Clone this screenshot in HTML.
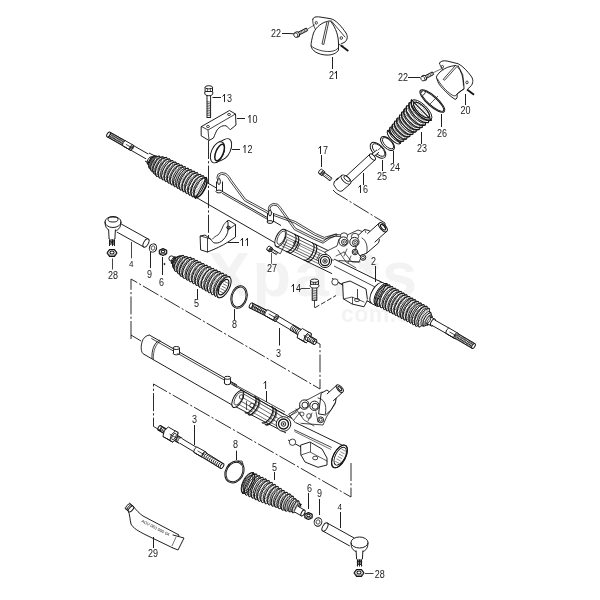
<!DOCTYPE html>
<html><head><meta charset="utf-8"><style>
html,body{margin:0;padding:0;background:#fff;}
svg{display:block;will-change:transform;}
text{font-family:"Liberation Sans",sans-serif;fill:#1a1a1a;}
.wm text{fill:#f3f3f3;font-weight:bold;}
</style></head><body>
<svg width="600" height="600" viewBox="0 0 600 600">
<rect width="600" height="600" fill="#fff"/>
<g class="wm"><text x="208" y="296" font-size="63" letter-spacing="2.6">Xparts</text><text x="341" y="322" font-size="23" letter-spacing="0.5">com.ua</text></g>
<path d="M312.8,19.3 C313,17 316,16.5 320,17 L331,18.8 C336,20 342,27 346,33 C348,36 347.5,40 345,42 L341,44" fill="none" stroke="#141414" stroke-width="0.95" stroke-linejoin="round" stroke-linecap="round"/>
<path d="M329,21 C322,22 316,27 313.5,33 C312,38 311,43 311,46 C312,51 318,54.5 326,55 C332,55.5 337,53 338.5,50 L338.5,44 C338.5,36 336,28 331,21.7 Z" fill="#fff" stroke="#141414" stroke-width="0.95" stroke-linejoin="round" stroke-linecap="round"/>
<path d="M331,20.5 L345,37" fill="none" stroke="#141414" stroke-width="0.8" stroke-linejoin="round" stroke-linecap="round"/>
<path d="M311.3,46 C315,49.5 323,51.8 330,51.5 C334.5,51.2 337.5,49.5 338.5,47.5" fill="none" stroke="#141414" stroke-width="0.8" stroke-linejoin="round" stroke-linecap="round"/>
<path d="M312.8,19.3 C312.5,22 313,25 315,28.5" fill="none" stroke="#141414" stroke-width="0.8" stroke-linejoin="round" stroke-linecap="round"/>
<ellipse cx="316.3" cy="22.8" rx="1.1" ry="1.4" transform="rotate(0.0 316.3 22.8)" fill="none" stroke="#141414" stroke-width="0.8"/>
<path d="M327,21.7 L322,44 L323.8,44.4 L328.8,21.7" fill="#fff" stroke="#141414" stroke-width="0.8" stroke-linejoin="round" stroke-linecap="round"/>
<ellipse cx="341.3" cy="38.0" rx="1.2" ry="1.4" transform="rotate(0.0 341.3 38.0)" fill="none" stroke="#141414" stroke-width="0.8"/>
<path d="M339,44 C340,46 342,47 343,46" fill="none" stroke="#141414" stroke-width="0.8" stroke-linejoin="round" stroke-linecap="round"/>
<line x1="341.0" y1="45.5" x2="348.3" y2="51.0" stroke="#141414" stroke-width="1.8"/>
<line x1="307.0" y1="29.5" x2="315.0" y2="24.6" stroke="#141414" stroke-width="0.6"/>
<polygon points="297.7,35.8 307.7,30.6 306.3,28.0 296.3,33.2" fill="#fff" stroke="#141414" stroke-width="0.95" stroke-linejoin="round"/>
<line x1="300.5" y1="34.3" x2="299.9" y2="31.3" stroke="#141414" stroke-width="0.6"/>
<line x1="302.0" y1="33.6" x2="301.3" y2="30.6" stroke="#141414" stroke-width="0.6"/>
<line x1="303.4" y1="32.8" x2="302.7" y2="29.8" stroke="#141414" stroke-width="0.6"/>
<line x1="304.8" y1="32.1" x2="304.2" y2="29.1" stroke="#141414" stroke-width="0.6"/>
<line x1="306.3" y1="31.4" x2="305.6" y2="28.4" stroke="#141414" stroke-width="0.6"/>
<ellipse cx="297.0" cy="34.5" rx="2.7" ry="2.4" transform="rotate(62.5 297.0 34.5)" fill="#fff" stroke="#141414" stroke-width="0.95"/>
<ellipse cx="295.8" cy="35.1" rx="2.4" ry="1.9" transform="rotate(62.5 295.8 35.1)" fill="#fff" stroke="#141414" stroke-width="0.76"/>
<line x1="290.0" y1="33.6" x2="294.0" y2="33.8" stroke="#141414" stroke-width="0.95"/>
<line x1="282.0" y1="33.5" x2="290.0" y2="33.5" stroke="#141414" stroke-width="0.95"/>
<text transform="translate(271.0,37.0) scale(0.9,1)" font-size="10">2</text>
<text transform="translate(276.0,37.0) scale(0.9,1)" font-size="10">2</text>
<line x1="332.5" y1="57.0" x2="332.5" y2="69.0" stroke="#141414" stroke-width="0.95"/>
<text transform="translate(329.0,79.0) scale(0.9,1)" font-size="10">2</text>
<path d="M334.50,73.40 L336.10,72.00 L336.50,71.10 L336.50,79.00" fill="none" stroke="#1a1a1a" stroke-width="0.95" stroke-linejoin="miter"/>
<path d="M439.5,63.2 C440,61 443,60.5 447,61 L458.2,63.75 C463,66 468,72 471,76 C473,78.5 473.5,82 471.6,85.3 L468,88.8" fill="none" stroke="#141414" stroke-width="0.95" stroke-linejoin="round" stroke-linecap="round"/>
<path d="M455.8,65.5 C450,66 444,68 440,72 C437,75 436,77 436.6,78 C438,83 440,86 443,88.8 C447,93 451,97 455,99.3 C457,99.5 457.5,97 457,94 L464,88.8 C464,82 463,76 460,70 Z" fill="#fff" stroke="#141414" stroke-width="0.95" stroke-linejoin="round" stroke-linecap="round"/>
<path d="M458,65.5 L462.8,74.8 L463.4,85.3" fill="none" stroke="#141414" stroke-width="0.8" stroke-linejoin="round" stroke-linecap="round"/>
<path d="M437.5,79 C440,84 446,91 452,95 C454.5,96.5 456.2,96 456.8,94.5" fill="none" stroke="#141414" stroke-width="0.8" stroke-linejoin="round" stroke-linecap="round"/>
<path d="M439.5,63.2 C440,65 441,68 443,70" fill="none" stroke="#141414" stroke-width="0.8" stroke-linejoin="round" stroke-linecap="round"/>
<ellipse cx="442.4" cy="66.7" rx="1.1" ry="1.3" transform="rotate(0.0 442.4 66.7)" fill="none" stroke="#141414" stroke-width="0.8"/>
<path d="M455,66 L443.2,79.3 L444.5,80.3 L456.5,67" fill="#fff" stroke="#141414" stroke-width="0.8" stroke-linejoin="round" stroke-linecap="round"/>
<ellipse cx="467.0" cy="82.4" rx="1.2" ry="1.4" transform="rotate(0.0 467.0 82.4)" fill="none" stroke="#141414" stroke-width="0.8"/>
<path d="M457,94 C459,92 462,90 464,89" fill="none" stroke="#141414" stroke-width="0.8" stroke-linejoin="round" stroke-linecap="round"/>
<line x1="467.0" y1="89.5" x2="474.0" y2="94.7" stroke="#141414" stroke-width="1.8"/>
<line x1="432.5" y1="73.0" x2="442.4" y2="68.4" stroke="#141414" stroke-width="0.6"/>
<polygon points="424.7,79.3 433.7,74.5 432.3,71.9 423.3,76.7" fill="#fff" stroke="#141414" stroke-width="0.95" stroke-linejoin="round"/>
<line x1="427.7" y1="77.7" x2="427.0" y2="74.7" stroke="#141414" stroke-width="0.6"/>
<line x1="429.2" y1="76.9" x2="428.5" y2="73.9" stroke="#141414" stroke-width="0.6"/>
<line x1="430.7" y1="76.1" x2="430.0" y2="73.1" stroke="#141414" stroke-width="0.6"/>
<line x1="432.2" y1="75.3" x2="431.5" y2="72.3" stroke="#141414" stroke-width="0.6"/>
<ellipse cx="424.0" cy="78.0" rx="2.7" ry="2.4" transform="rotate(61.9 424.0 78.0)" fill="#fff" stroke="#141414" stroke-width="0.95"/>
<ellipse cx="422.8" cy="78.6" rx="2.4" ry="1.9" transform="rotate(61.9 422.8 78.6)" fill="#fff" stroke="#141414" stroke-width="0.76"/>
<line x1="408.0" y1="77.5" x2="420.0" y2="77.5" stroke="#141414" stroke-width="0.95"/>
<text transform="translate(398.0,81.0) scale(0.9,1)" font-size="10">2</text>
<text transform="translate(403.0,81.0) scale(0.9,1)" font-size="10">2</text>
<line x1="465.5" y1="94.0" x2="465.5" y2="105.0" stroke="#141414" stroke-width="0.95"/>
<text transform="translate(460.5,114.0) scale(0.9,1)" font-size="10">2</text>
<text transform="translate(465.5,114.0) scale(0.9,1)" font-size="10">0</text>
<ellipse cx="432.3" cy="101.0" rx="16.0" ry="5.2" transform="rotate(41.7 432.3 101.0)" fill="none" stroke="#141414" stroke-width="0.95"/>
<ellipse cx="432.3" cy="101.0" rx="14.8" ry="4.2" transform="rotate(41.7 432.3 101.0)" fill="none" stroke="#141414" stroke-width="0.95"/>
<ellipse cx="423.0" cy="93.0" rx="1.8" ry="2.6" transform="rotate(41.7 423.0 93.0)" fill="#fff" stroke="#141414" stroke-width="0.8"/>
<line x1="430.0" y1="104.0" x2="438.0" y2="96.0" stroke="#141414" stroke-width="0.7"/>
<line x1="441.5" y1="114.0" x2="441.5" y2="127.0" stroke="#141414" stroke-width="0.95"/>
<text transform="translate(437.0,137.0) scale(0.9,1)" font-size="10">2</text>
<text transform="translate(442.0,137.0) scale(0.9,1)" font-size="10">6</text>
<polygon points="400.3,143.4 400.6,143.0 400.7,142.5 400.9,141.9 401.1,141.5 401.6,141.3 402.3,141.3 402.9,141.3 403.4,141.1 403.7,140.7 403.8,140.1 403.9,139.6 404.2,139.2 404.7,139.0 405.4,139.0 406.0,139.0 406.6,138.8 406.8,138.4 406.9,137.8 407.0,137.2 407.3,136.8 407.8,136.6 408.5,136.6 409.2,136.6 409.7,136.5 409.9,136.0 410.0,135.4 410.1,134.8 410.4,134.4 410.9,134.3 411.6,134.3 412.3,134.3 412.8,134.1 413.1,133.7 413.1,133.1 413.2,132.5 413.5,132.1 414.0,131.9 414.7,131.9 415.4,132.0 415.9,131.8 416.2,131.4 416.2,130.8 416.3,130.1 416.5,129.7 417.1,129.5 417.8,129.6 418.5,129.6 419.0,129.5 419.3,129.1 419.3,128.4 419.4,127.8 419.6,127.3 420.1,127.2 420.9,127.2 421.6,127.3 422.2,127.2 422.4,126.7 422.4,126.1 422.5,125.4 422.7,125.0 423.2,124.8 424.0,124.9 424.7,125.0 425.3,124.9 425.5,124.4 425.5,123.7 425.5,123.1 425.8,122.6 426.3,122.5 427.1,122.6 427.9,122.7 428.4,122.5 428.6,122.1 428.6,121.4 428.6,120.7 428.9,120.2 429.4,120.1 430.2,120.2 431.0,120.3 431.5,120.2 411.5,99.8 411.3,100.3 411.4,101.1 411.5,101.9 411.4,102.5 410.9,102.7 410.2,102.7 409.6,102.6 409.1,102.9 409.0,103.4 409.0,104.2 409.1,105.0 409.0,105.5 408.5,105.7 407.8,105.7 407.2,105.7 406.7,105.9 406.6,106.5 406.6,107.2 406.7,108.0 406.6,108.5 406.1,108.8 405.4,108.8 404.8,108.8 404.3,109.0 404.2,109.6 404.2,110.3 404.3,111.0 404.1,111.6 403.7,111.8 403.0,111.8 402.4,111.9 402.0,112.1 401.8,112.6 401.8,113.4 401.9,114.1 401.7,114.6 401.3,114.8 400.6,114.9 400.0,114.9 399.6,115.2 399.4,115.7 399.4,116.4 399.5,117.1 399.3,117.6 398.9,117.9 398.2,117.9 397.6,118.0 397.2,118.3 397.0,118.8 397.0,119.5 397.1,120.2 396.9,120.7 396.4,120.9 395.8,121.0 395.2,121.1 394.8,121.3 394.6,121.8 394.6,122.5 394.6,123.2 394.5,123.7 394.0,124.0 393.4,124.1 392.9,124.1 392.4,124.4 392.3,124.9 392.2,125.6 392.2,126.2 392.0,126.7 391.6,127.0 391.0,127.1 390.5,127.2 390.1,127.5 389.9,128.0 389.8,128.6 389.8,129.3 389.6,129.8 389.2,130.1 388.6,130.2 388.1,130.3 387.7,130.6" fill="#fff" stroke="#141414" stroke-width="1.05" stroke-linejoin="round"/>
<path d="M400.3,143.4 A8.9,3.7 45.5 0 1 387.7,130.6" fill="none" stroke="#141414" stroke-width="1.05" stroke-linejoin="round" stroke-linecap="round"/>
<path d="M401.1,141.5 A8.2,3.5 45.5 0 1 389.6,129.8" fill="none" stroke="#141414" stroke-width="0.8400000000000001" stroke-linejoin="round" stroke-linecap="round"/>
<path d="M403.4,141.0 A9.5,4.0 45.5 0 1 390.1,127.6" fill="none" stroke="#141414" stroke-width="1.05" stroke-linejoin="round" stroke-linecap="round"/>
<path d="M404.2,139.2 A8.7,3.7 45.5 0 1 392.0,126.7" fill="none" stroke="#141414" stroke-width="0.8400000000000001" stroke-linejoin="round" stroke-linecap="round"/>
<path d="M406.5,138.7 A10.0,4.2 45.5 0 1 392.5,124.5" fill="none" stroke="#141414" stroke-width="1.05" stroke-linejoin="round" stroke-linecap="round"/>
<path d="M407.3,136.8 A9.2,3.8 45.5 0 1 394.5,123.7" fill="none" stroke="#141414" stroke-width="0.8400000000000001" stroke-linejoin="round" stroke-linecap="round"/>
<path d="M409.6,136.4 A10.5,4.4 45.5 0 1 394.9,121.4" fill="none" stroke="#141414" stroke-width="1.05" stroke-linejoin="round" stroke-linecap="round"/>
<path d="M410.4,134.4 A9.6,4.0 45.5 0 1 396.9,120.7" fill="none" stroke="#141414" stroke-width="0.8400000000000001" stroke-linejoin="round" stroke-linecap="round"/>
<path d="M412.7,134.1 A11.0,4.6 45.5 0 1 397.3,118.3" fill="none" stroke="#141414" stroke-width="1.05" stroke-linejoin="round" stroke-linecap="round"/>
<path d="M413.5,132.1 A10.1,4.2 45.5 0 1 399.3,117.6" fill="none" stroke="#141414" stroke-width="0.8400000000000001" stroke-linejoin="round" stroke-linecap="round"/>
<path d="M415.8,131.7 A11.6,4.9 45.5 0 1 399.7,115.3" fill="none" stroke="#141414" stroke-width="1.05" stroke-linejoin="round" stroke-linecap="round"/>
<path d="M416.5,129.7 A10.6,4.4 45.5 0 1 401.7,114.6" fill="none" stroke="#141414" stroke-width="0.8400000000000001" stroke-linejoin="round" stroke-linecap="round"/>
<path d="M419.0,129.4 A12.1,5.1 45.5 0 1 402.0,112.2" fill="none" stroke="#141414" stroke-width="1.05" stroke-linejoin="round" stroke-linecap="round"/>
<path d="M419.6,127.3 A11.0,4.6 45.5 0 1 404.1,111.6" fill="none" stroke="#141414" stroke-width="0.8400000000000001" stroke-linejoin="round" stroke-linecap="round"/>
<path d="M422.1,127.1 A12.6,5.3 45.5 0 1 404.4,109.1" fill="none" stroke="#141414" stroke-width="1.05" stroke-linejoin="round" stroke-linecap="round"/>
<path d="M422.7,125.0 A11.5,4.8 45.5 0 1 406.6,108.5" fill="none" stroke="#141414" stroke-width="0.8400000000000001" stroke-linejoin="round" stroke-linecap="round"/>
<path d="M425.2,124.8 A13.1,5.5 45.5 0 1 406.8,106.0" fill="none" stroke="#141414" stroke-width="1.05" stroke-linejoin="round" stroke-linecap="round"/>
<path d="M425.8,122.6 A12.0,5.0 45.5 0 1 409.0,105.5" fill="none" stroke="#141414" stroke-width="0.8400000000000001" stroke-linejoin="round" stroke-linecap="round"/>
<path d="M428.3,122.4 A13.7,5.7 45.5 0 1 409.2,103.0" fill="none" stroke="#141414" stroke-width="1.05" stroke-linejoin="round" stroke-linecap="round"/>
<path d="M428.9,120.2 A12.5,5.2 45.5 0 1 411.4,102.5" fill="none" stroke="#141414" stroke-width="0.8400000000000001" stroke-linejoin="round" stroke-linecap="round"/>
<path d="M431.4,120.1 A14.2,6.0 45.5 0 1 411.6,99.9" fill="none" stroke="#141414" stroke-width="1.05" stroke-linejoin="round" stroke-linecap="round"/>
<polyline points="389.8,130.9 390.1,130.5 390.4,130.1 390.8,129.8 391.1,129.4 391.4,129.0 391.7,128.6 392.0,128.2 392.3,127.8 392.6,127.5 392.9,127.1 393.3,126.7 393.6,126.3 393.9,125.9 394.2,125.5 394.5,125.2 394.8,124.8 395.1,124.4 395.4,124.0 395.8,123.6 396.1,123.3 396.4,122.9 396.7,122.5 397.0,122.1 397.3,121.7 397.6,121.3 398.0,121.0 398.3,120.6 398.6,120.2 398.9,119.8 399.2,119.4 399.5,119.0 399.8,118.7 400.1,118.3 400.5,117.9 400.8,117.5 401.1,117.1 401.4,116.8 401.7,116.4 402.0,116.0 402.3,115.6 402.6,115.2 403.0,114.8 403.3,114.5 403.6,114.1 403.9,113.7 404.2,113.3 404.5,112.9 404.8,112.5 405.1,112.2 405.5,111.8 405.8,111.4 406.1,111.0 406.4,110.6 406.7,110.3 407.0,109.9 407.3,109.5 407.7,109.1 408.0,108.7 408.3,108.3 408.6,108.0 408.9,107.6 409.2,107.2 409.5,106.8 409.8,106.4 410.2,106.0 410.5,105.7 410.8,105.3 411.1,104.9 411.4,104.5 411.7,104.1 412.0,103.8 412.3,103.4 412.7,103.0 413.0,102.6 413.3,102.2 413.6,101.8 413.9,101.5 414.2,101.1 414.5,100.7 414.9,100.3" fill="none" stroke="#141414" stroke-width="0.6825000000000001" stroke-linejoin="round" stroke-dasharray="1.2 1.2"/>
<polyline points="391.0,131.4 391.3,131.1 391.6,130.7 392.0,130.3 392.3,129.9 392.6,129.6 392.9,129.2 393.2,128.8 393.6,128.4 393.9,128.0 394.2,127.7 394.5,127.3 394.9,126.9 395.2,126.5 395.5,126.1 395.8,125.8 396.1,125.4 396.5,125.0 396.8,124.6 397.1,124.3 397.4,123.9 397.7,123.5 398.1,123.1 398.4,122.7 398.7,122.4 399.0,122.0 399.4,121.6 399.7,121.2 400.0,120.8 400.3,120.5 400.6,120.1 401.0,119.7 401.3,119.3 401.6,119.0 401.9,118.6 402.3,118.2 402.6,117.8 402.9,117.4 403.2,117.1 403.5,116.7 403.9,116.3 404.2,115.9 404.5,115.6 404.8,115.2 405.1,114.8 405.5,114.4 405.8,114.0 406.1,113.7 406.4,113.3 406.8,112.9 407.1,112.5 407.4,112.1 407.7,111.8 408.0,111.4 408.4,111.0 408.7,110.6 409.0,110.3 409.3,109.9 409.7,109.5 410.0,109.1 410.3,108.7 410.6,108.4 410.9,108.0 411.3,107.6 411.6,107.2 411.9,106.8 412.2,106.5 412.5,106.1 412.9,105.7 413.2,105.3 413.5,105.0 413.8,104.6 414.2,104.2 414.5,103.8 414.8,103.4 415.1,103.1 415.4,102.7 415.8,102.3 416.1,101.9 416.4,101.6 416.7,101.2" fill="none" stroke="#141414" stroke-width="0.6825000000000001" stroke-linejoin="round" stroke-dasharray="1.2 1.2"/>
<polyline points="392.1,132.1 392.4,131.7 392.7,131.4 393.0,131.0 393.4,130.6 393.7,130.2 394.0,129.9 394.4,129.5 394.7,129.1 395.0,128.7 395.4,128.4 395.7,128.0 396.0,127.6 396.3,127.2 396.7,126.9 397.0,126.5 397.3,126.1 397.7,125.7 398.0,125.4 398.3,125.0 398.7,124.6 399.0,124.3 399.3,123.9 399.6,123.5 400.0,123.1 400.3,122.8 400.6,122.4 401.0,122.0 401.3,121.6 401.6,121.3 401.9,120.9 402.3,120.5 402.6,120.1 402.9,119.8 403.3,119.4 403.6,119.0 403.9,118.6 404.3,118.3 404.6,117.9 404.9,117.5 405.2,117.2 405.6,116.8 405.9,116.4 406.2,116.0 406.6,115.7 406.9,115.3 407.2,114.9 407.5,114.5 407.9,114.2 408.2,113.8 408.5,113.4 408.9,113.0 409.2,112.7 409.5,112.3 409.9,111.9 410.2,111.6 410.5,111.2 410.8,110.8 411.2,110.4 411.5,110.1 411.8,109.7 412.2,109.3 412.5,108.9 412.8,108.6 413.1,108.2 413.5,107.8 413.8,107.4 414.1,107.1 414.5,106.7 414.8,106.3 415.1,105.9 415.5,105.6 415.8,105.2 416.1,104.8 416.4,104.5 416.8,104.1 417.1,103.7 417.4,103.3 417.8,103.0 418.1,102.6 418.4,102.2" fill="none" stroke="#141414" stroke-width="0.6825000000000001" stroke-linejoin="round" stroke-dasharray="1.2 1.2"/>
<polyline points="393.1,132.8 393.4,132.5 393.7,132.1 394.1,131.7 394.4,131.3 394.7,131.0 395.1,130.6 395.4,130.2 395.8,129.9 396.1,129.5 396.4,129.1 396.8,128.8 397.1,128.4 397.4,128.0 397.8,127.7 398.1,127.3 398.4,126.9 398.8,126.6 399.1,126.2 399.5,125.8 399.8,125.5 400.1,125.1 400.5,124.7 400.8,124.3 401.1,124.0 401.5,123.6 401.8,123.2 402.2,122.9 402.5,122.5 402.8,122.1 403.2,121.8 403.5,121.4 403.8,121.0 404.2,120.7 404.5,120.3 404.8,119.9 405.2,119.6 405.5,119.2 405.9,118.8 406.2,118.5 406.5,118.1 406.9,117.7 407.2,117.4 407.5,117.0 407.9,116.6 408.2,116.2 408.6,115.9 408.9,115.5 409.2,115.1 409.6,114.8 409.9,114.4 410.2,114.0 410.6,113.7 410.9,113.3 411.2,112.9 411.6,112.6 411.9,112.2 412.3,111.8 412.6,111.5 412.9,111.1 413.3,110.7 413.6,110.4 413.9,110.0 414.3,109.6 414.6,109.3 415.0,108.9 415.3,108.5 415.6,108.1 416.0,107.8 416.3,107.4 416.6,107.0 417.0,106.7 417.3,106.3 417.6,105.9 418.0,105.6 418.3,105.2 418.7,104.8 419.0,104.5 419.3,104.1 419.7,103.7 420.0,103.4" fill="none" stroke="#141414" stroke-width="0.6825000000000001" stroke-linejoin="round" stroke-dasharray="1.2 1.2"/>
<polyline points="394.0,133.6 394.4,133.2 394.7,132.9 395.0,132.5 395.4,132.1 395.7,131.8 396.1,131.4 396.4,131.1 396.8,130.7 397.1,130.3 397.4,130.0 397.8,129.6 398.1,129.2 398.5,128.9 398.8,128.5 399.2,128.2 399.5,127.8 399.9,127.4 400.2,127.1 400.5,126.7 400.9,126.3 401.2,126.0 401.6,125.6 401.9,125.2 402.3,124.9 402.6,124.5 402.9,124.2 403.3,123.8 403.6,123.4 404.0,123.1 404.3,122.7 404.7,122.3 405.0,122.0 405.4,121.6 405.7,121.3 406.0,120.9 406.4,120.5 406.7,120.2 407.1,119.8 407.4,119.4 407.8,119.1 408.1,118.7 408.4,118.4 408.8,118.0 409.1,117.6 409.5,117.3 409.8,116.9 410.2,116.5 410.5,116.2 410.9,115.8 411.2,115.5 411.5,115.1 411.9,114.7 412.2,114.4 412.6,114.0 412.9,113.6 413.3,113.3 413.6,112.9 413.9,112.6 414.3,112.2 414.6,111.8 415.0,111.5 415.3,111.1 415.7,110.7 416.0,110.4 416.4,110.0 416.7,109.7 417.0,109.3 417.4,108.9 417.7,108.6 418.1,108.2 418.4,107.8 418.8,107.5 419.1,107.1 419.4,106.8 419.8,106.4 420.1,106.0 420.5,105.7 420.8,105.3 421.2,104.9 421.5,104.6" fill="none" stroke="#141414" stroke-width="0.6825000000000001" stroke-linejoin="round" stroke-dasharray="1.2 1.2"/>
<polyline points="394.9,134.4 395.3,134.0 395.6,133.7 396.0,133.3 396.3,133.0 396.7,132.6 397.0,132.3 397.4,131.9 397.7,131.5 398.1,131.2 398.4,130.8 398.8,130.5 399.1,130.1 399.5,129.8 399.8,129.4 400.2,129.1 400.5,128.7 400.9,128.3 401.2,128.0 401.6,127.6 401.9,127.3 402.3,126.9 402.6,126.6 403.0,126.2 403.3,125.8 403.7,125.5 404.0,125.1 404.4,124.8 404.7,124.4 405.1,124.1 405.4,123.7 405.8,123.3 406.1,123.0 406.5,122.6 406.8,122.3 407.2,121.9 407.5,121.6 407.9,121.2 408.2,120.8 408.6,120.5 408.9,120.1 409.3,119.8 409.6,119.4 410.0,119.1 410.3,118.7 410.7,118.4 411.0,118.0 411.4,117.6 411.7,117.3 412.1,116.9 412.4,116.6 412.8,116.2 413.1,115.9 413.5,115.5 413.8,115.1 414.2,114.8 414.5,114.4 414.9,114.1 415.2,113.7 415.6,113.4 415.9,113.0 416.3,112.6 416.6,112.3 417.0,111.9 417.3,111.6 417.7,111.2 418.0,110.9 418.4,110.5 418.7,110.2 419.1,109.8 419.4,109.4 419.8,109.1 420.1,108.7 420.5,108.4 420.8,108.0 421.2,107.7 421.6,107.3 421.9,106.9 422.3,106.6 422.6,106.2 423.0,105.9" fill="none" stroke="#141414" stroke-width="0.6825000000000001" stroke-linejoin="round" stroke-dasharray="1.2 1.2"/>
<polyline points="395.8,135.2 396.1,134.9 396.5,134.5 396.9,134.2 397.2,133.8 397.6,133.5 397.9,133.1 398.3,132.8 398.6,132.4 399.0,132.1 399.4,131.7 399.7,131.4 400.1,131.0 400.4,130.7 400.8,130.3 401.1,130.0 401.5,129.6 401.8,129.3 402.2,128.9 402.6,128.6 402.9,128.2 403.3,127.9 403.6,127.5 404.0,127.2 404.3,126.8 404.7,126.5 405.1,126.1 405.4,125.8 405.8,125.4 406.1,125.1 406.5,124.7 406.8,124.4 407.2,124.0 407.6,123.7 407.9,123.3 408.3,123.0 408.6,122.6 409.0,122.3 409.3,121.9 409.7,121.6 410.1,121.2 410.4,120.9 410.8,120.5 411.1,120.2 411.5,119.8 411.8,119.5 412.2,119.1 412.6,118.8 412.9,118.4 413.3,118.1 413.6,117.7 414.0,117.4 414.3,117.0 414.7,116.7 415.1,116.3 415.4,116.0 415.8,115.6 416.1,115.3 416.5,114.9 416.8,114.6 417.2,114.2 417.6,113.9 417.9,113.5 418.3,113.2 418.6,112.8 419.0,112.5 419.3,112.1 419.7,111.8 420.0,111.4 420.4,111.1 420.8,110.7 421.1,110.4 421.5,110.0 421.8,109.7 422.2,109.3 422.5,109.0 422.9,108.6 423.3,108.3 423.6,107.9 424.0,107.6 424.3,107.2" fill="none" stroke="#141414" stroke-width="0.6825000000000001" stroke-linejoin="round" stroke-dasharray="1.2 1.2"/>
<polyline points="396.6,136.1 397.0,135.8 397.3,135.4 397.7,135.1 398.1,134.8 398.4,134.4 398.8,134.1 399.2,133.7 399.5,133.4 399.9,133.0 400.2,132.7 400.6,132.4 401.0,132.0 401.3,131.7 401.7,131.3 402.1,131.0 402.4,130.6 402.8,130.3 403.1,129.9 403.5,129.6 403.9,129.3 404.2,128.9 404.6,128.6 405.0,128.2 405.3,127.9 405.7,127.5 406.1,127.2 406.4,126.8 406.8,126.5 407.1,126.2 407.5,125.8 407.9,125.5 408.2,125.1 408.6,124.8 409.0,124.4 409.3,124.1 409.7,123.8 410.0,123.4 410.4,123.1 410.8,122.7 411.1,122.4 411.5,122.0 411.9,121.7 412.2,121.3 412.6,121.0 412.9,120.7 413.3,120.3 413.7,120.0 414.0,119.6 414.4,119.3 414.8,118.9 415.1,118.6 415.5,118.3 415.9,117.9 416.2,117.6 416.6,117.2 416.9,116.9 417.3,116.5 417.7,116.2 418.0,115.8 418.4,115.5 418.8,115.2 419.1,114.8 419.5,114.5 419.8,114.1 420.2,113.8 420.6,113.4 420.9,113.1 421.3,112.8 421.7,112.4 422.0,112.1 422.4,111.7 422.8,111.4 423.1,111.0 423.5,110.7 423.8,110.3 424.2,110.0 424.6,109.7 424.9,109.3 425.3,109.0 425.7,108.6" fill="none" stroke="#141414" stroke-width="0.6825000000000001" stroke-linejoin="round" stroke-dasharray="1.2 1.2"/>
<polyline points="397.4,137.1 397.8,136.7 398.1,136.4 398.5,136.0 398.9,135.7 399.3,135.4 399.6,135.0 400.0,134.7 400.4,134.4 400.7,134.0 401.1,133.7 401.5,133.3 401.8,133.0 402.2,132.7 402.6,132.3 402.9,132.0 403.3,131.7 403.7,131.3 404.0,131.0 404.4,130.7 404.8,130.3 405.2,130.0 405.5,129.6 405.9,129.3 406.3,129.0 406.6,128.6 407.0,128.3 407.4,128.0 407.7,127.6 408.1,127.3 408.5,126.9 408.8,126.6 409.2,126.3 409.6,125.9 410.0,125.6 410.3,125.3 410.7,124.9 411.1,124.6 411.4,124.2 411.8,123.9 412.2,123.6 412.5,123.2 412.9,122.9 413.3,122.6 413.6,122.2 414.0,121.9 414.4,121.5 414.7,121.2 415.1,120.9 415.5,120.5 415.9,120.2 416.2,119.9 416.6,119.5 417.0,119.2 417.3,118.9 417.7,118.5 418.1,118.2 418.4,117.8 418.8,117.5 419.2,117.2 419.5,116.8 419.9,116.5 420.3,116.2 420.6,115.8 421.0,115.5 421.4,115.1 421.8,114.8 422.1,114.5 422.5,114.1 422.9,113.8 423.2,113.5 423.6,113.1 424.0,112.8 424.3,112.4 424.7,112.1 425.1,111.8 425.4,111.4 425.8,111.1 426.2,110.8 426.5,110.4 426.9,110.1" fill="none" stroke="#141414" stroke-width="0.6825000000000001" stroke-linejoin="round" stroke-dasharray="1.2 1.2"/>
<polyline points="398.2,138.0 398.5,137.7 398.9,137.4 399.3,137.0 399.7,136.7 400.0,136.4 400.4,136.0 400.8,135.7 401.2,135.4 401.5,135.0 401.9,134.7 402.3,134.4 402.7,134.1 403.0,133.7 403.4,133.4 403.8,133.1 404.2,132.7 404.5,132.4 404.9,132.1 405.3,131.7 405.7,131.4 406.0,131.1 406.4,130.8 406.8,130.4 407.1,130.1 407.5,129.8 407.9,129.4 408.3,129.1 408.6,128.8 409.0,128.4 409.4,128.1 409.8,127.8 410.1,127.5 410.5,127.1 410.9,126.8 411.3,126.5 411.6,126.1 412.0,125.8 412.4,125.5 412.8,125.1 413.1,124.8 413.5,124.5 413.9,124.2 414.3,123.8 414.6,123.5 415.0,123.2 415.4,122.8 415.8,122.5 416.1,122.2 416.5,121.8 416.9,121.5 417.3,121.2 417.6,120.9 418.0,120.5 418.4,120.2 418.8,119.9 419.1,119.5 419.5,119.2 419.9,118.9 420.3,118.5 420.6,118.2 421.0,117.9 421.4,117.6 421.7,117.2 422.1,116.9 422.5,116.6 422.9,116.2 423.2,115.9 423.6,115.6 424.0,115.2 424.4,114.9 424.7,114.6 425.1,114.3 425.5,113.9 425.9,113.6 426.2,113.3 426.6,112.9 427.0,112.6 427.4,112.3 427.7,111.9 428.1,111.6" fill="none" stroke="#141414" stroke-width="0.6825000000000001" stroke-linejoin="round" stroke-dasharray="1.2 1.2"/>
<polyline points="398.9,139.0 399.2,138.7 399.6,138.4 400.0,138.1 400.4,137.7 400.8,137.4 401.1,137.1 401.5,136.8 401.9,136.4 402.3,136.1 402.7,135.8 403.0,135.5 403.4,135.2 403.8,134.8 404.2,134.5 404.6,134.2 404.9,133.9 405.3,133.5 405.7,133.2 406.1,132.9 406.5,132.6 406.8,132.3 407.2,131.9 407.6,131.6 408.0,131.3 408.4,131.0 408.7,130.6 409.1,130.3 409.5,130.0 409.9,129.7 410.3,129.4 410.6,129.0 411.0,128.7 411.4,128.4 411.8,128.1 412.1,127.7 412.5,127.4 412.9,127.1 413.3,126.8 413.7,126.4 414.0,126.1 414.4,125.8 414.8,125.5 415.2,125.2 415.6,124.8 415.9,124.5 416.3,124.2 416.7,123.9 417.1,123.5 417.5,123.2 417.8,122.9 418.2,122.6 418.6,122.3 419.0,121.9 419.4,121.6 419.7,121.3 420.1,121.0 420.5,120.6 420.9,120.3 421.3,120.0 421.6,119.7 422.0,119.4 422.4,119.0 422.8,118.7 423.2,118.4 423.5,118.1 423.9,117.7 424.3,117.4 424.7,117.1 425.1,116.8 425.4,116.4 425.8,116.1 426.2,115.8 426.6,115.5 427.0,115.2 427.3,114.8 427.7,114.5 428.1,114.2 428.5,113.9 428.8,113.5 429.2,113.2" fill="none" stroke="#141414" stroke-width="0.6825000000000001" stroke-linejoin="round" stroke-dasharray="1.2 1.2"/>
<polyline points="399.5,140.1 399.9,139.8 400.3,139.5 400.7,139.2 401.0,138.8 401.4,138.5 401.8,138.2 402.2,137.9 402.6,137.6 403.0,137.3 403.3,137.0 403.7,136.6 404.1,136.3 404.5,136.0 404.9,135.7 405.3,135.4 405.6,135.1 406.0,134.8 406.4,134.4 406.8,134.1 407.2,133.8 407.6,133.5 408.0,133.2 408.3,132.9 408.7,132.6 409.1,132.2 409.5,131.9 409.9,131.6 410.3,131.3 410.6,131.0 411.0,130.7 411.4,130.4 411.8,130.0 412.2,129.7 412.6,129.4 412.9,129.1 413.3,128.8 413.7,128.5 414.1,128.2 414.5,127.8 414.9,127.5 415.3,127.2 415.6,126.9 416.0,126.6 416.4,126.3 416.8,125.9 417.2,125.6 417.6,125.3 417.9,125.0 418.3,124.7 418.7,124.4 419.1,124.1 419.5,123.7 419.9,123.4 420.2,123.1 420.6,122.8 421.0,122.5 421.4,122.2 421.8,121.9 422.2,121.5 422.6,121.2 422.9,120.9 423.3,120.6 423.7,120.3 424.1,120.0 424.5,119.7 424.9,119.3 425.2,119.0 425.6,118.7 426.0,118.4 426.4,118.1 426.8,117.8 427.2,117.5 427.5,117.1 427.9,116.8 428.3,116.5 428.7,116.2 429.1,115.9 429.5,115.6 429.9,115.2 430.2,114.9" fill="none" stroke="#141414" stroke-width="0.6825000000000001" stroke-linejoin="round" stroke-dasharray="1.2 1.2"/>
<polyline points="400.0,141.3 400.4,141.0 400.8,140.7 401.2,140.4 401.6,140.1 402.0,139.8 402.4,139.5 402.7,139.2 403.1,138.8 403.5,138.5 403.9,138.2 404.3,137.9 404.7,137.6 405.1,137.3 405.5,137.0 405.8,136.7 406.2,136.4 406.6,136.1 407.0,135.8 407.4,135.5 407.8,135.2 408.2,134.9 408.6,134.6 408.9,134.3 409.3,134.0 409.7,133.6 410.1,133.3 410.5,133.0 410.9,132.7 411.3,132.4 411.7,132.1 412.1,131.8 412.4,131.5 412.8,131.2 413.2,130.9 413.6,130.6 414.0,130.3 414.4,130.0 414.8,129.7 415.2,129.4 415.5,129.1 415.9,128.8 416.3,128.4 416.7,128.1 417.1,127.8 417.5,127.5 417.9,127.2 418.3,126.9 418.6,126.6 419.0,126.3 419.4,126.0 419.8,125.7 420.2,125.4 420.6,125.1 421.0,124.8 421.4,124.5 421.8,124.2 422.1,123.9 422.5,123.6 422.9,123.2 423.3,122.9 423.7,122.6 424.1,122.3 424.5,122.0 424.9,121.7 425.2,121.4 425.6,121.1 426.0,120.8 426.4,120.5 426.8,120.2 427.2,119.9 427.6,119.6 428.0,119.3 428.3,119.0 428.7,118.7 429.1,118.4 429.5,118.0 429.9,117.7 430.3,117.4 430.7,117.1 431.1,116.8" fill="none" stroke="#141414" stroke-width="0.6825000000000001" stroke-linejoin="round" stroke-dasharray="1.2 1.2"/>
<ellipse cx="421.5" cy="110.0" rx="13.5" ry="5.6" transform="rotate(44.5 421.5 110.0)" fill="none" stroke="#141414" stroke-width="0.9"/>
<ellipse cx="421.5" cy="110.0" rx="10.5" ry="4.0" transform="rotate(44.5 421.5 110.0)" fill="none" stroke="#141414" stroke-width="1.2"/>
<line x1="421.5" y1="132.0" x2="421.5" y2="144.0" stroke="#141414" stroke-width="0.95"/>
<text transform="translate(417.0,152.0) scale(0.9,1)" font-size="10">2</text>
<text transform="translate(422.0,152.0) scale(0.9,1)" font-size="10">3</text>
<ellipse cx="387.5" cy="143.5" rx="8.8" ry="4.6" transform="rotate(45.0 387.5 143.5)" fill="none" stroke="#141414" stroke-width="1.0"/>
<ellipse cx="388.0" cy="143.2" rx="7.2" ry="3.4" transform="rotate(45.0 388.0 143.2)" fill="none" stroke="#141414" stroke-width="0.9"/>
<line x1="393.5" y1="151.0" x2="393.5" y2="163.0" stroke="#141414" stroke-width="0.95"/>
<text transform="translate(390.0,171.0) scale(0.9,1)" font-size="10">2</text>
<text transform="translate(395.0,171.0) scale(0.9,1)" font-size="10">4</text>
<ellipse cx="378.0" cy="150.3" rx="9.8" ry="5.4" transform="rotate(45.0 378.0 150.3)" fill="none" stroke="#141414" stroke-width="1.0"/>
<ellipse cx="378.6" cy="150.0" rx="8.0" ry="4.0" transform="rotate(45.0 378.6 150.0)" fill="none" stroke="#141414" stroke-width="0.9"/>
<line x1="374.0" y1="153.5" x2="382.0" y2="146.5" stroke="#141414" stroke-width="0.7"/>
<line x1="382.5" y1="160.0" x2="382.5" y2="171.0" stroke="#141414" stroke-width="0.95"/>
<text transform="translate(377.0,180.0) scale(0.9,1)" font-size="10">2</text>
<text transform="translate(382.0,180.0) scale(0.9,1)" font-size="10">5</text>
<polygon points="373.0,157.2 379.0,152.2 377.0,149.8 371.0,154.8" fill="#fff" stroke="none"/>
<line x1="373.0" y1="157.2" x2="379.0" y2="152.2" stroke="#141414" stroke-width="0.95"/>
<line x1="371.0" y1="154.8" x2="377.0" y2="149.8" stroke="#141414" stroke-width="0.95"/>
<polygon points="348.6,184.3 375.1,159.8 369.9,154.2 343.4,178.7" fill="#fff" stroke="none"/>
<line x1="348.6" y1="184.3" x2="375.1" y2="159.8" stroke="#141414" stroke-width="0.95"/>
<line x1="343.4" y1="178.7" x2="369.9" y2="154.2" stroke="#141414" stroke-width="0.95"/>
<ellipse cx="372.5" cy="157.0" rx="3.8" ry="1.9" transform="rotate(47.2 372.5 157.0)" fill="#fff" stroke="#141414" stroke-width="0.95"/>
<polygon points="342.0,191.0 350.0,184.0 342.0,175.0 334.0,182.0" fill="#fff" stroke="none"/>
<line x1="342.0" y1="191.0" x2="350.0" y2="184.0" stroke="#141414" stroke-width="0.95"/>
<line x1="334.0" y1="182.0" x2="342.0" y2="175.0" stroke="#141414" stroke-width="0.95"/>
<path d="M334.05,182 A6,3 48.8 0 0 341.95,191" fill="none" stroke="#141414" stroke-width="0.9" stroke-linejoin="round" stroke-linecap="round"/>
<ellipse cx="346.0" cy="179.5" rx="6.0" ry="3.0" transform="rotate(41.2 346.0 179.5)" fill="#fff" stroke="#141414" stroke-width="0.95"/>
<ellipse cx="347.0" cy="178.6" rx="3.8" ry="1.9" transform="rotate(41.2 347.0 178.6)" fill="none" stroke="#141414" stroke-width="0.8"/>
<line x1="336.0" y1="180.0" x2="338.5" y2="178.0" stroke="#141414" stroke-width="1.2"/>
<line x1="363.5" y1="173.0" x2="363.5" y2="185.0" stroke="#141414" stroke-width="0.95"/>
<path d="M358.50,187.40 L360.10,186.00 L360.50,185.10 L360.50,193.00" fill="none" stroke="#1a1a1a" stroke-width="0.95" stroke-linejoin="miter"/>
<text transform="translate(363.0,193.0) scale(0.9,1)" font-size="10">6</text>
<polygon points="321.5,174.3 330.0,180.8 332.0,178.2 323.5,171.7" fill="#fff" stroke="#141414" stroke-width="0.95" stroke-linejoin="round"/>
<line x1="322.9" y1="175.4" x2="325.4" y2="173.2" stroke="#141414" stroke-width="0.6"/>
<line x1="324.4" y1="176.4" x2="326.9" y2="174.3" stroke="#141414" stroke-width="0.6"/>
<line x1="325.8" y1="177.5" x2="328.3" y2="175.4" stroke="#141414" stroke-width="0.6"/>
<line x1="327.2" y1="178.6" x2="329.7" y2="176.5" stroke="#141414" stroke-width="0.6"/>
<line x1="328.6" y1="179.7" x2="331.1" y2="177.6" stroke="#141414" stroke-width="0.6"/>
<polygon points="318.4,172.9 319.3,170.5 321.4,169.1 322.6,170.0 324.6,171.5 323.7,173.9 321.6,175.4" fill="#fff" stroke="#141414" stroke-width="0.95" stroke-linejoin="round"/>
<polygon points="321.6,175.4 323.7,173.9 324.6,171.5 323.4,170.6 321.3,172.1 320.4,174.5" fill="#fff" stroke="#141414" stroke-width="0.95" stroke-linejoin="round"/>
<line x1="319.6" y1="173.9" x2="321.6" y2="175.4" stroke="#141414" stroke-width="0.76"/>
<line x1="321.7" y1="172.4" x2="323.7" y2="173.9" stroke="#141414" stroke-width="0.76"/>
<line x1="318.4" y1="172.9" x2="320.4" y2="174.5" stroke="#141414" stroke-width="0.76"/>
<ellipse cx="322.5" cy="173.0" rx="1.5" ry="0.8" transform="rotate(127.4 322.5 173.0)" fill="none" stroke="#141414" stroke-width="0.76"/>
<line x1="321.5" y1="155.0" x2="321.5" y2="167.0" stroke="#141414" stroke-width="0.95"/>
<path d="M318.50,148.40 L320.10,147.00 L320.50,146.10 L320.50,154.00" fill="none" stroke="#1a1a1a" stroke-width="0.95" stroke-linejoin="miter"/>
<text transform="translate(323.0,154.0) scale(0.9,1)" font-size="10">7</text>
<rect x="207.0" y="94.5" width="3.6" height="23.0" fill="#fff" stroke="#141414" stroke-width="0.95"/>
<line x1="207.0" y1="101.5" x2="210.6" y2="102.2" stroke="#141414" stroke-width="0.6"/>
<line x1="207.0" y1="103.2" x2="210.6" y2="103.9" stroke="#141414" stroke-width="0.6"/>
<line x1="207.0" y1="104.9" x2="210.6" y2="105.6" stroke="#141414" stroke-width="0.6"/>
<line x1="207.0" y1="106.6" x2="210.6" y2="107.3" stroke="#141414" stroke-width="0.6"/>
<line x1="207.0" y1="108.3" x2="210.6" y2="109.0" stroke="#141414" stroke-width="0.6"/>
<line x1="207.0" y1="110.0" x2="210.6" y2="110.7" stroke="#141414" stroke-width="0.6"/>
<line x1="207.0" y1="111.7" x2="210.6" y2="112.4" stroke="#141414" stroke-width="0.6"/>
<line x1="207.0" y1="113.4" x2="210.6" y2="114.1" stroke="#141414" stroke-width="0.6"/>
<line x1="207.0" y1="115.1" x2="210.6" y2="115.8" stroke="#141414" stroke-width="0.6"/>
<ellipse cx="208.8" cy="93.0" rx="4.1" ry="2.7" transform="rotate(0.0 208.8 93.0)" fill="#fff" stroke="#141414" stroke-width="0.95"/>
<path d="M205.1,87.3 L205.1,91.5 L212.5,91.5 L212.5,87.3 Z" fill="#fff" stroke="#141414" stroke-width="0.95"/>
<ellipse cx="208.8" cy="87.3" rx="3.7" ry="1.6" transform="rotate(0.0 208.8 87.3)" fill="#fff" stroke="#141414" stroke-width="0.95"/>
<line x1="207.5" y1="88.6" x2="207.5" y2="91.5" stroke="#141414" stroke-width="0.6"/>
<line x1="210.5" y1="88.6" x2="210.5" y2="91.5" stroke="#141414" stroke-width="0.6"/>
<line x1="212.5" y1="97.5" x2="221.0" y2="97.5" stroke="#141414" stroke-width="0.95"/>
<path d="M222.50,96.40 L224.10,95.00 L224.50,94.10 L224.50,102.00" fill="none" stroke="#1a1a1a" stroke-width="0.95" stroke-linejoin="miter"/>
<text transform="translate(227.0,102.0) scale(0.9,1)" font-size="10">3</text>
<path d="M201.5,126.5 L229.5,110.5 L235.5,114 L236,125 L230.5,129.5 C229,129 228,127 226,125.8 C222,125 218,128 216.5,131 C215,134 214,137 213.5,138 L209,140.5 L201.5,136 Z" fill="#fff" stroke="#141414" stroke-width="0.95" stroke-linejoin="round" stroke-linecap="round"/>
<path d="M201.5,126.5 L208,130 L235.5,114" fill="none" stroke="#141414" stroke-width="0.8" stroke-linejoin="round" stroke-linecap="round"/>
<line x1="208.0" y1="130.0" x2="209.0" y2="140.5" stroke="#141414" stroke-width="0.8"/>
<ellipse cx="229.0" cy="114.5" rx="1.5" ry="1.0" transform="rotate(0.0 229.0 114.5)" fill="none" stroke="#141414" stroke-width="0.8"/>
<ellipse cx="208.0" cy="126.5" rx="1.5" ry="1.0" transform="rotate(0.0 208.0 126.5)" fill="none" stroke="#141414" stroke-width="0.8"/>
<line x1="237.0" y1="118.5" x2="245.0" y2="118.5" stroke="#141414" stroke-width="0.95"/>
<path d="M248.00,117.40 L249.60,116.00 L250.00,115.10 L250.00,123.00" fill="none" stroke="#1a1a1a" stroke-width="0.95" stroke-linejoin="miter"/>
<text transform="translate(252.5,123.0) scale(0.9,1)" font-size="10">0</text>
<ellipse cx="224.5" cy="149.2" rx="6.1" ry="11.2" transform="rotate(23.6 224.5 149.2)" fill="#fff" stroke="#141414" stroke-width="0.95"/>
<polygon points="218.5,142.2 225.5,139.1 223.5,159.3 216.5,162.4" fill="#fff" stroke="none"/>
<line x1="218.5" y1="142.2" x2="225.5" y2="139.1" stroke="#141414" stroke-width="0.95"/>
<line x1="216.5" y1="162.4" x2="223.5" y2="159.3" stroke="#141414" stroke-width="0.95"/>
<ellipse cx="217.5" cy="152.3" rx="6.1" ry="11.2" transform="rotate(23.6 217.5 152.3)" fill="#fff" stroke="#141414" stroke-width="0.95"/>
<ellipse cx="219.6" cy="152.5" rx="3.7" ry="8.8" transform="rotate(23.0 219.6 152.5)" fill="none" stroke="#141414" stroke-width="1.5"/>
<line x1="232.0" y1="149.5" x2="240.0" y2="149.5" stroke="#141414" stroke-width="0.95"/>
<path d="M243.00,147.40 L244.60,146.00 L245.00,145.10 L245.00,153.00" fill="none" stroke="#1a1a1a" stroke-width="0.95" stroke-linejoin="miter"/>
<text transform="translate(247.5,153.0) scale(0.9,1)" font-size="10">2</text>
<polygon points="107.1,136.9 123.1,145.9 125.9,141.1 109.9,132.1" fill="#fff" stroke="none"/>
<line x1="107.1" y1="136.9" x2="123.1" y2="145.9" stroke="#141414" stroke-width="0.95"/>
<line x1="109.9" y1="132.1" x2="125.9" y2="141.1" stroke="#141414" stroke-width="0.95"/>
<path d="M108.4,137.6 A2.8,1.4 119.4 0 1 111.1,132.8" fill="none" stroke="#141414" stroke-width="0.7" stroke-linejoin="round" stroke-linecap="round"/>
<path d="M109.6,138.3 A2.8,1.4 119.4 0 1 112.3,133.4" fill="none" stroke="#141414" stroke-width="0.7" stroke-linejoin="round" stroke-linecap="round"/>
<path d="M110.8,139.0 A2.8,1.4 119.4 0 1 113.6,134.1" fill="none" stroke="#141414" stroke-width="0.7" stroke-linejoin="round" stroke-linecap="round"/>
<path d="M112.1,139.7 A2.8,1.4 119.4 0 1 114.8,134.8" fill="none" stroke="#141414" stroke-width="0.7" stroke-linejoin="round" stroke-linecap="round"/>
<path d="M113.3,140.4 A2.8,1.4 119.4 0 1 116.0,135.5" fill="none" stroke="#141414" stroke-width="0.7" stroke-linejoin="round" stroke-linecap="round"/>
<path d="M114.5,141.1 A2.8,1.4 119.4 0 1 117.3,136.2" fill="none" stroke="#141414" stroke-width="0.7" stroke-linejoin="round" stroke-linecap="round"/>
<path d="M115.7,141.8 A2.8,1.4 119.4 0 1 118.5,136.9" fill="none" stroke="#141414" stroke-width="0.7" stroke-linejoin="round" stroke-linecap="round"/>
<path d="M117.0,142.5 A2.8,1.4 119.4 0 1 119.7,137.6" fill="none" stroke="#141414" stroke-width="0.7" stroke-linejoin="round" stroke-linecap="round"/>
<path d="M118.2,143.2 A2.8,1.4 119.4 0 1 120.9,138.3" fill="none" stroke="#141414" stroke-width="0.7" stroke-linejoin="round" stroke-linecap="round"/>
<path d="M119.4,143.9 A2.8,1.4 119.4 0 1 122.2,139.0" fill="none" stroke="#141414" stroke-width="0.7" stroke-linejoin="round" stroke-linecap="round"/>
<path d="M120.7,144.6 A2.8,1.4 119.4 0 1 123.4,139.7" fill="none" stroke="#141414" stroke-width="0.7" stroke-linejoin="round" stroke-linecap="round"/>
<path d="M121.9,145.2 A2.8,1.4 119.4 0 1 124.6,140.4" fill="none" stroke="#141414" stroke-width="0.7" stroke-linejoin="round" stroke-linecap="round"/>
<line x1="109.0" y1="133.7" x2="125.0" y2="142.7" stroke="#141414" stroke-width="0.7"/>
<line x1="108.0" y1="135.3" x2="124.0" y2="144.3" stroke="#141414" stroke-width="0.7"/>
<ellipse cx="108.5" cy="134.5" rx="2.8" ry="1.4" transform="rotate(119.4 108.5 134.5)" fill="#fff" stroke="#141414" stroke-width="0.95"/>
<polygon points="130.2,149.8 147.7,159.8 150.3,155.2 132.8,145.2" fill="#fff" stroke="none"/>
<line x1="130.2" y1="149.8" x2="147.7" y2="159.8" stroke="#141414" stroke-width="0.95"/>
<line x1="132.8" y1="145.2" x2="150.3" y2="155.2" stroke="#141414" stroke-width="0.95"/>
<polygon points="122.4,145.6 123.1,142.7 125.2,140.6 132.2,144.6 133.6,145.4 132.9,148.3 130.8,150.4 123.8,146.4" fill="#fff" stroke="#141414" stroke-width="0.95" stroke-linejoin="round"/>
<polygon points="130.8,150.4 132.9,148.3 133.6,145.4 132.2,144.6 130.1,146.7 129.4,149.6" fill="#fff" stroke="#141414" stroke-width="0.95" stroke-linejoin="round"/>
<line x1="123.8" y1="146.4" x2="130.8" y2="150.4" stroke="#141414" stroke-width="0.76"/>
<line x1="125.9" y1="144.3" x2="132.9" y2="148.3" stroke="#141414" stroke-width="0.76"/>
<line x1="122.4" y1="145.6" x2="129.4" y2="149.6" stroke="#141414" stroke-width="0.76"/>
<ellipse cx="131.5" cy="147.5" rx="1.8" ry="0.9" transform="rotate(119.7 131.5 147.5)" fill="none" stroke="#141414" stroke-width="0.76"/>
<polygon points="145.0,161.0 151.0,164.0 155.0,156.0 149.0,153.0" fill="#fff" stroke="none"/>
<line x1="145.0" y1="161.0" x2="151.0" y2="164.0" stroke="#141414" stroke-width="0.95"/>
<line x1="149.0" y1="153.0" x2="155.0" y2="156.0" stroke="#141414" stroke-width="0.95"/>
<ellipse cx="153.0" cy="160.0" rx="4.5" ry="2.2" transform="rotate(116.6 153.0 160.0)" fill="#fff" stroke="#141414" stroke-width="0.95"/>
<polygon points="196,178 282,226 300,236 372,276 378,298 370,297 286,249 194,197" fill="#fff" stroke="none"/>
<line x1="200.0" y1="178.5" x2="281.0" y2="225.5" stroke="#141414" stroke-width="0.95"/>
<line x1="222.0" y1="193.2" x2="272.0" y2="222.0" stroke="#141414" stroke-width="0.8"/>
<line x1="196.0" y1="197.3" x2="278.0" y2="244.5" stroke="#141414" stroke-width="0.95"/>
<polygon points="147.5,164.2 147.9,164.4 148.3,164.6 148.6,164.9 148.9,165.3 149.0,165.9 149.1,166.7 149.2,167.5 149.3,168.2 149.5,168.7 149.8,169.0 150.2,169.2 150.6,169.4 150.8,169.9 151.0,170.4 151.2,170.9 151.5,171.3 151.9,171.5 152.4,171.4 152.9,171.4 153.3,171.6 153.5,172.1 153.7,172.8 153.8,173.4 154.0,173.9 154.4,174.2 154.9,174.2 155.4,174.1 155.8,174.3 156.0,174.8 156.1,175.4 156.2,176.1 156.5,176.5 156.9,176.6 157.5,176.5 158.1,176.3 158.6,176.3 158.9,176.7 159.0,177.3 159.2,177.9 159.5,178.2 160.0,178.3 160.5,178.1 161.1,177.9 161.6,178.0 161.9,178.3 162.0,178.9 162.2,179.5 162.5,179.9 163.0,179.9 163.6,179.8 164.1,179.6 164.6,179.6 164.9,180.0 165.0,180.6 165.2,181.2 165.5,181.6 166.0,181.6 166.5,181.4 167.1,181.3 167.6,181.3 167.9,181.7 168.0,182.3 168.2,182.9 168.5,183.3 168.9,183.3 169.5,183.1 170.1,183.0 170.6,183.0 170.9,183.4 171.0,184.0 171.2,184.6 171.5,185.0 171.9,185.0 172.5,184.8 173.1,184.7 173.6,184.7 173.8,185.1 174.0,185.7 174.2,186.3 174.4,186.7 174.9,186.8 175.5,186.6 176.1,186.4 176.5,186.4 176.8,186.8 177.0,187.4 177.1,188.0 177.4,188.4 177.9,188.5 178.5,188.3 179.0,188.1 179.5,188.1 179.8,188.5 179.9,189.1 180.1,189.8 180.4,190.2 180.8,190.2 181.4,190.0 182.0,189.8 182.5,189.9 182.8,190.2 182.9,190.9 183.1,191.5 183.4,191.9 183.8,191.9 184.4,191.7 185.0,191.5 185.5,191.6 185.8,191.9 185.9,192.6 186.1,193.2 186.3,193.6 186.8,193.6 187.4,193.4 188.0,193.2 188.5,193.2 188.7,193.6 188.9,194.3 189.1,194.9 189.3,195.3 189.8,195.3 190.4,195.1 191.0,194.9 191.5,194.9 191.8,195.3 191.9,195.9 192.1,196.6 192.3,196.9 192.8,197.0 193.4,196.7 194.0,196.5 194.5,196.6 194.8,196.9 194.9,197.6 195.1,198.2 195.4,198.6 206.6,177.4 206.2,177.4 205.6,177.6 205.0,177.9 204.5,177.8 204.2,177.4 204.0,176.8 203.9,176.2 203.6,175.8 203.1,175.8 202.5,176.0 201.9,176.3 201.4,176.2 201.2,175.9 201.0,175.2 200.8,174.6 200.6,174.3 200.1,174.2 199.5,174.5 198.9,174.7 198.4,174.7 198.1,174.3 197.9,173.7 197.8,173.1 197.5,172.7 197.0,172.7 196.4,172.9 195.8,173.1 195.3,173.1 195.0,172.8 194.9,172.1 194.7,171.5 194.4,171.2 193.9,171.2 193.3,171.4 192.7,171.6 192.2,171.6 192.0,171.2 191.8,170.6 191.6,170.0 191.3,169.7 190.8,169.6 190.2,169.9 189.6,170.1 189.2,170.1 188.9,169.7 188.7,169.1 188.5,168.5 188.2,168.2 187.8,168.1 187.2,168.3 186.6,168.6 186.1,168.5 185.8,168.2 185.6,167.6 185.4,167.0 185.1,166.6 184.7,166.6 184.1,166.8 183.5,167.0 183.0,167.0 182.7,166.7 182.5,166.1 182.4,165.5 182.1,165.1 181.6,165.1 181.0,165.3 180.4,165.5 179.9,165.5 179.6,165.1 179.5,164.6 179.3,164.0 179.0,163.6 178.5,163.6 177.9,163.8 177.3,164.0 176.9,164.0 176.6,163.6 176.4,163.0 176.2,162.4 175.9,162.1 175.4,162.0 174.8,162.2 174.3,162.4 173.8,162.4 173.5,162.0 173.3,161.5 173.1,160.9 172.8,160.5 172.4,160.5 171.8,160.7 171.2,160.9 170.7,160.8 170.4,160.5 170.3,159.9 170.1,159.3 169.8,158.9 169.3,158.9 168.7,159.1 168.2,159.3 167.7,159.2 167.4,158.9 167.2,158.3 167.0,157.7 166.7,157.4 166.2,157.4 165.6,157.7 165.0,158.0 164.5,158.0 164.1,157.8 163.8,157.4 163.6,157.0 163.2,156.8 162.6,156.9 162.0,157.1 161.4,157.4 160.9,157.5 160.5,157.2 160.2,156.8 159.9,156.4 159.6,156.2 159.1,156.1 158.6,156.3 158.0,156.4 157.5,156.4 157.1,156.3 156.7,156.1 156.3,155.9 155.8,156.0 155.1,156.3 154.4,156.7 153.7,157.1 153.2,157.3 152.7,157.3 152.3,157.2 151.9,157.0 151.5,156.8" fill="#fff" stroke="#141414" stroke-width="1.0" stroke-linejoin="round"/>
<path d="M147.5,164.2 A4.2,1.8 118.1 0 1 151.5,156.8" fill="none" stroke="#141414" stroke-width="1.0" stroke-linejoin="round" stroke-linecap="round"/>
<path d="M148.9,165.3 A4.5,1.9 118.1 0 1 153.2,157.3" fill="none" stroke="#141414" stroke-width="0.8" stroke-linejoin="round" stroke-linecap="round"/>
<path d="M149.3,168.2 A6.9,2.9 118.1 0 1 155.8,156.1" fill="none" stroke="#141414" stroke-width="1.0" stroke-linejoin="round" stroke-linecap="round"/>
<path d="M150.6,169.4 A7.4,3.1 118.1 0 1 157.5,156.4" fill="none" stroke="#141414" stroke-width="0.8" stroke-linejoin="round" stroke-linecap="round"/>
<path d="M151.6,171.2 A8.5,3.6 118.1 0 1 159.6,156.2" fill="none" stroke="#141414" stroke-width="1.0" stroke-linejoin="round" stroke-linecap="round"/>
<path d="M153.3,171.6 A8.0,3.4 118.1 0 1 160.9,157.5" fill="none" stroke="#141414" stroke-width="0.8" stroke-linejoin="round" stroke-linecap="round"/>
<path d="M154.0,173.9 A9.6,4.1 118.1 0 1 163.1,156.8" fill="none" stroke="#141414" stroke-width="1.0" stroke-linejoin="round" stroke-linecap="round"/>
<path d="M155.8,174.3 A9.2,3.9 118.1 0 1 164.5,158.0" fill="none" stroke="#141414" stroke-width="0.8" stroke-linejoin="round" stroke-linecap="round"/>
<path d="M156.6,176.5 A10.7,4.5 118.1 0 1 166.7,157.5" fill="none" stroke="#141414" stroke-width="1.0" stroke-linejoin="round" stroke-linecap="round"/>
<path d="M158.6,176.3 A9.7,4.1 118.1 0 1 167.7,159.2" fill="none" stroke="#141414" stroke-width="0.8" stroke-linejoin="round" stroke-linecap="round"/>
<path d="M159.5,178.1 A10.8,4.5 118.1 0 1 169.7,159.0" fill="none" stroke="#141414" stroke-width="1.0" stroke-linejoin="round" stroke-linecap="round"/>
<path d="M161.6,178.0 A9.7,4.1 118.1 0 1 170.7,160.8" fill="none" stroke="#141414" stroke-width="0.8" stroke-linejoin="round" stroke-linecap="round"/>
<path d="M162.6,179.8 A10.9,4.6 118.1 0 1 172.8,160.6" fill="none" stroke="#141414" stroke-width="1.0" stroke-linejoin="round" stroke-linecap="round"/>
<path d="M164.6,179.6 A9.8,4.1 118.1 0 1 173.8,162.4" fill="none" stroke="#141414" stroke-width="0.8" stroke-linejoin="round" stroke-linecap="round"/>
<path d="M165.6,181.5 A10.9,4.6 118.1 0 1 175.9,162.2" fill="none" stroke="#141414" stroke-width="1.0" stroke-linejoin="round" stroke-linecap="round"/>
<path d="M167.6,181.3 A9.8,4.1 118.1 0 1 176.9,164.0" fill="none" stroke="#141414" stroke-width="0.8" stroke-linejoin="round" stroke-linecap="round"/>
<path d="M168.5,183.2 A11.0,4.6 118.1 0 1 178.9,163.7" fill="none" stroke="#141414" stroke-width="1.0" stroke-linejoin="round" stroke-linecap="round"/>
<path d="M170.6,183.0 A9.9,4.2 118.1 0 1 179.9,165.5" fill="none" stroke="#141414" stroke-width="0.8" stroke-linejoin="round" stroke-linecap="round"/>
<path d="M171.5,184.9 A11.1,4.7 118.1 0 1 182.0,165.2" fill="none" stroke="#141414" stroke-width="1.0" stroke-linejoin="round" stroke-linecap="round"/>
<path d="M173.6,184.7 A10.0,4.2 118.1 0 1 183.0,167.0" fill="none" stroke="#141414" stroke-width="0.8" stroke-linejoin="round" stroke-linecap="round"/>
<path d="M174.5,186.6 A11.3,4.7 118.1 0 1 185.1,166.7" fill="none" stroke="#141414" stroke-width="1.0" stroke-linejoin="round" stroke-linecap="round"/>
<path d="M176.5,186.4 A10.1,4.3 118.1 0 1 186.1,168.5" fill="none" stroke="#141414" stroke-width="0.8" stroke-linejoin="round" stroke-linecap="round"/>
<path d="M177.5,188.3 A11.4,4.8 118.1 0 1 188.2,168.3" fill="none" stroke="#141414" stroke-width="1.0" stroke-linejoin="round" stroke-linecap="round"/>
<path d="M179.5,188.1 A10.2,4.3 118.1 0 1 189.2,170.1" fill="none" stroke="#141414" stroke-width="0.8" stroke-linejoin="round" stroke-linecap="round"/>
<path d="M180.4,190.1 A11.5,4.8 118.1 0 1 191.3,169.8" fill="none" stroke="#141414" stroke-width="1.0" stroke-linejoin="round" stroke-linecap="round"/>
<path d="M182.5,189.9 A10.4,4.3 118.1 0 1 192.2,171.6" fill="none" stroke="#141414" stroke-width="0.8" stroke-linejoin="round" stroke-linecap="round"/>
<path d="M183.4,191.8 A11.6,4.9 118.1 0 1 194.4,171.3" fill="none" stroke="#141414" stroke-width="1.0" stroke-linejoin="round" stroke-linecap="round"/>
<path d="M185.5,191.6 A10.4,4.4 118.1 0 1 195.3,173.1" fill="none" stroke="#141414" stroke-width="0.8" stroke-linejoin="round" stroke-linecap="round"/>
<path d="M186.4,193.5 A11.7,4.9 118.1 0 1 197.4,172.8" fill="none" stroke="#141414" stroke-width="1.0" stroke-linejoin="round" stroke-linecap="round"/>
<path d="M188.5,193.2 A10.5,4.4 118.1 0 1 198.4,174.7" fill="none" stroke="#141414" stroke-width="0.8" stroke-linejoin="round" stroke-linecap="round"/>
<path d="M189.4,195.2 A11.8,5.0 118.1 0 1 200.5,174.4" fill="none" stroke="#141414" stroke-width="1.0" stroke-linejoin="round" stroke-linecap="round"/>
<path d="M191.5,194.9 A10.6,4.4 118.1 0 1 201.4,176.2" fill="none" stroke="#141414" stroke-width="0.8" stroke-linejoin="round" stroke-linecap="round"/>
<path d="M192.4,196.8 A11.8,5.0 118.1 0 1 203.6,175.9" fill="none" stroke="#141414" stroke-width="1.0" stroke-linejoin="round" stroke-linecap="round"/>
<path d="M194.5,196.6 A10.6,4.5 118.1 0 1 204.5,177.8" fill="none" stroke="#141414" stroke-width="0.8" stroke-linejoin="round" stroke-linecap="round"/>
<path d="M195.4,198.5 A11.9,5.0 118.1 0 1 206.6,177.5" fill="none" stroke="#141414" stroke-width="1.0" stroke-linejoin="round" stroke-linecap="round"/>
<polyline points="151.6,157.8 152.1,157.9 152.5,158.0 153.1,158.0 153.6,158.0 154.2,157.9 154.8,157.8 155.4,157.7 156.0,157.7 156.6,157.6 157.2,157.5 157.8,157.5 158.3,157.6 158.7,157.7 159.1,157.9 159.5,158.0 159.9,158.2 160.3,158.3 160.8,158.5 161.2,158.6 161.7,158.7 162.1,158.8 162.6,158.9 163.1,159.0 163.5,159.1 164.0,159.2 164.5,159.2 164.9,159.3 165.4,159.4 165.8,159.5 166.3,159.7 166.7,159.8 167.1,160.0 167.5,160.1 167.9,160.3 168.3,160.5 168.7,160.7 169.0,160.9 169.4,161.1 169.8,161.3 170.2,161.5 170.6,161.7 170.9,161.9 171.3,162.1 171.7,162.3 172.1,162.5 172.5,162.7 172.9,162.9 173.2,163.1 173.6,163.3 174.0,163.5 174.4,163.7 174.8,163.9 175.2,164.1 175.5,164.3 175.9,164.5 176.3,164.7 176.7,164.9 177.1,165.1 177.5,165.3 177.8,165.5 178.2,165.7 178.6,165.9 179.0,166.1 179.4,166.2 179.8,166.4 180.2,166.6 180.5,166.8 180.9,167.0 181.3,167.2 181.7,167.4 182.1,167.6 182.5,167.8 182.9,168.0 183.2,168.2 183.6,168.4 184.0,168.6 184.4,168.8 184.8,168.9 185.2,169.1 185.6,169.3 185.9,169.5 186.3,169.7 186.7,169.9 187.1,170.1 187.5,170.3 187.9,170.5 188.3,170.7 188.7,170.9 189.0,171.1 189.4,171.3 189.8,171.4 190.2,171.6 190.6,171.8 191.0,172.0 191.4,172.2 191.7,172.4 192.1,172.6 192.5,172.8 192.9,173.0 193.3,173.2 193.7,173.4 194.1,173.6 194.4,173.8 194.8,174.0 195.2,174.1 195.6,174.3 196.0,174.5 196.4,174.7 196.8,174.9 197.1,175.1 197.5,175.3 197.9,175.5 198.3,175.7 198.7,175.9 199.1,176.1 199.4,176.3 199.8,176.5 200.2,176.7 200.6,176.9 201.0,177.1 201.4,177.3 201.7,177.5 202.1,177.7 202.5,177.9 202.9,178.1 203.3,178.3 203.7,178.5 204.0,178.7 204.4,178.9 204.8,179.1 205.2,179.3 205.6,179.5 205.9,179.7 206.3,179.9 206.7,180.1 207.1,180.3" fill="none" stroke="#141414" stroke-width="0.65" stroke-linejoin="round" stroke-dasharray="1.2 1.2"/>
<polyline points="151.6,158.4 152.0,158.5 152.5,158.6 153.0,158.7 153.5,158.7 154.1,158.7 154.7,158.7 155.3,158.7 155.9,158.6 156.5,158.6 157.1,158.6 157.6,158.7 158.1,158.7 158.6,158.9 158.9,159.1 159.3,159.3 159.7,159.4 160.2,159.6 160.6,159.7 161.0,159.9 161.5,160.0 162.0,160.1 162.4,160.2 162.9,160.3 163.3,160.5 163.8,160.6 164.3,160.7 164.7,160.8 165.2,160.9 165.6,161.1 166.1,161.2 166.5,161.3 166.9,161.5 167.3,161.7 167.7,161.9 168.1,162.1 168.5,162.3 168.8,162.5 169.2,162.7 169.6,162.9 170.0,163.1 170.4,163.3 170.7,163.5 171.1,163.7 171.5,163.9 171.9,164.1 172.3,164.3 172.7,164.5 173.0,164.7 173.4,164.9 173.8,165.1 174.2,165.3 174.6,165.5 175.0,165.7 175.3,165.9 175.7,166.1 176.1,166.3 176.5,166.5 176.9,166.7 177.3,166.9 177.6,167.1 178.0,167.3 178.4,167.4 178.8,167.6 179.2,167.8 179.6,168.0 179.9,168.2 180.3,168.4 180.7,168.6 181.1,168.8 181.5,169.0 181.9,169.2 182.3,169.4 182.6,169.6 183.0,169.8 183.4,170.0 183.8,170.2 184.2,170.4 184.6,170.6 185.0,170.8 185.4,171.0 185.7,171.2 186.1,171.3 186.5,171.5 186.9,171.7 187.3,171.9 187.7,172.1 188.1,172.3 188.4,172.5 188.8,172.7 189.2,172.9 189.6,173.1 190.0,173.3 190.4,173.5 190.8,173.7 191.1,173.9 191.5,174.1 191.9,174.3 192.3,174.5 192.7,174.7 193.1,174.8 193.5,175.0 193.8,175.2 194.2,175.4 194.6,175.6 195.0,175.8 195.4,176.0 195.8,176.2 196.2,176.4 196.5,176.6 196.9,176.8 197.3,177.0 197.7,177.2 198.1,177.4 198.5,177.6 198.8,177.8 199.2,178.0 199.6,178.2 200.0,178.4 200.4,178.6 200.8,178.8 201.1,179.0 201.5,179.2 201.9,179.4 202.3,179.6 202.7,179.8 203.1,180.0 203.4,180.2 203.8,180.4 204.2,180.6 204.6,180.8 205.0,181.0 205.3,181.2 205.7,181.4 206.1,181.6 206.5,181.8 206.9,182.0" fill="none" stroke="#141414" stroke-width="0.65" stroke-linejoin="round" stroke-dasharray="1.2 1.2"/>
<polyline points="151.4,158.9 151.8,159.1 152.3,159.3 152.8,159.4 153.3,159.4 153.9,159.5 154.5,159.5 155.1,159.5 155.7,159.6 156.3,159.6 156.8,159.7 157.3,159.8 157.8,159.9 158.3,160.0 158.7,160.2 159.1,160.4 159.5,160.6 159.9,160.7 160.3,160.9 160.7,161.1 161.2,161.2 161.6,161.4 162.1,161.5 162.6,161.6 163.0,161.8 163.5,161.9 163.9,162.0 164.4,162.2 164.8,162.3 165.3,162.5 165.7,162.6 166.1,162.8 166.6,163.0 167.0,163.2 167.3,163.4 167.7,163.6 168.1,163.8 168.5,164.0 168.9,164.2 169.2,164.4 169.6,164.6 170.0,164.8 170.4,165.0 170.8,165.2 171.1,165.4 171.5,165.6 171.9,165.8 172.3,166.0 172.7,166.2 173.0,166.4 173.4,166.6 173.8,166.8 174.2,167.0 174.6,167.2 175.0,167.4 175.3,167.6 175.7,167.8 176.1,168.0 176.5,168.2 176.9,168.3 177.3,168.5 177.6,168.7 178.0,168.9 178.4,169.1 178.8,169.3 179.2,169.5 179.6,169.7 180.0,169.9 180.3,170.1 180.7,170.3 181.1,170.5 181.5,170.7 181.9,170.9 182.3,171.1 182.7,171.3 183.0,171.5 183.4,171.7 183.8,171.9 184.2,172.1 184.6,172.3 185.0,172.5 185.4,172.7 185.7,172.9 186.1,173.1 186.5,173.3 186.9,173.5 187.3,173.7 187.7,173.9 188.1,174.1 188.4,174.3 188.8,174.5 189.2,174.6 189.6,174.8 190.0,175.0 190.4,175.2 190.7,175.4 191.1,175.6 191.5,175.8 191.9,176.0 192.3,176.2 192.7,176.4 193.1,176.6 193.4,176.8 193.8,177.0 194.2,177.2 194.6,177.4 195.0,177.6 195.4,177.8 195.8,178.0 196.1,178.2 196.5,178.4 196.9,178.6 197.3,178.8 197.7,179.0 198.1,179.2 198.4,179.4 198.8,179.6 199.2,179.8 199.6,180.0 200.0,180.2 200.4,180.4 200.7,180.6 201.1,180.8 201.5,181.0 201.9,181.2 202.3,181.4 202.6,181.6 203.0,181.8 203.4,182.0 203.8,182.2 204.2,182.4 204.5,182.6 204.9,182.8 205.3,183.0 205.7,183.2 206.1,183.4 206.4,183.6" fill="none" stroke="#141414" stroke-width="0.65" stroke-linejoin="round" stroke-dasharray="1.2 1.2"/>
<polyline points="151.2,159.5 151.7,159.7 152.1,159.8 152.6,160.0 153.1,160.1 153.7,160.2 154.2,160.3 154.8,160.4 155.4,160.5 155.9,160.6 156.5,160.7 157.0,160.8 157.5,160.9 157.9,161.1 158.3,161.3 158.7,161.5 159.1,161.7 159.5,161.9 159.9,162.0 160.4,162.2 160.8,162.4 161.2,162.5 161.7,162.7 162.1,162.9 162.6,163.0 163.0,163.2 163.5,163.4 163.9,163.5 164.4,163.7 164.8,163.8 165.3,164.0 165.7,164.2 166.1,164.4 166.5,164.6 166.9,164.8 167.2,165.0 167.6,165.2 168.0,165.4 168.4,165.6 168.8,165.8 169.1,166.0 169.5,166.2 169.9,166.4 170.3,166.6 170.7,166.8 171.0,167.0 171.4,167.2 171.8,167.4 172.2,167.6 172.6,167.8 173.0,168.0 173.3,168.2 173.7,168.4 174.1,168.6 174.5,168.8 174.9,169.0 175.3,169.2 175.6,169.4 176.0,169.6 176.4,169.8 176.8,170.0 177.2,170.2 177.6,170.4 177.9,170.6 178.3,170.8 178.7,171.0 179.1,171.2 179.5,171.4 179.9,171.6 180.2,171.8 180.6,172.0 181.0,172.2 181.4,172.4 181.8,172.6 182.2,172.8 182.5,173.0 182.9,173.2 183.3,173.4 183.7,173.6 184.1,173.8 184.5,174.0 184.9,174.2 185.2,174.4 185.6,174.6 186.0,174.8 186.4,175.0 186.8,175.2 187.2,175.4 187.6,175.6 187.9,175.7 188.3,175.9 188.7,176.1 189.1,176.3 189.5,176.5 189.9,176.7 190.2,176.9 190.6,177.1 191.0,177.3 191.4,177.5 191.8,177.7 192.2,177.9 192.6,178.1 192.9,178.3 193.3,178.5 193.7,178.7 194.1,178.9 194.5,179.1 194.9,179.3 195.2,179.5 195.6,179.7 196.0,179.9 196.4,180.1 196.8,180.3 197.2,180.5 197.5,180.7 197.9,180.9 198.3,181.1 198.7,181.3 199.1,181.5 199.5,181.7 199.8,181.9 200.2,182.1 200.6,182.3 201.0,182.5 201.4,182.7 201.7,182.9 202.1,183.1 202.5,183.3 202.9,183.5 203.3,183.7 203.7,183.9 204.0,184.1 204.4,184.3 204.8,184.5 205.2,184.7 205.6,184.9 205.9,185.1" fill="none" stroke="#141414" stroke-width="0.65" stroke-linejoin="round" stroke-dasharray="1.2 1.2"/>
<polyline points="151.0,160.0 151.4,160.2 151.9,160.4 152.4,160.6 152.9,160.7 153.4,160.9 153.9,161.0 154.5,161.2 155.0,161.3 155.6,161.5 156.1,161.7 156.6,161.8 157.1,162.0 157.5,162.2 157.9,162.4 158.3,162.6 158.7,162.8 159.1,163.0 159.5,163.2 159.9,163.3 160.3,163.5 160.8,163.7 161.2,163.9 161.7,164.1 162.1,164.3 162.5,164.4 163.0,164.6 163.4,164.8 163.9,165.0 164.3,165.2 164.7,165.4 165.1,165.6 165.5,165.7 165.9,165.9 166.3,166.1 166.7,166.3 167.1,166.6 167.5,166.8 167.8,167.0 168.2,167.2 168.6,167.4 169.0,167.6 169.4,167.8 169.7,168.0 170.1,168.2 170.5,168.4 170.9,168.6 171.3,168.8 171.6,169.0 172.0,169.2 172.4,169.4 172.8,169.6 173.2,169.8 173.6,170.0 173.9,170.2 174.3,170.4 174.7,170.6 175.1,170.8 175.5,171.0 175.8,171.2 176.2,171.4 176.6,171.6 177.0,171.8 177.4,172.0 177.8,172.2 178.1,172.4 178.5,172.6 178.9,172.8 179.3,173.0 179.7,173.2 180.1,173.4 180.4,173.6 180.8,173.8 181.2,174.0 181.6,174.2 182.0,174.4 182.4,174.6 182.8,174.8 183.1,175.0 183.5,175.2 183.9,175.4 184.3,175.6 184.7,175.8 185.1,176.0 185.4,176.2 185.8,176.4 186.2,176.6 186.6,176.8 187.0,177.0 187.4,177.2 187.7,177.4 188.1,177.6 188.5,177.8 188.9,178.0 189.3,178.2 189.7,178.4 190.1,178.6 190.4,178.8 190.8,179.0 191.2,179.2 191.6,179.4 192.0,179.6 192.4,179.8 192.7,180.0 193.1,180.2 193.5,180.4 193.9,180.6 194.3,180.8 194.7,181.0 195.0,181.2 195.4,181.4 195.8,181.6 196.2,181.8 196.6,182.0 197.0,182.2 197.3,182.4 197.7,182.6 198.1,182.8 198.5,183.0 198.9,183.2 199.2,183.4 199.6,183.6 200.0,183.8 200.4,184.0 200.8,184.2 201.2,184.4 201.5,184.6 201.9,184.8 202.3,185.0 202.7,185.2 203.1,185.4 203.4,185.6 203.8,185.8 204.2,186.0 204.6,186.2 205.0,186.4 205.3,186.7" fill="none" stroke="#141414" stroke-width="0.65" stroke-linejoin="round" stroke-dasharray="1.2 1.2"/>
<polyline points="150.8,160.5 151.2,160.7 151.6,161.0 152.1,161.2 152.6,161.4 153.1,161.6 153.6,161.8 154.1,162.0 154.6,162.2 155.2,162.4 155.7,162.6 156.1,162.8 156.6,163.0 157.0,163.2 157.4,163.4 157.8,163.6 158.2,163.8 158.6,164.0 159.0,164.2 159.4,164.4 159.8,164.6 160.3,164.8 160.7,165.0 161.1,165.3 161.6,165.5 162.0,165.7 162.4,165.9 162.9,166.1 163.3,166.3 163.7,166.5 164.1,166.7 164.5,166.9 164.9,167.1 165.3,167.3 165.7,167.5 166.1,167.7 166.5,167.9 166.8,168.1 167.2,168.3 167.6,168.5 168.0,168.7 168.4,168.9 168.7,169.1 169.1,169.3 169.5,169.5 169.9,169.7 170.3,169.9 170.6,170.1 171.0,170.3 171.4,170.5 171.8,170.7 172.2,170.9 172.6,171.1 172.9,171.3 173.3,171.5 173.7,171.7 174.1,171.9 174.5,172.1 174.8,172.3 175.2,172.5 175.6,172.7 176.0,173.0 176.4,173.2 176.8,173.4 177.1,173.6 177.5,173.8 177.9,174.0 178.3,174.2 178.7,174.4 179.1,174.6 179.4,174.8 179.8,175.0 180.2,175.2 180.6,175.4 181.0,175.6 181.4,175.8 181.7,176.0 182.1,176.2 182.5,176.4 182.9,176.6 183.3,176.8 183.7,177.0 184.0,177.2 184.4,177.4 184.8,177.6 185.2,177.8 185.6,178.0 186.0,178.2 186.3,178.4 186.7,178.6 187.1,178.8 187.5,179.0 187.9,179.2 188.3,179.4 188.6,179.6 189.0,179.8 189.4,180.0 189.8,180.2 190.2,180.4 190.6,180.6 190.9,180.8 191.3,181.0 191.7,181.2 192.1,181.4 192.5,181.7 192.9,181.9 193.2,182.1 193.6,182.3 194.0,182.5 194.4,182.7 194.8,182.9 195.1,183.1 195.5,183.3 195.9,183.5 196.3,183.7 196.7,183.9 197.1,184.1 197.4,184.3 197.8,184.5 198.2,184.7 198.6,184.9 199.0,185.1 199.3,185.3 199.7,185.5 200.1,185.7 200.5,185.9 200.9,186.1 201.2,186.3 201.6,186.5 202.0,186.7 202.4,186.9 202.8,187.1 203.1,187.3 203.5,187.5 203.9,187.7 204.3,187.9 204.7,188.1" fill="none" stroke="#141414" stroke-width="0.65" stroke-linejoin="round" stroke-dasharray="1.2 1.2"/>
<polyline points="150.5,161.1 150.9,161.3 151.4,161.5 151.8,161.7 152.3,162.0 152.7,162.2 153.2,162.5 153.7,162.8 154.2,163.0 154.7,163.3 155.2,163.5 155.6,163.8 156.1,164.0 156.5,164.2 156.9,164.4 157.3,164.6 157.7,164.9 158.1,165.1 158.5,165.3 158.9,165.5 159.3,165.7 159.7,165.9 160.1,166.2 160.5,166.4 161.0,166.6 161.4,166.9 161.8,167.1 162.2,167.3 162.6,167.5 163.1,167.7 163.5,168.0 163.9,168.2 164.3,168.4 164.7,168.6 165.0,168.8 165.4,169.0 165.8,169.2 166.2,169.4 166.6,169.6 166.9,169.8 167.3,170.0 167.7,170.2 168.1,170.4 168.5,170.6 168.8,170.8 169.2,171.0 169.6,171.2 170.0,171.4 170.4,171.6 170.7,171.8 171.1,172.0 171.5,172.2 171.9,172.5 172.3,172.7 172.6,172.9 173.0,173.1 173.4,173.3 173.8,173.5 174.2,173.7 174.6,173.9 174.9,174.1 175.3,174.3 175.7,174.5 176.1,174.7 176.5,174.9 176.8,175.1 177.2,175.3 177.6,175.5 178.0,175.7 178.4,175.9 178.8,176.1 179.1,176.3 179.5,176.5 179.9,176.7 180.3,176.9 180.7,177.1 181.0,177.3 181.4,177.5 181.8,177.8 182.2,178.0 182.6,178.2 183.0,178.4 183.3,178.6 183.7,178.8 184.1,179.0 184.5,179.2 184.9,179.4 185.3,179.6 185.6,179.8 186.0,180.0 186.4,180.2 186.8,180.4 187.2,180.6 187.5,180.8 187.9,181.0 188.3,181.2 188.7,181.4 189.1,181.6 189.5,181.8 189.8,182.0 190.2,182.2 190.6,182.4 191.0,182.7 191.4,182.9 191.8,183.1 192.1,183.3 192.5,183.5 192.9,183.7 193.3,183.9 193.7,184.1 194.0,184.3 194.4,184.5 194.8,184.7 195.2,184.9 195.6,185.1 195.9,185.3 196.3,185.5 196.7,185.7 197.1,185.9 197.5,186.1 197.9,186.3 198.2,186.5 198.6,186.7 199.0,186.9 199.4,187.1 199.8,187.3 200.1,187.5 200.5,187.7 200.9,187.9 201.3,188.1 201.7,188.4 202.0,188.6 202.4,188.8 202.8,189.0 203.2,189.2 203.6,189.4 203.9,189.6" fill="none" stroke="#141414" stroke-width="0.65" stroke-linejoin="round" stroke-dasharray="1.2 1.2"/>
<polyline points="150.3,161.6 150.6,161.8 151.1,162.0 151.5,162.3 151.9,162.6 152.4,162.9 152.8,163.2 153.3,163.5 153.8,163.8 154.2,164.1 154.7,164.4 155.1,164.7 155.5,165.0 155.9,165.2 156.3,165.4 156.7,165.6 157.1,165.9 157.5,166.1 157.9,166.3 158.3,166.6 158.7,166.8 159.1,167.0 159.5,167.3 159.9,167.5 160.3,167.8 160.7,168.0 161.1,168.3 161.6,168.5 162.0,168.7 162.4,169.0 162.8,169.2 163.2,169.4 163.6,169.7 163.9,169.9 164.3,170.1 164.7,170.3 165.1,170.5 165.5,170.7 165.8,170.9 166.2,171.1 166.6,171.3 167.0,171.5 167.4,171.7 167.7,171.9 168.1,172.1 168.5,172.3 168.9,172.5 169.3,172.7 169.6,172.9 170.0,173.1 170.4,173.3 170.8,173.5 171.2,173.7 171.5,174.0 171.9,174.2 172.3,174.4 172.7,174.6 173.1,174.8 173.4,175.0 173.8,175.2 174.2,175.4 174.6,175.6 175.0,175.8 175.3,176.0 175.7,176.2 176.1,176.4 176.5,176.6 176.9,176.8 177.2,177.0 177.6,177.2 178.0,177.4 178.4,177.6 178.8,177.9 179.2,178.1 179.5,178.3 179.9,178.5 180.3,178.7 180.7,178.9 181.1,179.1 181.4,179.3 181.8,179.5 182.2,179.7 182.6,179.9 183.0,180.1 183.4,180.3 183.7,180.5 184.1,180.7 184.5,180.9 184.9,181.1 185.3,181.4 185.6,181.6 186.0,181.8 186.4,182.0 186.8,182.2 187.2,182.4 187.5,182.6 187.9,182.8 188.3,183.0 188.7,183.2 189.1,183.4 189.5,183.6 189.8,183.8 190.2,184.0 190.6,184.2 191.0,184.4 191.4,184.6 191.7,184.9 192.1,185.1 192.5,185.3 192.9,185.5 193.3,185.7 193.6,185.9 194.0,186.1 194.4,186.3 194.8,186.5 195.2,186.7 195.5,186.9 195.9,187.1 196.3,187.3 196.7,187.5 197.1,187.7 197.4,187.9 197.8,188.1 198.2,188.3 198.6,188.5 199.0,188.7 199.3,188.9 199.7,189.1 200.1,189.4 200.5,189.6 200.9,189.8 201.2,190.0 201.6,190.2 202.0,190.4 202.4,190.6 202.8,190.8 203.1,191.0" fill="none" stroke="#141414" stroke-width="0.65" stroke-linejoin="round" stroke-dasharray="1.2 1.2"/>
<polyline points="150.0,162.0 150.3,162.3 150.7,162.5 151.1,162.8 151.6,163.2 152.0,163.5 152.4,163.9 152.8,164.3 153.3,164.6 153.7,165.0 154.1,165.3 154.5,165.7 154.9,165.9 155.3,166.2 155.7,166.4 156.1,166.6 156.5,166.8 156.9,167.1 157.3,167.3 157.7,167.6 158.0,167.8 158.4,168.1 158.8,168.4 159.2,168.6 159.6,168.9 160.0,169.2 160.4,169.4 160.8,169.7 161.2,169.9 161.6,170.2 162.0,170.4 162.4,170.7 162.8,170.9 163.2,171.1 163.5,171.3 163.9,171.5 164.3,171.7 164.7,171.9 165.1,172.1 165.4,172.4 165.8,172.6 166.2,172.8 166.6,173.0 167.0,173.2 167.3,173.4 167.7,173.6 168.1,173.8 168.5,174.0 168.9,174.2 169.2,174.4 169.6,174.6 170.0,174.8 170.4,175.0 170.8,175.2 171.1,175.4 171.5,175.6 171.9,175.8 172.3,176.0 172.7,176.2 173.0,176.5 173.4,176.7 173.8,176.9 174.2,177.1 174.6,177.3 174.9,177.5 175.3,177.7 175.7,177.9 176.1,178.1 176.5,178.3 176.8,178.5 177.2,178.7 177.6,178.9 178.0,179.1 178.4,179.3 178.7,179.6 179.1,179.8 179.5,180.0 179.9,180.2 180.3,180.4 180.6,180.6 181.0,180.8 181.4,181.0 181.8,181.2 182.2,181.4 182.5,181.6 182.9,181.8 183.3,182.1 183.7,182.3 184.1,182.5 184.4,182.7 184.8,182.9 185.2,183.1 185.6,183.3 186.0,183.5 186.3,183.7 186.7,183.9 187.1,184.1 187.5,184.3 187.9,184.5 188.2,184.8 188.6,185.0 189.0,185.2 189.4,185.4 189.8,185.6 190.1,185.8 190.5,186.0 190.9,186.2 191.3,186.4 191.7,186.6 192.0,186.8 192.4,187.0 192.8,187.2 193.2,187.4 193.6,187.6 193.9,187.9 194.3,188.1 194.7,188.3 195.1,188.5 195.5,188.7 195.8,188.9 196.2,189.1 196.6,189.3 197.0,189.5 197.4,189.7 197.7,189.9 198.1,190.1 198.5,190.3 198.9,190.5 199.3,190.7 199.6,190.9 200.0,191.1 200.4,191.3 200.8,191.5 201.2,191.7 201.5,191.9 201.9,192.1 202.3,192.3" fill="none" stroke="#141414" stroke-width="0.65" stroke-linejoin="round" stroke-dasharray="1.2 1.2"/>
<polyline points="149.6,162.5 150.0,162.7 150.4,163.0 150.8,163.4 151.2,163.7 151.6,164.1 152.0,164.6 152.3,165.0 152.7,165.4 153.1,165.8 153.5,166.2 153.9,166.6 154.3,166.9 154.7,167.1 155.1,167.4 155.4,167.6 155.8,167.8 156.2,168.0 156.6,168.3 157.0,168.6 157.4,168.8 157.7,169.1 158.1,169.4 158.5,169.7 158.9,170.0 159.3,170.3 159.7,170.5 160.0,170.8 160.4,171.1 160.8,171.4 161.2,171.6 161.6,171.9 161.9,172.1 162.3,172.3 162.7,172.6 163.1,172.8 163.5,173.0 163.8,173.2 164.2,173.4 164.6,173.6 165.0,173.8 165.4,174.0 165.7,174.2 166.1,174.4 166.5,174.6 166.9,174.8 167.3,175.0 167.6,175.2 168.0,175.4 168.4,175.6 168.8,175.8 169.1,176.0 169.5,176.2 169.9,176.4 170.3,176.7 170.7,176.9 171.0,177.1 171.4,177.3 171.8,177.5 172.2,177.7 172.6,177.9 172.9,178.1 173.3,178.3 173.7,178.5 174.1,178.7 174.5,178.9 174.8,179.1 175.2,179.4 175.6,179.6 176.0,179.8 176.4,180.0 176.7,180.2 177.1,180.4 177.5,180.6 177.9,180.8 178.2,181.0 178.6,181.2 179.0,181.4 179.4,181.7 179.8,181.9 180.1,182.1 180.5,182.3 180.9,182.5 181.3,182.7 181.7,182.9 182.0,183.1 182.4,183.3 182.8,183.5 183.2,183.8 183.6,184.0 183.9,184.2 184.3,184.4 184.7,184.6 185.1,184.8 185.5,185.0 185.8,185.2 186.2,185.4 186.6,185.6 187.0,185.8 187.3,186.1 187.7,186.3 188.1,186.5 188.5,186.7 188.9,186.9 189.2,187.1 189.6,187.3 190.0,187.5 190.4,187.7 190.8,187.9 191.1,188.1 191.5,188.3 191.9,188.6 192.3,188.8 192.7,189.0 193.0,189.2 193.4,189.4 193.8,189.6 194.2,189.8 194.5,190.0 194.9,190.2 195.3,190.4 195.7,190.6 196.1,190.8 196.4,191.0 196.8,191.2 197.2,191.4 197.6,191.7 198.0,191.9 198.3,192.1 198.7,192.3 199.1,192.5 199.5,192.7 199.9,192.9 200.2,193.1 200.6,193.3 201.0,193.5 201.4,193.7" fill="none" stroke="#141414" stroke-width="0.65" stroke-linejoin="round" stroke-dasharray="1.2 1.2"/>
<polyline points="149.3,163.0 149.6,163.2 150.0,163.5 150.4,163.9 150.7,164.3 151.1,164.7 151.5,165.2 151.8,165.7 152.2,166.1 152.5,166.6 152.9,167.0 153.2,167.4 153.6,167.8 154.0,168.1 154.4,168.3 154.7,168.5 155.1,168.7 155.5,169.0 155.9,169.3 156.2,169.5 156.6,169.8 157.0,170.1 157.3,170.4 157.7,170.7 158.1,171.0 158.4,171.3 158.8,171.6 159.2,171.9 159.5,172.2 159.9,172.5 160.3,172.8 160.7,173.0 161.0,173.3 161.4,173.5 161.8,173.7 162.2,173.9 162.6,174.1 162.9,174.3 163.3,174.5 163.7,174.8 164.1,175.0 164.4,175.2 164.8,175.4 165.2,175.6 165.6,175.8 166.0,176.0 166.3,176.2 166.7,176.4 167.1,176.6 167.5,176.8 167.8,177.0 168.2,177.2 168.6,177.4 169.0,177.6 169.4,177.8 169.7,178.1 170.1,178.3 170.5,178.5 170.9,178.7 171.3,178.9 171.6,179.1 172.0,179.3 172.4,179.5 172.8,179.7 173.1,179.9 173.5,180.1 173.9,180.4 174.3,180.6 174.7,180.8 175.0,181.0 175.4,181.2 175.8,181.4 176.2,181.6 176.5,181.8 176.9,182.0 177.3,182.2 177.7,182.5 178.1,182.7 178.4,182.9 178.8,183.1 179.2,183.3 179.6,183.5 179.9,183.7 180.3,183.9 180.7,184.1 181.1,184.4 181.5,184.6 181.8,184.8 182.2,185.0 182.6,185.2 183.0,185.4 183.3,185.6 183.7,185.8 184.1,186.0 184.5,186.3 184.9,186.5 185.2,186.7 185.6,186.9 186.0,187.1 186.4,187.3 186.7,187.5 187.1,187.7 187.5,187.9 187.9,188.2 188.3,188.4 188.6,188.6 189.0,188.8 189.4,189.0 189.8,189.2 190.1,189.4 190.5,189.6 190.9,189.8 191.3,190.0 191.7,190.2 192.0,190.5 192.4,190.7 192.8,190.9 193.2,191.1 193.6,191.3 193.9,191.5 194.3,191.7 194.7,191.9 195.1,192.1 195.4,192.3 195.8,192.5 196.2,192.7 196.6,192.9 197.0,193.1 197.3,193.4 197.7,193.6 198.1,193.8 198.5,194.0 198.8,194.2 199.2,194.4 199.6,194.6 200.0,194.8 200.4,195.0" fill="none" stroke="#141414" stroke-width="0.65" stroke-linejoin="round" stroke-dasharray="1.2 1.2"/>
<polyline points="148.9,163.4 149.2,163.7 149.6,164.0 149.9,164.4 150.3,164.8 150.6,165.3 150.9,165.8 151.2,166.3 151.5,166.9 151.8,167.4 152.2,167.8 152.5,168.3 152.8,168.6 153.2,168.9 153.6,169.1 153.9,169.4 154.3,169.6 154.7,169.9 155.0,170.2 155.4,170.4 155.8,170.8 156.1,171.1 156.5,171.4 156.8,171.7 157.2,172.0 157.5,172.4 157.9,172.7 158.2,173.0 158.6,173.3 158.9,173.6 159.3,173.9 159.7,174.2 160.0,174.4 160.4,174.6 160.8,174.9 161.2,175.1 161.5,175.3 161.9,175.5 162.3,175.7 162.7,175.9 163.0,176.1 163.4,176.3 163.8,176.5 164.2,176.7 164.6,176.9 164.9,177.1 165.3,177.3 165.7,177.5 166.1,177.7 166.5,177.9 166.8,178.1 167.2,178.4 167.6,178.6 168.0,178.8 168.3,179.0 168.7,179.2 169.1,179.4 169.5,179.6 169.8,179.8 170.2,180.0 170.6,180.2 171.0,180.4 171.4,180.7 171.7,180.9 172.1,181.1 172.5,181.3 172.9,181.5 173.2,181.7 173.6,181.9 174.0,182.1 174.4,182.4 174.7,182.6 175.1,182.8 175.5,183.0 175.9,183.2 176.2,183.4 176.6,183.6 177.0,183.8 177.4,184.0 177.8,184.3 178.1,184.5 178.5,184.7 178.9,184.9 179.3,185.1 179.6,185.3 180.0,185.5 180.4,185.8 180.8,186.0 181.1,186.2 181.5,186.4 181.9,186.6 182.3,186.8 182.6,187.0 183.0,187.2 183.4,187.5 183.8,187.7 184.2,187.9 184.5,188.1 184.9,188.3 185.3,188.5 185.7,188.7 186.0,188.9 186.4,189.2 186.8,189.4 187.2,189.6 187.5,189.8 187.9,190.0 188.3,190.2 188.7,190.4 189.1,190.6 189.4,190.8 189.8,191.1 190.2,191.3 190.6,191.5 190.9,191.7 191.3,191.9 191.7,192.1 192.1,192.3 192.4,192.5 192.8,192.7 193.2,192.9 193.6,193.1 194.0,193.3 194.3,193.6 194.7,193.8 195.1,194.0 195.5,194.2 195.8,194.4 196.2,194.6 196.6,194.8 197.0,195.0 197.4,195.2 197.7,195.4 198.1,195.6 198.5,195.8 198.9,196.0 199.2,196.2" fill="none" stroke="#141414" stroke-width="0.65" stroke-linejoin="round" stroke-dasharray="1.2 1.2"/>
<polyline points="148.4,163.8 148.8,164.1 149.1,164.4 149.4,164.8 149.7,165.3 150.0,165.8 150.2,166.4 150.5,167.0 150.8,167.5 151.0,168.1 151.3,168.6 151.6,169.0 151.9,169.4 152.3,169.7 152.6,170.0 153.0,170.2 153.4,170.4 153.7,170.7 154.1,171.0 154.4,171.3 154.8,171.6 155.1,171.9 155.4,172.3 155.8,172.6 156.1,173.0 156.4,173.3 156.8,173.6 157.1,174.0 157.4,174.3 157.8,174.6 158.1,174.9 158.5,175.2 158.9,175.4 159.2,175.7 159.6,175.9 160.0,176.1 160.3,176.3 160.7,176.5 161.1,176.7 161.5,176.9 161.9,177.1 162.2,177.3 162.6,177.5 163.0,177.7 163.4,177.9 163.7,178.1 164.1,178.4 164.5,178.6 164.9,178.8 165.3,179.0 165.6,179.2 166.0,179.4 166.4,179.6 166.8,179.8 167.1,180.0 167.5,180.2 167.9,180.4 168.3,180.7 168.6,180.9 169.0,181.1 169.4,181.3 169.8,181.5 170.1,181.7 170.5,181.9 170.9,182.1 171.3,182.3 171.6,182.6 172.0,182.8 172.4,183.0 172.8,183.2 173.1,183.4 173.5,183.6 173.9,183.8 174.3,184.1 174.6,184.3 175.0,184.5 175.4,184.7 175.8,184.9 176.1,185.1 176.5,185.3 176.9,185.6 177.3,185.8 177.6,186.0 178.0,186.2 178.4,186.4 178.8,186.6 179.1,186.8 179.5,187.1 179.9,187.3 180.3,187.5 180.6,187.7 181.0,187.9 181.4,188.1 181.8,188.3 182.1,188.6 182.5,188.8 182.9,189.0 183.3,189.2 183.6,189.4 184.0,189.6 184.4,189.8 184.8,190.0 185.1,190.3 185.5,190.5 185.9,190.7 186.3,190.9 186.6,191.1 187.0,191.3 187.4,191.5 187.8,191.7 188.1,192.0 188.5,192.2 188.9,192.4 189.3,192.6 189.6,192.8 190.0,193.0 190.4,193.2 190.8,193.4 191.2,193.6 191.5,193.9 191.9,194.1 192.3,194.3 192.7,194.5 193.0,194.7 193.4,194.9 193.8,195.1 194.2,195.3 194.5,195.5 194.9,195.7 195.3,195.9 195.7,196.1 196.1,196.3 196.4,196.5 196.8,196.7 197.2,196.9 197.6,197.1 197.9,197.3" fill="none" stroke="#141414" stroke-width="0.65" stroke-linejoin="round" stroke-dasharray="1.2 1.2"/>
<path d="M206.4,178.4 A11.3,4.8 118 0 1 195.6,197.6" fill="none" stroke="#141414" stroke-width="1.6" stroke-linejoin="round" stroke-linecap="round"/>
<path d="M204.6,177.5 A11.3,4.8 118 0 1 193.8,196.7" fill="none" stroke="#141414" stroke-width="1.0" stroke-linejoin="round" stroke-linecap="round"/>
<polygon points="284.7,229.4 340.5,256.6 332.1,273.7 276.3,246.6" fill="#fff" stroke="none"/>
<line x1="284.7" y1="229.4" x2="340.5" y2="256.6" stroke="#141414" stroke-width="0.95"/>
<line x1="276.3" y1="246.6" x2="332.1" y2="273.7" stroke="#141414" stroke-width="0.95"/>
<line x1="286.9" y1="233.9" x2="328.3" y2="254.0" stroke="#141414" stroke-width="0.7"/>
<line x1="285.6" y1="236.6" x2="327.0" y2="256.7" stroke="#141414" stroke-width="0.6"/>
<line x1="282.3" y1="243.4" x2="323.7" y2="263.5" stroke="#141414" stroke-width="0.7"/>
<line x1="281.3" y1="245.6" x2="322.7" y2="265.7" stroke="#141414" stroke-width="0.6"/>
<ellipse cx="280.5" cy="238.0" rx="9.5" ry="4.4" transform="rotate(116.1 280.5 238.0)" fill="#fff" stroke="#141414" stroke-width="0.95"/>
<ellipse cx="281.2" cy="237.7" rx="7.2" ry="3.2" transform="rotate(116.1 281.2 237.7)" fill="none" stroke="#141414" stroke-width="0.7"/>
<path d="M294.6,234.3 A9.5,4.4 116.1 0 1 286.2,251.4" fill="none" stroke="#141414" stroke-width="1.1" stroke-linejoin="round" stroke-linecap="round"/>
<path d="M297.3,235.6 A9.5,4.4 116.1 0 1 288.9,252.7" fill="none" stroke="#141414" stroke-width="1.1" stroke-linejoin="round" stroke-linecap="round"/>
<path d="M312.6,243.0 A9.5,4.4 116.1 0 1 304.2,260.1" fill="none" stroke="#141414" stroke-width="1.1" stroke-linejoin="round" stroke-linecap="round"/>
<path d="M315.3,244.3 A9.5,4.4 116.1 0 1 306.9,261.4" fill="none" stroke="#141414" stroke-width="1.1" stroke-linejoin="round" stroke-linecap="round"/>
<line x1="284.8" y1="238.4" x2="326.2" y2="258.5" stroke="#141414" stroke-width="0.5"/>
<line x1="283.4" y1="241.1" x2="324.8" y2="261.2" stroke="#141414" stroke-width="0.5"/>
<line x1="300.0" y1="243.6" x2="296.7" y2="250.4" stroke="#141414" stroke-width="0.7"/>
<line x1="319.8" y1="253.2" x2="316.5" y2="260.0" stroke="#141414" stroke-width="0.7"/>
<ellipse cx="295.8" cy="243.2" rx="2.2" ry="2.2" transform="rotate(0.0 295.8 243.2)" fill="none" stroke="#141414" stroke-width="0.7"/>
<polyline points="287.0,240.0 280.3,253.7 274.5,250.8" fill="none" stroke="#141414" stroke-width="0.8" stroke-linejoin="round"/>
<polyline points="219.9,180.7 218.7,177.4 219.2,175.6 221.6,174.3 225.1,175.0 227.8,177.6 230.3,181.5 244.4,200.7 267.6,213.3 294.6,223.1 314.6,235.1 324.3,239.2 335.1,236.1 341.9,236.9" fill="none" stroke="#141414" stroke-width="0.8" stroke-linejoin="round"/>
<polyline points="218.1,181.3 216.9,177.6 217.8,174.4 221.4,172.5 225.9,173.4 229.2,176.4 231.7,180.5 245.6,199.3 268.4,211.7 295.4,221.5 315.4,233.5 324.3,237.4 334.9,234.3 342.1,235.1" fill="none" stroke="#141414" stroke-width="0.8" stroke-linejoin="round"/>
<polyline points="270.9,212.3 270.1,208.5 270.6,206.6 273.4,205.2 277.1,205.8 279.3,208.5 294.4,229.7 313.3,239.1 323.0,243.2 330.1,238.3 337.3,235.3" fill="none" stroke="#141414" stroke-width="0.8" stroke-linejoin="round"/>
<polyline points="269.1,212.7 268.3,208.5 269.4,205.4 273.2,203.4 277.9,204.2 280.7,207.5 295.6,228.3 314.1,237.5 323.0,241.4 329.3,236.7 336.7,233.7" fill="none" stroke="#141414" stroke-width="0.8" stroke-linejoin="round"/>
<polygon points="216.0,181.5 216.0,191.5 222.0,191.5 222.0,181.5" fill="#fff" stroke="none"/>
<line x1="216.5" y1="181.5" x2="216.5" y2="191.5" stroke="#141414" stroke-width="0.95"/>
<line x1="222.5" y1="181.5" x2="222.5" y2="191.5" stroke="#141414" stroke-width="0.95"/>
<ellipse cx="219.0" cy="191.5" rx="3.0" ry="1.4" transform="rotate(180.0 219.0 191.5)" fill="#fff" stroke="#141414" stroke-width="0.95"/>
<ellipse cx="219.0" cy="181.5" rx="3.0" ry="1.4" transform="rotate(90.0 219.0 181.5)" fill="#fff" stroke="#141414" stroke-width="0.95"/>
<polygon points="267.0,213.0 267.0,222.0 273.0,222.0 273.0,213.0" fill="#fff" stroke="none"/>
<line x1="267.5" y1="213.0" x2="267.5" y2="222.0" stroke="#141414" stroke-width="0.95"/>
<line x1="273.5" y1="213.0" x2="273.5" y2="222.0" stroke="#141414" stroke-width="0.95"/>
<ellipse cx="270.0" cy="222.0" rx="3.0" ry="1.4" transform="rotate(180.0 270.0 222.0)" fill="#fff" stroke="#141414" stroke-width="0.95"/>
<ellipse cx="270.0" cy="213.0" rx="3.0" ry="1.4" transform="rotate(90.0 270.0 213.0)" fill="#fff" stroke="#141414" stroke-width="0.95"/>
<path d="M325,252 L337,246 L339,239 L345,236 L358,230 L372,235 L371,241 L363,253 L359,262 L332,260 Z" fill="#fff" stroke="#141414" stroke-width="0.8" stroke-linejoin="round" stroke-linecap="round"/>
<path d="M357,236.5 L364.5,229.5 L369,230.5 L379.5,239.5 L378.5,243 L366.8,253 L360,256 L356,250 Z" fill="#fff" stroke="#141414" stroke-width="0.95" stroke-linejoin="round" stroke-linecap="round"/>
<path d="M362,238 C366,240 368,246 366.8,253" fill="none" stroke="#141414" stroke-width="0.8" stroke-linejoin="round" stroke-linecap="round"/>
<line x1="364.5" y1="229.5" x2="366.0" y2="233.0" stroke="#141414" stroke-width="0.7"/>
<polygon points="374.7,242.2 386.7,231.4 379.3,223.0 367.3,233.8" fill="#fff" stroke="none"/>
<line x1="374.7" y1="242.2" x2="386.7" y2="231.4" stroke="#141414" stroke-width="0.95"/>
<line x1="367.3" y1="233.8" x2="379.3" y2="223.0" stroke="#141414" stroke-width="0.95"/>
<ellipse cx="383.0" cy="227.2" rx="5.6" ry="2.8" transform="rotate(48.0 383.0 227.2)" fill="#fff" stroke="#141414" stroke-width="0.95"/>
<ellipse cx="383.0" cy="227.2" rx="3.4" ry="1.6" transform="rotate(48.0 383.0 227.2)" fill="none" stroke="#141414" stroke-width="1.1"/>
<ellipse cx="344.0" cy="236.0" rx="3.6" ry="3.2" transform="rotate(0.0 344.0 236.0)" fill="#fff" stroke="#141414" stroke-width="0.8"/>
<ellipse cx="355.0" cy="236.5" rx="3.6" ry="3.2" transform="rotate(0.0 355.0 236.5)" fill="#fff" stroke="#141414" stroke-width="0.8"/>
<ellipse cx="343.5" cy="241.5" rx="4.6" ry="4.6" transform="rotate(0.0 343.5 241.5)" fill="#fff" stroke="#141414" stroke-width="0.95"/>
<ellipse cx="344.3" cy="242.1" rx="2.8" ry="2.8" transform="rotate(0.0 344.3 242.1)" fill="none" stroke="#141414" stroke-width="0.9"/>
<ellipse cx="344.3" cy="242.1" rx="1.2" ry="1.2" transform="rotate(0.0 344.3 242.1)" fill="none" stroke="#141414" stroke-width="0.7"/>
<ellipse cx="354.4" cy="242.0" rx="4.6" ry="4.6" transform="rotate(0.0 354.4 242.0)" fill="#fff" stroke="#141414" stroke-width="0.95"/>
<ellipse cx="355.2" cy="242.6" rx="2.8" ry="2.8" transform="rotate(0.0 355.2 242.6)" fill="none" stroke="#141414" stroke-width="0.9"/>
<ellipse cx="355.2" cy="242.6" rx="1.2" ry="1.2" transform="rotate(0.0 355.2 242.6)" fill="none" stroke="#141414" stroke-width="0.7"/>
<ellipse cx="355.0" cy="252.0" rx="2.8" ry="2.8" transform="rotate(0.0 355.0 252.0)" fill="#fff" stroke="#141414" stroke-width="0.95"/>
<ellipse cx="355.0" cy="252.0" rx="1.4" ry="1.4" transform="rotate(0.0 355.0 252.0)" fill="none" stroke="#141414" stroke-width="0.8"/>
<ellipse cx="363.0" cy="257.5" rx="2.8" ry="2.8" transform="rotate(0.0 363.0 257.5)" fill="#fff" stroke="#141414" stroke-width="0.95"/>
<ellipse cx="363.0" cy="257.5" rx="1.4" ry="1.4" transform="rotate(0.0 363.0 257.5)" fill="none" stroke="#141414" stroke-width="0.8"/>
<path d="M338,250 L346,262 L356,268 M344,252 L352,262 L360,262 M347,249 L344,256 M351,256 L348,263 M336,256 L344,252" fill="none" stroke="#141414" stroke-width="0.7" stroke-linejoin="round" stroke-linecap="round"/>
<polygon points="334,258 378,282 378,300 332,279" fill="#fff" stroke="none"/>
<line x1="334.0" y1="259.0" x2="383.0" y2="283.0" stroke="#141414" stroke-width="0.95"/>
<line x1="334.0" y1="266.0" x2="379.0" y2="289.0" stroke="#141414" stroke-width="0.8"/>
<line x1="332.0" y1="278.3" x2="372.0" y2="303.7" stroke="#141414" stroke-width="0.95"/>
<ellipse cx="325.0" cy="261.0" rx="6.6" ry="6.6" transform="rotate(0.0 325.0 261.0)" fill="#fff" stroke="#141414" stroke-width="0.95"/>
<ellipse cx="325.0" cy="261.0" rx="4.6" ry="4.6" transform="rotate(0.0 325.0 261.0)" fill="none" stroke="#141414" stroke-width="1.3"/>
<ellipse cx="325.0" cy="261.0" rx="2.2" ry="2.2" transform="rotate(0.0 325.0 261.0)" fill="none" stroke="#141414" stroke-width="0.9"/>
<ellipse cx="325.0" cy="261.0" rx="0.7" ry="0.7" transform="rotate(0.0 325.0 261.0)" fill="#141414" stroke="#141414" stroke-width="0.6"/>
<path d="M343,283 L350,281 L366,289 L367.5,300 L364,306.8 L352,304 L343.7,299 Z" fill="#fff" stroke="#141414" stroke-width="0.95" stroke-linejoin="round" stroke-linecap="round"/>
<path d="M343.7,299 L352,297 L364,302" fill="none" stroke="#141414" stroke-width="0.7" stroke-linejoin="round" stroke-linecap="round"/>
<line x1="352.5" y1="297.0" x2="352.5" y2="304.0" stroke="#141414" stroke-width="0.7"/>
<ellipse cx="357.0" cy="300.0" rx="2.5" ry="1.6" transform="rotate(0.0 357.0 300.0)" fill="none" stroke="#141414" stroke-width="0.8"/>
<line x1="357.5" y1="289.0" x2="357.5" y2="298.0" stroke="#141414" stroke-width="0.8"/>
<path d="M336,281 C339,283 342,285 343,283" fill="none" stroke="#141414" stroke-width="0.7" stroke-linejoin="round" stroke-linecap="round"/>
<ellipse cx="335.0" cy="282.0" rx="3.2" ry="3.2" transform="rotate(0.0 335.0 282.0)" fill="#fff" stroke="#141414" stroke-width="0.8"/>
<polygon points="366.9,300.6 371.4,303.1 382.6,282.9 378.1,280.4" fill="#fff" stroke="none"/>
<line x1="366.9" y1="300.6" x2="371.4" y2="303.1" stroke="#141414" stroke-width="0.95"/>
<line x1="378.1" y1="280.4" x2="382.6" y2="282.9" stroke="#141414" stroke-width="0.95"/>
<ellipse cx="377.0" cy="293.0" rx="11.5" ry="5.2" transform="rotate(119.1 377.0 293.0)" fill="#fff" stroke="#141414" stroke-width="0.95"/>
<polygon points="371.7,303.6 376.7,306.1 387.3,284.9 382.3,282.4" fill="#fff" stroke="none"/>
<line x1="371.7" y1="303.6" x2="376.7" y2="306.1" stroke="#141414" stroke-width="0.95"/>
<line x1="382.3" y1="282.4" x2="387.3" y2="284.9" stroke="#141414" stroke-width="0.95"/>
<ellipse cx="382.0" cy="295.5" rx="11.8" ry="5.3" transform="rotate(116.6 382.0 295.5)" fill="#fff" stroke="#141414" stroke-width="0.95"/>
<polygon points="375.1,304.7 375.6,304.7 376.2,304.5 376.8,304.2 377.2,304.3 377.5,304.6 377.6,305.3 377.7,305.9 378.0,306.3 378.5,306.3 379.1,306.0 379.7,305.8 380.1,305.8 380.4,306.2 380.5,306.8 380.6,307.4 380.9,307.8 381.4,307.8 382.0,307.6 382.6,307.4 383.0,307.4 383.3,307.8 383.4,308.4 383.5,309.0 383.8,309.4 384.3,309.4 384.9,309.2 385.5,308.9 385.9,308.9 386.2,309.3 386.3,309.9 386.4,310.5 386.7,310.9 387.2,310.9 387.8,310.7 388.4,310.5 388.8,310.5 389.1,310.8 389.2,311.5 389.4,312.1 389.6,312.4 390.1,312.5 390.7,312.2 391.3,312.0 391.7,312.0 392.0,312.4 392.1,313.0 392.3,313.6 392.5,314.0 393.0,314.0 393.6,313.8 394.2,313.5 394.7,313.5 394.9,313.9 395.1,314.5 395.2,315.1 395.5,315.5 395.9,315.5 396.5,315.3 397.1,315.1 397.6,315.1 397.8,315.4 398.0,316.0 398.1,316.6 398.4,317.0 398.8,317.0 399.4,316.8 400.0,316.6 400.5,316.6 400.8,317.0 400.9,317.6 401.0,318.2 401.3,318.5 401.8,318.5 402.3,318.3 402.9,318.1 403.4,318.1 403.7,318.5 403.8,319.1 403.9,319.7 404.2,320.1 404.7,320.1 405.3,319.9 405.9,319.6 406.3,319.7 406.6,320.0 406.7,320.6 406.9,321.2 407.1,321.6 407.6,321.6 408.2,321.4 408.8,321.2 409.2,321.2 409.5,321.6 409.6,322.2 409.8,322.8 410.0,323.1 410.5,323.2 411.1,323.0 411.7,322.7 412.1,322.8 412.4,323.1 412.5,323.7 412.7,324.3 412.9,324.7 413.4,324.7 414.0,324.5 414.6,324.3 415.0,324.3 415.3,324.7 415.4,325.3 415.6,325.9 415.8,326.3 416.3,326.3 416.9,326.1 417.4,325.9 417.9,325.9 418.2,326.2 418.4,326.7 418.7,327.0 419.1,327.1 419.7,326.9 420.5,326.4 421.2,325.9 421.8,325.7 422.3,325.7 422.6,325.9 423.0,326.1 423.4,326.2 423.9,326.1 424.5,326.0 425.0,325.8 425.6,325.6 426.2,325.4 426.7,325.2 427.3,325.1 427.7,325.2 432.3,316.8 432.0,316.5 431.8,316.0 431.7,315.4 431.5,314.8 431.4,314.2 431.2,313.7 431.1,313.1 430.8,312.6 430.6,312.3 430.2,312.1 429.8,312.0 429.6,311.6 429.4,310.9 429.4,310.1 429.5,309.2 429.4,308.5 429.1,308.2 428.6,308.2 428.1,308.2 427.7,308.1 427.4,307.8 427.3,307.2 427.1,306.6 426.9,306.2 426.4,306.2 425.8,306.4 425.3,306.6 424.8,306.5 424.5,306.2 424.4,305.6 424.3,305.0 424.0,304.6 423.6,304.6 423.0,304.8 422.4,305.0 421.9,304.9 421.7,304.6 421.5,304.0 421.4,303.4 421.1,303.0 420.7,302.9 420.1,303.1 419.5,303.3 419.1,303.3 418.8,302.9 418.7,302.3 418.5,301.7 418.3,301.4 417.8,301.3 417.3,301.5 416.7,301.7 416.2,301.7 416.0,301.3 415.8,300.7 415.7,300.1 415.4,299.7 415.0,299.7 414.4,299.9 413.8,300.1 413.4,300.0 413.1,299.7 413.0,299.1 412.8,298.4 412.6,298.1 412.1,298.0 411.5,298.2 411.0,298.4 410.5,298.4 410.3,298.0 410.1,297.4 410.0,296.8 409.7,296.4 409.3,296.4 408.7,296.6 408.1,296.8 407.7,296.7 407.4,296.4 407.3,295.8 407.1,295.1 406.9,294.8 406.4,294.7 405.9,294.9 405.3,295.1 404.8,295.1 404.6,294.7 404.4,294.1 404.3,293.5 404.0,293.1 403.6,293.1 403.0,293.3 402.4,293.5 402.0,293.5 401.7,293.1 401.6,292.5 401.5,291.8 401.2,291.4 400.7,291.4 400.2,291.6 399.6,291.8 399.1,291.8 398.9,291.4 398.7,290.8 398.6,290.2 398.3,289.8 397.9,289.8 397.3,290.0 396.7,290.2 396.3,290.2 396.0,289.8 395.9,289.2 395.8,288.5 395.5,288.2 395.0,288.1 394.4,288.4 393.9,288.6 393.4,288.5 393.1,288.2 393.0,287.5 392.9,286.9 392.6,286.5 392.2,286.5 391.6,286.7 391.0,287.0 390.5,286.9 390.3,286.6 390.1,285.9 390.0,285.3 389.8,284.9 389.3,284.9 388.7,285.1 388.1,285.4 387.7,285.3 387.4,285.0 387.3,284.3 387.1,283.7 386.9,283.3" fill="#fff" stroke="#141414" stroke-width="1.0" stroke-linejoin="round"/>
<path d="M375.2,304.6 A12.1,5.1 118.9 0 1 386.8,283.4" fill="none" stroke="#141414" stroke-width="1.0" stroke-linejoin="round" stroke-linecap="round"/>
<path d="M377.2,304.3 A10.8,4.5 118.9 0 1 387.7,285.3" fill="none" stroke="#141414" stroke-width="0.8" stroke-linejoin="round" stroke-linecap="round"/>
<path d="M378.1,306.2 A12.1,5.1 118.9 0 1 389.7,285.0" fill="none" stroke="#141414" stroke-width="1.0" stroke-linejoin="round" stroke-linecap="round"/>
<path d="M380.1,305.8 A10.8,4.5 118.9 0 1 390.5,286.9" fill="none" stroke="#141414" stroke-width="0.8" stroke-linejoin="round" stroke-linecap="round"/>
<path d="M381.0,307.7 A12.0,5.1 118.9 0 1 392.6,286.6" fill="none" stroke="#141414" stroke-width="1.0" stroke-linejoin="round" stroke-linecap="round"/>
<path d="M383.0,307.4 A10.8,4.5 118.9 0 1 393.4,288.5" fill="none" stroke="#141414" stroke-width="0.8" stroke-linejoin="round" stroke-linecap="round"/>
<path d="M383.9,309.3 A12.0,5.0 118.9 0 1 395.4,288.3" fill="none" stroke="#141414" stroke-width="1.0" stroke-linejoin="round" stroke-linecap="round"/>
<path d="M385.9,308.9 A10.7,4.5 118.9 0 1 396.3,290.2" fill="none" stroke="#141414" stroke-width="0.8" stroke-linejoin="round" stroke-linecap="round"/>
<path d="M386.8,310.8 A11.9,5.0 118.9 0 1 398.3,289.9" fill="none" stroke="#141414" stroke-width="1.0" stroke-linejoin="round" stroke-linecap="round"/>
<path d="M388.8,310.5 A10.7,4.5 118.9 0 1 399.1,291.8" fill="none" stroke="#141414" stroke-width="0.8" stroke-linejoin="round" stroke-linecap="round"/>
<path d="M389.7,312.3 A11.9,5.0 118.9 0 1 401.1,291.5" fill="none" stroke="#141414" stroke-width="1.0" stroke-linejoin="round" stroke-linecap="round"/>
<path d="M391.7,312.0 A10.6,4.5 118.9 0 1 402.0,293.5" fill="none" stroke="#141414" stroke-width="0.8" stroke-linejoin="round" stroke-linecap="round"/>
<path d="M392.6,313.9 A11.8,5.0 118.9 0 1 404.0,293.2" fill="none" stroke="#141414" stroke-width="1.0" stroke-linejoin="round" stroke-linecap="round"/>
<path d="M394.7,313.5 A10.5,4.4 118.9 0 1 404.8,295.1" fill="none" stroke="#141414" stroke-width="0.8" stroke-linejoin="round" stroke-linecap="round"/>
<path d="M395.5,315.4 A11.7,4.9 118.9 0 1 406.8,294.8" fill="none" stroke="#141414" stroke-width="1.0" stroke-linejoin="round" stroke-linecap="round"/>
<path d="M397.6,315.1 A10.5,4.4 118.9 0 1 407.7,296.7" fill="none" stroke="#141414" stroke-width="0.8" stroke-linejoin="round" stroke-linecap="round"/>
<path d="M398.4,316.9 A11.6,4.9 118.9 0 1 409.7,296.5" fill="none" stroke="#141414" stroke-width="1.0" stroke-linejoin="round" stroke-linecap="round"/>
<path d="M400.5,316.6 A10.4,4.4 118.9 0 1 410.5,298.4" fill="none" stroke="#141414" stroke-width="0.8" stroke-linejoin="round" stroke-linecap="round"/>
<path d="M401.4,318.4 A11.6,4.9 118.9 0 1 412.5,298.2" fill="none" stroke="#141414" stroke-width="1.0" stroke-linejoin="round" stroke-linecap="round"/>
<path d="M403.4,318.1 A10.3,4.3 118.9 0 1 413.4,300.0" fill="none" stroke="#141414" stroke-width="0.8" stroke-linejoin="round" stroke-linecap="round"/>
<path d="M404.3,320.0 A11.5,4.8 118.9 0 1 415.4,299.8" fill="none" stroke="#141414" stroke-width="1.0" stroke-linejoin="round" stroke-linecap="round"/>
<path d="M406.3,319.7 A10.3,4.3 118.9 0 1 416.2,301.7" fill="none" stroke="#141414" stroke-width="0.8" stroke-linejoin="round" stroke-linecap="round"/>
<path d="M407.2,321.5 A11.4,4.8 118.9 0 1 418.2,301.4" fill="none" stroke="#141414" stroke-width="1.0" stroke-linejoin="round" stroke-linecap="round"/>
<path d="M409.2,321.2 A10.2,4.3 118.9 0 1 419.1,303.3" fill="none" stroke="#141414" stroke-width="0.8" stroke-linejoin="round" stroke-linecap="round"/>
<path d="M410.1,323.0 A11.4,4.8 118.9 0 1 421.1,303.1" fill="none" stroke="#141414" stroke-width="1.0" stroke-linejoin="round" stroke-linecap="round"/>
<path d="M412.1,322.8 A10.2,4.3 118.9 0 1 421.9,304.9" fill="none" stroke="#141414" stroke-width="0.8" stroke-linejoin="round" stroke-linecap="round"/>
<path d="M413.0,324.6 A11.4,4.8 118.9 0 1 424.0,304.7" fill="none" stroke="#141414" stroke-width="1.0" stroke-linejoin="round" stroke-linecap="round"/>
<path d="M415.0,324.3 A10.2,4.3 118.9 0 1 424.8,306.5" fill="none" stroke="#141414" stroke-width="0.8" stroke-linejoin="round" stroke-linecap="round"/>
<path d="M415.9,326.2 A11.3,4.8 118.9 0 1 426.8,306.3" fill="none" stroke="#141414" stroke-width="1.0" stroke-linejoin="round" stroke-linecap="round"/>
<path d="M417.9,325.9 A10.1,4.3 118.9 0 1 427.7,308.1" fill="none" stroke="#141414" stroke-width="0.8" stroke-linejoin="round" stroke-linecap="round"/>
<path d="M419.2,327.0 A10.5,4.4 118.9 0 1 429.3,308.6" fill="none" stroke="#141414" stroke-width="1.0" stroke-linejoin="round" stroke-linecap="round"/>
<path d="M421.8,325.7 A8.0,3.4 118.9 0 1 429.6,311.6" fill="none" stroke="#141414" stroke-width="0.8" stroke-linejoin="round" stroke-linecap="round"/>
<path d="M423.4,326.1 A7.7,3.2 118.9 0 1 430.8,312.7" fill="none" stroke="#141414" stroke-width="1.0" stroke-linejoin="round" stroke-linecap="round"/>
<path d="M425.6,325.6 A6.2,2.6 118.9 0 1 431.5,314.8" fill="none" stroke="#141414" stroke-width="0.8" stroke-linejoin="round" stroke-linecap="round"/>
<path d="M427.7,325.1 A4.7,2.0 118.9 0 1 432.3,316.9" fill="none" stroke="#141414" stroke-width="1.0" stroke-linejoin="round" stroke-linecap="round"/>
<polyline points="387.3,286.2 387.6,286.4 388.0,286.6 388.4,286.8 388.7,287.0 389.1,287.2 389.4,287.4 389.8,287.6 390.2,287.8 390.5,288.0 390.9,288.2 391.2,288.4 391.6,288.6 392.0,288.8 392.3,289.0 392.7,289.2 393.0,289.4 393.4,289.6 393.7,289.8 394.1,290.0 394.5,290.2 394.8,290.4 395.2,290.6 395.5,290.8 395.9,291.0 396.2,291.2 396.6,291.4 397.0,291.6 397.3,291.8 397.7,292.0 398.0,292.2 398.4,292.4 398.7,292.6 399.1,292.9 399.5,293.1 399.8,293.3 400.2,293.5 400.5,293.7 400.9,293.9 401.2,294.1 401.6,294.3 401.9,294.5 402.3,294.7 402.7,294.9 403.0,295.1 403.4,295.3 403.7,295.5 404.1,295.7 404.4,295.9 404.8,296.1 405.1,296.3 405.5,296.5 405.9,296.7 406.2,296.9 406.6,297.1 406.9,297.3 407.3,297.6 407.6,297.8 408.0,298.0 408.3,298.2 408.7,298.4 409.1,298.6 409.4,298.8 409.8,299.0 410.1,299.2 410.5,299.4 410.8,299.6 411.2,299.8 411.5,300.0 411.9,300.2 412.3,300.4 412.6,300.6 413.0,300.8 413.3,301.0 413.7,301.2 414.0,301.4 414.4,301.6 414.7,301.8 415.1,302.0 415.5,302.3 415.8,302.5 416.2,302.7 416.5,302.9 416.9,303.1 417.2,303.3 417.6,303.5 417.9,303.7 418.3,303.9 418.7,304.1 419.0,304.3 419.4,304.5 419.7,304.7 420.1,304.9 420.4,305.1 420.8,305.3 421.2,305.5 421.5,305.7 421.9,305.9 422.2,306.1 422.6,306.3 422.9,306.5 423.3,306.7 423.7,306.9 424.0,307.1 424.4,307.3 424.7,307.5 425.1,307.7 425.5,307.9 425.8,308.1 426.2,308.3 426.5,308.5 426.9,308.7 427.3,308.9 427.6,309.1 428.0,309.3 428.3,309.5 428.7,309.7 429.0,310.0 429.3,310.3 429.5,310.6 429.7,311.0 429.9,311.5 430.0,311.9 430.2,312.4 430.3,312.8 430.5,313.3 430.7,313.7 430.9,314.1 431.1,314.5 431.4,314.8 431.7,315.1 432.0,315.3 432.1,315.8 432.2,316.4 432.2,317.0 432.2,317.6 432.5,318.0" fill="none" stroke="#141414" stroke-width="0.65" stroke-linejoin="round" stroke-dasharray="1.2 1.2"/>
<polyline points="387.0,287.9 387.4,288.1 387.8,288.3 388.1,288.5 388.5,288.7 388.8,288.9 389.2,289.1 389.6,289.3 389.9,289.5 390.3,289.7 390.6,289.9 391.0,290.1 391.3,290.3 391.7,290.5 392.1,290.7 392.4,290.9 392.8,291.1 393.1,291.3 393.5,291.5 393.9,291.7 394.2,291.9 394.6,292.1 394.9,292.4 395.3,292.6 395.6,292.8 396.0,293.0 396.4,293.2 396.7,293.4 397.1,293.6 397.4,293.8 397.8,294.0 398.1,294.2 398.5,294.4 398.9,294.6 399.2,294.8 399.6,295.0 399.9,295.2 400.3,295.4 400.6,295.6 401.0,295.8 401.3,296.0 401.7,296.2 402.1,296.4 402.4,296.6 402.8,296.8 403.1,297.0 403.5,297.2 403.8,297.4 404.2,297.6 404.5,297.8 404.9,298.0 405.3,298.2 405.6,298.4 406.0,298.6 406.3,298.8 406.7,299.0 407.0,299.2 407.4,299.4 407.7,299.6 408.1,299.9 408.5,300.1 408.8,300.3 409.2,300.5 409.5,300.7 409.9,300.9 410.2,301.1 410.6,301.3 410.9,301.5 411.3,301.7 411.7,301.9 412.0,302.1 412.4,302.3 412.7,302.5 413.1,302.7 413.4,302.9 413.8,303.1 414.2,303.3 414.5,303.5 414.9,303.7 415.2,303.9 415.6,304.1 415.9,304.3 416.3,304.5 416.6,304.7 417.0,304.9 417.4,305.1 417.7,305.3 418.1,305.5 418.4,305.7 418.8,305.9 419.1,306.1 419.5,306.3 419.9,306.5 420.2,306.7 420.6,306.9 420.9,307.1 421.3,307.3 421.6,307.5 422.0,307.7 422.4,307.9 422.7,308.2 423.1,308.4 423.4,308.6 423.8,308.8 424.2,309.0 424.5,309.2 424.9,309.4 425.2,309.6 425.6,309.8 425.9,310.0 426.3,310.2 426.7,310.4 427.0,310.6 427.4,310.7 427.7,310.9 428.1,311.1 428.5,311.3 428.8,311.6 429.0,311.9 429.3,312.2 429.5,312.6 429.7,312.9 429.8,313.3 430.0,313.7 430.2,314.1 430.3,314.5 430.5,314.9 430.7,315.2 430.9,315.6 431.2,315.9 431.5,316.1 431.8,316.3 432.0,316.7 432.0,317.3 432.0,317.8 432.1,318.3 432.4,318.6" fill="none" stroke="#141414" stroke-width="0.65" stroke-linejoin="round" stroke-dasharray="1.2 1.2"/>
<polyline points="386.6,289.6 387.0,289.8 387.3,290.0 387.7,290.2 388.0,290.4 388.4,290.6 388.8,290.8 389.1,291.0 389.5,291.2 389.8,291.4 390.2,291.6 390.6,291.8 390.9,292.0 391.3,292.2 391.6,292.4 392.0,292.6 392.3,292.8 392.7,293.0 393.1,293.2 393.4,293.4 393.8,293.6 394.1,293.8 394.5,294.0 394.9,294.2 395.2,294.4 395.6,294.6 395.9,294.8 396.3,295.0 396.6,295.2 397.0,295.4 397.4,295.6 397.7,295.8 398.1,296.0 398.4,296.2 398.8,296.4 399.1,296.6 399.5,296.8 399.8,297.0 400.2,297.2 400.6,297.4 400.9,297.6 401.3,297.8 401.6,298.0 402.0,298.2 402.3,298.4 402.7,298.6 403.1,298.8 403.4,299.0 403.8,299.2 404.1,299.4 404.5,299.6 404.8,299.8 405.2,300.0 405.5,300.2 405.9,300.4 406.3,300.6 406.6,300.8 407.0,301.0 407.3,301.2 407.7,301.4 408.0,301.6 408.4,301.8 408.8,302.0 409.1,302.2 409.5,302.4 409.8,302.6 410.2,302.8 410.5,303.1 410.9,303.3 411.2,303.5 411.6,303.7 412.0,303.9 412.3,304.1 412.7,304.3 413.0,304.5 413.4,304.7 413.7,304.9 414.1,305.1 414.4,305.3 414.8,305.5 415.2,305.7 415.5,305.9 415.9,306.1 416.2,306.3 416.6,306.5 416.9,306.7 417.3,306.9 417.7,307.1 418.0,307.3 418.4,307.5 418.7,307.7 419.1,307.9 419.4,308.1 419.8,308.3 420.2,308.5 420.5,308.7 420.9,308.9 421.2,309.1 421.6,309.3 421.9,309.5 422.3,309.7 422.7,309.9 423.0,310.1 423.4,310.3 423.7,310.5 424.1,310.7 424.5,310.9 424.8,311.1 425.2,311.3 425.5,311.5 425.9,311.7 426.3,311.9 426.6,312.1 427.0,312.3 427.3,312.5 427.7,312.7 428.1,312.9 428.4,313.1 428.6,313.4 428.9,313.7 429.1,314.0 429.3,314.3 429.5,314.6 429.7,315.0 429.8,315.3 430.0,315.7 430.2,316.0 430.4,316.3 430.7,316.6 430.9,316.9 431.3,317.1 431.6,317.3 431.8,317.7 431.8,318.1 431.8,318.6 431.9,319.0 432.2,319.3" fill="none" stroke="#141414" stroke-width="0.65" stroke-linejoin="round" stroke-dasharray="1.2 1.2"/>
<polyline points="386.1,291.2 386.4,291.4 386.8,291.6 387.1,291.8 387.5,292.0 387.9,292.2 388.2,292.4 388.6,292.5 388.9,292.7 389.3,292.9 389.7,293.1 390.0,293.3 390.4,293.5 390.7,293.7 391.1,293.9 391.4,294.1 391.8,294.3 392.2,294.5 392.5,294.7 392.9,294.9 393.2,295.1 393.6,295.3 394.0,295.5 394.3,295.7 394.7,295.9 395.0,296.1 395.4,296.3 395.7,296.5 396.1,296.7 396.5,296.9 396.8,297.1 397.2,297.3 397.5,297.5 397.9,297.7 398.2,297.9 398.6,298.1 399.0,298.3 399.3,298.5 399.7,298.7 400.0,298.9 400.4,299.1 400.7,299.3 401.1,299.5 401.5,299.7 401.8,299.9 402.2,300.1 402.5,300.4 402.9,300.6 403.2,300.8 403.6,301.0 403.9,301.2 404.3,301.4 404.7,301.6 405.0,301.8 405.4,302.0 405.7,302.2 406.1,302.4 406.4,302.6 406.8,302.8 407.2,303.0 407.5,303.2 407.9,303.4 408.2,303.6 408.6,303.8 408.9,304.0 409.3,304.2 409.6,304.4 410.0,304.6 410.4,304.8 410.7,305.0 411.1,305.2 411.4,305.4 411.8,305.6 412.1,305.8 412.5,306.0 412.9,306.2 413.2,306.4 413.6,306.6 413.9,306.8 414.3,307.0 414.6,307.2 415.0,307.4 415.4,307.6 415.7,307.8 416.1,308.0 416.4,308.2 416.8,308.4 417.1,308.6 417.5,308.8 417.9,309.0 418.2,309.2 418.6,309.4 418.9,309.6 419.3,309.8 419.6,310.0 420.0,310.2 420.4,310.4 420.7,310.6 421.1,310.8 421.4,311.0 421.8,311.2 422.1,311.4 422.5,311.6 422.9,311.8 423.2,312.0 423.6,312.2 423.9,312.4 424.3,312.6 424.7,312.8 425.0,313.0 425.4,313.2 425.7,313.4 426.1,313.6 426.5,313.8 426.8,314.0 427.2,314.2 427.5,314.4 427.9,314.6 428.1,314.8 428.4,315.1 428.6,315.4 428.8,315.6 429.0,315.9 429.2,316.2 429.4,316.5 429.6,316.8 429.8,317.1 430.1,317.3 430.3,317.6 430.6,317.9 430.9,318.1 431.3,318.3 431.4,318.6 431.5,318.9 431.6,319.3 431.7,319.6 432.0,319.9" fill="none" stroke="#141414" stroke-width="0.65" stroke-linejoin="round" stroke-dasharray="1.2 1.2"/>
<polyline points="385.4,292.7 385.8,292.9 386.1,293.1 386.5,293.3 386.9,293.5 387.2,293.7 387.6,293.9 387.9,294.1 388.3,294.3 388.7,294.5 389.0,294.7 389.4,294.9 389.7,295.1 390.1,295.3 390.5,295.5 390.8,295.7 391.2,295.9 391.5,296.1 391.9,296.3 392.2,296.5 392.6,296.7 393.0,296.9 393.3,297.1 393.7,297.3 394.0,297.5 394.4,297.7 394.8,297.9 395.1,298.1 395.5,298.3 395.8,298.5 396.2,298.7 396.5,298.9 396.9,299.1 397.3,299.3 397.6,299.5 398.0,299.7 398.3,299.9 398.7,300.1 399.0,300.3 399.4,300.4 399.8,300.6 400.1,300.8 400.5,301.0 400.8,301.2 401.2,301.4 401.5,301.6 401.9,301.8 402.3,302.0 402.6,302.2 403.0,302.4 403.3,302.6 403.7,302.8 404.0,303.0 404.4,303.2 404.8,303.4 405.1,303.6 405.5,303.8 405.8,304.0 406.2,304.2 406.5,304.4 406.9,304.6 407.3,304.8 407.6,305.0 408.0,305.2 408.3,305.4 408.7,305.6 409.0,305.8 409.4,306.0 409.8,306.2 410.1,306.4 410.5,306.6 410.8,306.8 411.2,307.0 411.5,307.2 411.9,307.4 412.3,307.6 412.6,307.8 413.0,308.0 413.3,308.2 413.7,308.4 414.0,308.6 414.4,308.8 414.8,309.0 415.1,309.2 415.5,309.4 415.8,309.6 416.2,309.8 416.5,310.0 416.9,310.2 417.3,310.4 417.6,310.6 418.0,310.8 418.3,311.0 418.7,311.2 419.0,311.4 419.4,311.6 419.8,311.8 420.1,312.0 420.5,312.2 420.8,312.4 421.2,312.6 421.6,312.8 421.9,313.0 422.3,313.2 422.6,313.4 423.0,313.6 423.4,313.8 423.7,314.0 424.1,314.2 424.4,314.4 424.8,314.6 425.1,314.8 425.5,315.0 425.9,315.2 426.2,315.4 426.6,315.6 426.9,315.8 427.3,316.0 427.6,316.2 427.8,316.4 428.1,316.7 428.3,316.9 428.5,317.2 428.8,317.4 429.0,317.6 429.2,317.9 429.4,318.1 429.7,318.4 429.9,318.6 430.2,318.8 430.5,319.0 430.9,319.2 431.1,319.5 431.2,319.7 431.3,320.0 431.5,320.3 431.7,320.5" fill="none" stroke="#141414" stroke-width="0.65" stroke-linejoin="round" stroke-dasharray="1.2 1.2"/>
<polyline points="384.7,294.2 385.1,294.4 385.4,294.6 385.8,294.8 386.2,295.0 386.5,295.2 386.9,295.4 387.2,295.6 387.6,295.8 388.0,296.0 388.3,296.2 388.7,296.4 389.0,296.6 389.4,296.8 389.8,297.0 390.1,297.2 390.5,297.4 390.8,297.6 391.2,297.7 391.6,297.9 391.9,298.1 392.3,298.3 392.6,298.5 393.0,298.7 393.3,298.9 393.7,299.1 394.1,299.3 394.4,299.5 394.8,299.7 395.1,299.9 395.5,300.1 395.9,300.3 396.2,300.5 396.6,300.7 396.9,300.9 397.3,301.1 397.6,301.3 398.0,301.5 398.4,301.7 398.7,301.9 399.1,302.1 399.4,302.3 399.8,302.5 400.1,302.7 400.5,302.9 400.9,303.1 401.2,303.3 401.6,303.5 401.9,303.7 402.3,303.9 402.6,304.1 403.0,304.3 403.4,304.5 403.7,304.7 404.1,304.9 404.4,305.1 404.8,305.3 405.1,305.5 405.5,305.7 405.9,305.9 406.2,306.1 406.6,306.3 406.9,306.5 407.3,306.7 407.7,306.9 408.0,307.1 408.4,307.3 408.7,307.5 409.1,307.7 409.4,307.9 409.8,308.1 410.2,308.3 410.5,308.5 410.9,308.7 411.2,308.9 411.6,309.1 411.9,309.3 412.3,309.5 412.7,309.7 413.0,309.9 413.4,310.1 413.7,310.2 414.1,310.4 414.4,310.6 414.8,310.8 415.2,311.0 415.5,311.2 415.9,311.4 416.2,311.6 416.6,311.8 417.0,312.0 417.3,312.2 417.7,312.4 418.0,312.6 418.4,312.8 418.7,313.0 419.1,313.2 419.5,313.4 419.8,313.6 420.2,313.8 420.5,314.0 420.9,314.2 421.3,314.4 421.6,314.6 422.0,314.8 422.3,315.0 422.7,315.2 423.1,315.4 423.4,315.6 423.8,315.8 424.1,316.0 424.5,316.2 424.9,316.4 425.2,316.6 425.6,316.8 425.9,317.0 426.3,317.2 426.6,317.4 426.9,317.6 427.2,317.8 427.5,318.0 427.7,318.2 428.0,318.4 428.2,318.6 428.4,318.7 428.7,318.9 428.9,319.1 429.2,319.3 429.5,319.5 429.8,319.7 430.1,319.9 430.5,320.1 430.7,320.3 430.8,320.5 431.0,320.7 431.2,320.9 431.5,321.1" fill="none" stroke="#141414" stroke-width="0.65" stroke-linejoin="round" stroke-dasharray="1.2 1.2"/>
<polyline points="384.0,295.6 384.3,295.8 384.7,296.0 385.0,296.2 385.4,296.4 385.8,296.6 386.1,296.8 386.5,297.0 386.8,297.2 387.2,297.4 387.6,297.6 387.9,297.8 388.3,298.0 388.6,298.2 389.0,298.4 389.4,298.6 389.7,298.8 390.1,299.0 390.4,299.2 390.8,299.4 391.2,299.6 391.5,299.8 391.9,300.0 392.2,300.2 392.6,300.4 392.9,300.6 393.3,300.8 393.7,301.0 394.0,301.2 394.4,301.4 394.7,301.6 395.1,301.8 395.5,302.0 395.8,302.2 396.2,302.4 396.5,302.6 396.9,302.8 397.2,303.0 397.6,303.2 398.0,303.3 398.3,303.5 398.7,303.7 399.0,303.9 399.4,304.1 399.8,304.3 400.1,304.5 400.5,304.7 400.8,304.9 401.2,305.1 401.5,305.3 401.9,305.5 402.3,305.7 402.6,305.9 403.0,306.1 403.3,306.3 403.7,306.5 404.1,306.7 404.4,306.9 404.8,307.1 405.1,307.3 405.5,307.5 405.8,307.7 406.2,307.9 406.6,308.1 406.9,308.3 407.3,308.5 407.6,308.7 408.0,308.9 408.3,309.1 408.7,309.3 409.1,309.5 409.4,309.7 409.8,309.9 410.1,310.1 410.5,310.3 410.9,310.5 411.2,310.6 411.6,310.8 411.9,311.0 412.3,311.2 412.6,311.4 413.0,311.6 413.4,311.8 413.7,312.0 414.1,312.2 414.4,312.4 414.8,312.6 415.2,312.8 415.5,313.0 415.9,313.2 416.2,313.4 416.6,313.6 416.9,313.8 417.3,314.0 417.7,314.2 418.0,314.4 418.4,314.6 418.7,314.8 419.1,315.0 419.5,315.2 419.8,315.4 420.2,315.6 420.5,315.8 420.9,316.0 421.3,316.2 421.6,316.4 422.0,316.6 422.3,316.8 422.7,317.0 423.1,317.2 423.4,317.4 423.8,317.6 424.1,317.8 424.5,318.0 424.9,318.2 425.2,318.4 425.6,318.6 425.9,318.7 426.2,318.9 426.5,319.1 426.8,319.2 427.1,319.4 427.4,319.5 427.6,319.7 427.9,319.8 428.1,320.0 428.4,320.1 428.7,320.3 429.0,320.4 429.3,320.6 429.6,320.8 430.0,321.0 430.2,321.1 430.4,321.2 430.6,321.4 430.9,321.5 431.2,321.6" fill="none" stroke="#141414" stroke-width="0.65" stroke-linejoin="round" stroke-dasharray="1.2 1.2"/>
<polyline points="383.1,297.1 383.5,297.3 383.9,297.5 384.2,297.6 384.6,297.8 384.9,298.0 385.3,298.2 385.7,298.4 386.0,298.6 386.4,298.8 386.7,299.0 387.1,299.2 387.5,299.4 387.8,299.6 388.2,299.8 388.5,300.0 388.9,300.2 389.3,300.4 389.6,300.6 390.0,300.8 390.3,301.0 390.7,301.2 391.1,301.4 391.4,301.6 391.8,301.8 392.1,302.0 392.5,302.2 392.8,302.4 393.2,302.6 393.6,302.8 393.9,303.0 394.3,303.2 394.6,303.4 395.0,303.6 395.4,303.8 395.7,304.0 396.1,304.2 396.4,304.4 396.8,304.6 397.2,304.7 397.5,304.9 397.9,305.1 398.2,305.3 398.6,305.5 398.9,305.7 399.3,305.9 399.7,306.1 400.0,306.3 400.4,306.5 400.7,306.7 401.1,306.9 401.5,307.1 401.8,307.3 402.2,307.5 402.5,307.7 402.9,307.9 403.3,308.1 403.6,308.3 404.0,308.5 404.3,308.7 404.7,308.9 405.0,309.1 405.4,309.3 405.8,309.5 406.1,309.7 406.5,309.8 406.8,310.0 407.2,310.2 407.6,310.4 407.9,310.6 408.3,310.8 408.6,311.0 409.0,311.2 409.3,311.4 409.7,311.6 410.1,311.8 410.4,312.0 410.8,312.2 411.1,312.4 411.5,312.6 411.9,312.8 412.2,313.0 412.6,313.2 412.9,313.4 413.3,313.6 413.7,313.8 414.0,314.0 414.4,314.2 414.7,314.4 415.1,314.6 415.5,314.8 415.8,315.0 416.2,315.2 416.5,315.3 416.9,315.5 417.2,315.7 417.6,315.9 418.0,316.1 418.3,316.3 418.7,316.5 419.0,316.7 419.4,316.9 419.8,317.1 420.1,317.3 420.5,317.5 420.8,317.7 421.2,317.9 421.6,318.1 421.9,318.3 422.3,318.5 422.6,318.7 423.0,318.9 423.4,319.1 423.7,319.3 424.1,319.5 424.4,319.7 424.8,319.9 425.1,320.1 425.5,320.2 425.8,320.4 426.1,320.5 426.4,320.6 426.7,320.7 427.0,320.8 427.3,320.9 427.6,321.0 427.9,321.1 428.2,321.2 428.5,321.3 428.8,321.5 429.1,321.7 429.5,321.9 429.8,321.9 430.0,322.0 430.3,322.0 430.5,322.1 430.8,322.2" fill="none" stroke="#141414" stroke-width="0.65" stroke-linejoin="round" stroke-dasharray="1.2 1.2"/>
<polyline points="382.3,298.4 382.6,298.6 383.0,298.8 383.3,299.0 383.7,299.2 384.1,299.4 384.4,299.6 384.8,299.8 385.1,300.0 385.5,300.2 385.9,300.4 386.2,300.6 386.6,300.8 386.9,301.0 387.3,301.2 387.7,301.4 388.0,301.6 388.4,301.8 388.7,302.0 389.1,302.2 389.5,302.4 389.8,302.6 390.2,302.8 390.5,303.0 390.9,303.2 391.3,303.4 391.6,303.6 392.0,303.8 392.3,304.0 392.7,304.2 393.0,304.4 393.4,304.5 393.8,304.7 394.1,304.9 394.5,305.1 394.8,305.3 395.2,305.5 395.6,305.7 395.9,305.9 396.3,306.1 396.6,306.3 397.0,306.5 397.4,306.7 397.7,306.9 398.1,307.1 398.4,307.3 398.8,307.5 399.2,307.7 399.5,307.9 399.9,308.1 400.2,308.3 400.6,308.5 401.0,308.7 401.3,308.8 401.7,309.0 402.0,309.2 402.4,309.4 402.8,309.6 403.1,309.8 403.5,310.0 403.8,310.2 404.2,310.4 404.5,310.6 404.9,310.8 405.3,311.0 405.6,311.2 406.0,311.4 406.3,311.6 406.7,311.8 407.1,312.0 407.4,312.2 407.8,312.4 408.1,312.6 408.5,312.7 408.9,312.9 409.2,313.1 409.6,313.3 409.9,313.5 410.3,313.7 410.7,313.9 411.0,314.1 411.4,314.3 411.7,314.5 412.1,314.7 412.5,314.9 412.8,315.1 413.2,315.3 413.5,315.5 413.9,315.7 414.3,315.9 414.6,316.1 415.0,316.3 415.3,316.5 415.7,316.7 416.1,316.9 416.4,317.1 416.8,317.3 417.1,317.4 417.5,317.6 417.8,317.8 418.2,318.0 418.6,318.2 418.9,318.4 419.3,318.6 419.6,318.8 420.0,319.0 420.4,319.2 420.7,319.4 421.1,319.6 421.4,319.8 421.8,320.0 422.2,320.2 422.5,320.4 422.9,320.6 423.2,320.8 423.6,321.0 424.0,321.2 424.3,321.4 424.7,321.5 425.0,321.6 425.3,321.7 425.6,321.8 426.0,321.8 426.3,321.9 426.6,321.9 426.9,322.0 427.3,322.0 427.6,322.1 427.9,322.2 428.3,322.4 428.6,322.5 429.0,322.7 429.3,322.7 429.6,322.7 429.9,322.6 430.2,322.6 430.5,322.7" fill="none" stroke="#141414" stroke-width="0.65" stroke-linejoin="round" stroke-dasharray="1.2 1.2"/>
<polyline points="381.3,299.8 381.7,300.0 382.0,300.2 382.4,300.4 382.7,300.6 383.1,300.8 383.5,301.0 383.8,301.2 384.2,301.4 384.5,301.6 384.9,301.8 385.3,302.0 385.6,302.2 386.0,302.4 386.3,302.6 386.7,302.8 387.1,302.9 387.4,303.1 387.8,303.3 388.1,303.5 388.5,303.7 388.9,303.9 389.2,304.1 389.6,304.3 389.9,304.5 390.3,304.7 390.7,304.9 391.0,305.1 391.4,305.3 391.7,305.5 392.1,305.7 392.5,305.9 392.8,306.1 393.2,306.3 393.5,306.5 393.9,306.7 394.3,306.9 394.6,307.1 395.0,307.2 395.3,307.4 395.7,307.6 396.1,307.8 396.4,308.0 396.8,308.2 397.1,308.4 397.5,308.6 397.9,308.8 398.2,309.0 398.6,309.2 398.9,309.4 399.3,309.6 399.7,309.8 400.0,310.0 400.4,310.2 400.7,310.4 401.1,310.5 401.5,310.7 401.8,310.9 402.2,311.1 402.5,311.3 402.9,311.5 403.3,311.7 403.6,311.9 404.0,312.1 404.3,312.3 404.7,312.5 405.1,312.7 405.4,312.9 405.8,313.1 406.1,313.3 406.5,313.5 406.9,313.7 407.2,313.8 407.6,314.0 407.9,314.2 408.3,314.4 408.7,314.6 409.0,314.8 409.4,315.0 409.7,315.2 410.1,315.4 410.5,315.6 410.8,315.8 411.2,316.0 411.5,316.2 411.9,316.4 412.3,316.6 412.6,316.8 413.0,317.0 413.3,317.2 413.7,317.4 414.1,317.5 414.4,317.7 414.8,317.9 415.1,318.1 415.5,318.3 415.9,318.5 416.2,318.7 416.6,318.9 416.9,319.1 417.3,319.3 417.7,319.5 418.0,319.7 418.4,319.9 418.7,320.1 419.1,320.3 419.5,320.5 419.8,320.7 420.2,320.9 420.6,321.1 420.9,321.3 421.3,321.5 421.6,321.7 422.0,321.9 422.4,322.1 422.7,322.3 423.1,322.5 423.4,322.6 423.8,322.7 424.1,322.8 424.5,322.9 424.8,322.9 425.2,322.9 425.5,322.9 425.9,322.9 426.2,322.9 426.6,323.0 427.0,323.0 427.3,323.1 427.7,323.2 428.0,323.3 428.4,323.5 428.7,323.5 429.1,323.4 429.4,323.3 429.8,323.2 430.1,323.3" fill="none" stroke="#141414" stroke-width="0.65" stroke-linejoin="round" stroke-dasharray="1.2 1.2"/>
<polyline points="380.3,301.1 380.6,301.3 381.0,301.5 381.3,301.7 381.7,301.9 382.1,302.1 382.4,302.3 382.8,302.5 383.1,302.7 383.5,302.9 383.9,303.1 384.2,303.3 384.6,303.5 384.9,303.7 385.3,303.9 385.7,304.1 386.0,304.2 386.4,304.4 386.7,304.6 387.1,304.8 387.5,305.0 387.8,305.2 388.2,305.4 388.6,305.6 388.9,305.8 389.3,306.0 389.6,306.2 390.0,306.4 390.4,306.6 390.7,306.8 391.1,307.0 391.4,307.2 391.8,307.4 392.2,307.6 392.5,307.8 392.9,307.9 393.2,308.1 393.6,308.3 394.0,308.5 394.3,308.7 394.7,308.9 395.0,309.1 395.4,309.3 395.8,309.5 396.1,309.7 396.5,309.9 396.8,310.1 397.2,310.3 397.6,310.5 397.9,310.7 398.3,310.8 398.7,311.0 399.0,311.2 399.4,311.4 399.7,311.6 400.1,311.8 400.5,312.0 400.8,312.2 401.2,312.4 401.5,312.6 401.9,312.8 402.3,313.0 402.6,313.2 403.0,313.4 403.3,313.5 403.7,313.7 404.1,313.9 404.4,314.1 404.8,314.3 405.1,314.5 405.5,314.7 405.9,314.9 406.2,315.1 406.6,315.3 407.0,315.5 407.3,315.7 407.7,315.9 408.0,316.1 408.4,316.3 408.8,316.4 409.1,316.6 409.5,316.8 409.8,317.0 410.2,317.2 410.6,317.4 410.9,317.6 411.3,317.8 411.6,318.0 412.0,318.2 412.4,318.4 412.7,318.6 413.1,318.8 413.4,319.0 413.8,319.2 414.2,319.4 414.5,319.6 414.9,319.8 415.2,320.0 415.6,320.1 416.0,320.3 416.3,320.5 416.7,320.7 417.1,320.9 417.4,321.1 417.8,321.3 418.1,321.5 418.5,321.7 418.9,321.9 419.2,322.1 419.6,322.3 419.9,322.5 420.3,322.7 420.7,322.9 421.0,323.1 421.4,323.3 421.7,323.5 422.1,323.7 422.5,323.8 422.8,323.9 423.2,324.0 423.6,324.0 424.0,324.0 424.4,324.0 424.7,323.9 425.1,323.9 425.5,323.9 425.9,323.9 426.3,323.9 426.6,323.9 427.0,324.0 427.4,324.1 427.8,324.3 428.1,324.3 428.5,324.1 428.9,323.9 429.3,323.7 429.7,323.8" fill="none" stroke="#141414" stroke-width="0.65" stroke-linejoin="round" stroke-dasharray="1.2 1.2"/>
<polyline points="379.1,302.3 379.5,302.5 379.8,302.7 380.2,302.9 380.5,303.1 380.9,303.3 381.3,303.5 381.6,303.7 382.0,303.9 382.4,304.1 382.7,304.3 383.1,304.5 383.4,304.7 383.8,304.9 384.2,305.1 384.5,305.3 384.9,305.5 385.2,305.7 385.6,305.9 386.0,306.1 386.3,306.3 386.7,306.5 387.0,306.7 387.4,306.9 387.8,307.0 388.1,307.2 388.5,307.4 388.9,307.6 389.2,307.8 389.6,308.0 389.9,308.2 390.3,308.4 390.7,308.6 391.0,308.8 391.4,309.0 391.7,309.2 392.1,309.4 392.5,309.6 392.8,309.8 393.2,309.9 393.6,310.1 393.9,310.3 394.3,310.5 394.6,310.7 395.0,310.9 395.4,311.1 395.7,311.3 396.1,311.5 396.4,311.7 396.8,311.9 397.2,312.1 397.5,312.3 397.9,312.4 398.3,312.6 398.6,312.8 399.0,313.0 399.3,313.2 399.7,313.4 400.1,313.6 400.4,313.8 400.8,314.0 401.1,314.2 401.5,314.4 401.9,314.6 402.2,314.7 402.6,314.9 403.0,315.1 403.3,315.3 403.7,315.5 404.0,315.7 404.4,315.9 404.8,316.1 405.1,316.3 405.5,316.5 405.9,316.7 406.2,316.9 406.6,317.1 406.9,317.2 407.3,317.4 407.7,317.6 408.0,317.8 408.4,318.0 408.7,318.2 409.1,318.4 409.5,318.6 409.8,318.8 410.2,319.0 410.6,319.2 410.9,319.4 411.3,319.6 411.6,319.8 412.0,320.0 412.4,320.1 412.7,320.3 413.1,320.5 413.4,320.7 413.8,320.9 414.2,321.1 414.5,321.3 414.9,321.5 415.2,321.7 415.6,321.9 416.0,322.1 416.3,322.3 416.7,322.5 417.1,322.7 417.4,322.9 417.8,323.1 418.1,323.3 418.5,323.5 418.9,323.7 419.2,323.9 419.6,324.1 419.9,324.3 420.3,324.5 420.7,324.7 421.0,324.9 421.4,325.0 421.8,325.1 422.2,325.1 422.6,325.1 423.0,325.0 423.4,325.0 423.8,324.9 424.3,324.8 424.7,324.7 425.1,324.7 425.5,324.7 425.9,324.7 426.3,324.8 426.7,324.9 427.1,325.0 427.5,325.0 427.9,324.7 428.4,324.4 428.9,324.2 429.3,324.3" fill="none" stroke="#141414" stroke-width="0.65" stroke-linejoin="round" stroke-dasharray="1.2 1.2"/>
<polyline points="377.8,303.5 378.1,303.7 378.5,303.9 378.8,304.1 379.2,304.3 379.6,304.5 379.9,304.7 380.3,304.9 380.7,305.1 381.0,305.3 381.4,305.4 381.7,305.6 382.1,305.8 382.5,306.0 382.8,306.2 383.2,306.4 383.5,306.6 383.9,306.8 384.3,307.0 384.6,307.2 385.0,307.4 385.4,307.6 385.7,307.8 386.1,308.0 386.4,308.2 386.8,308.4 387.2,308.6 387.5,308.8 387.9,308.9 388.2,309.1 388.6,309.3 389.0,309.5 389.3,309.7 389.7,309.9 390.1,310.1 390.4,310.3 390.8,310.5 391.1,310.7 391.5,310.9 391.9,311.1 392.2,311.3 392.6,311.4 393.0,311.6 393.3,311.8 393.7,312.0 394.0,312.2 394.4,312.4 394.8,312.6 395.1,312.8 395.5,313.0 395.9,313.2 396.2,313.4 396.6,313.6 396.9,313.7 397.3,313.9 397.7,314.1 398.0,314.3 398.4,314.5 398.8,314.7 399.1,314.9 399.5,315.1 399.9,315.3 400.2,315.5 400.6,315.7 400.9,315.8 401.3,316.0 401.7,316.2 402.0,316.4 402.4,316.6 402.8,316.8 403.1,317.0 403.5,317.2 403.8,317.4 404.2,317.6 404.6,317.8 404.9,318.0 405.3,318.1 405.7,318.3 406.0,318.5 406.4,318.7 406.7,318.9 407.1,319.1 407.5,319.3 407.8,319.5 408.2,319.7 408.6,319.9 408.9,320.1 409.3,320.3 409.6,320.5 410.0,320.6 410.4,320.8 410.7,321.0 411.1,321.2 411.5,321.4 411.8,321.6 412.2,321.8 412.5,322.0 412.9,322.2 413.3,322.4 413.6,322.6 414.0,322.8 414.3,323.0 414.7,323.2 415.1,323.4 415.4,323.6 415.8,323.8 416.2,324.0 416.5,324.1 416.9,324.3 417.2,324.5 417.6,324.7 418.0,324.9 418.3,325.1 418.7,325.3 419.0,325.5 419.4,325.7 419.8,325.9 420.1,326.0 420.6,326.1 421.0,326.1 421.4,326.1 421.9,326.0 422.3,325.9 422.8,325.8 423.3,325.7 423.7,325.6 424.2,325.5 424.6,325.4 425.1,325.4 425.5,325.5 425.9,325.6 426.2,325.7 426.7,325.6 427.2,325.3 427.8,324.9 428.3,324.7 428.7,324.7" fill="none" stroke="#141414" stroke-width="0.65" stroke-linejoin="round" stroke-dasharray="1.2 1.2"/>
<polygon points="426.7,323.3 431.2,325.8 434.8,319.2 430.3,316.7" fill="#fff" stroke="none"/>
<path d="M426.7,323.3 A3.8,1.9 119.1 0 0 430.3,316.7" fill="none" stroke="#141414" stroke-width="0.95" stroke-linejoin="round" stroke-linecap="round"/>
<line x1="426.7" y1="323.3" x2="431.2" y2="325.8" stroke="#141414" stroke-width="0.95"/>
<line x1="430.3" y1="316.7" x2="434.8" y2="319.2" stroke="#141414" stroke-width="0.95"/>
<ellipse cx="433.0" cy="322.5" rx="3.8" ry="1.9" transform="rotate(119.1 433.0 322.5)" fill="#fff" stroke="#141414" stroke-width="0.95"/>
<polygon points="431.5,325.1 446.5,333.6 449.5,328.4 434.5,319.9" fill="#fff" stroke="none"/>
<line x1="431.5" y1="325.1" x2="446.5" y2="333.6" stroke="#141414" stroke-width="0.95"/>
<line x1="434.5" y1="319.9" x2="449.5" y2="328.4" stroke="#141414" stroke-width="0.95"/>
<polygon points="445.7,333.2 446.5,330.1 448.8,327.9 456.8,332.6 458.3,333.5 457.5,336.6 455.2,338.8 447.2,334.1" fill="#fff" stroke="#141414" stroke-width="0.95" stroke-linejoin="round"/>
<polygon points="455.2,338.8 457.5,336.6 458.3,333.5 456.8,332.6 454.5,334.8 453.7,337.9" fill="#fff" stroke="#141414" stroke-width="0.95" stroke-linejoin="round"/>
<line x1="447.2" y1="334.1" x2="455.2" y2="338.8" stroke="#141414" stroke-width="0.76"/>
<line x1="449.5" y1="331.9" x2="457.5" y2="336.6" stroke="#141414" stroke-width="0.76"/>
<line x1="445.7" y1="333.2" x2="453.7" y2="337.9" stroke="#141414" stroke-width="0.76"/>
<ellipse cx="456.0" cy="335.7" rx="1.9" ry="1.0" transform="rotate(120.4 456.0 335.7)" fill="none" stroke="#141414" stroke-width="0.76"/>
<polygon points="454.6,338.1 472.1,348.4 474.9,343.6 457.4,333.3" fill="#fff" stroke="none"/>
<line x1="454.6" y1="338.1" x2="472.1" y2="348.4" stroke="#141414" stroke-width="0.95"/>
<line x1="457.4" y1="333.3" x2="474.9" y2="343.6" stroke="#141414" stroke-width="0.95"/>
<path d="M455.9,338.9 A2.8,1.4 120.5 0 1 458.8,334.1" fill="none" stroke="#141414" stroke-width="0.7" stroke-linejoin="round" stroke-linecap="round"/>
<path d="M457.3,339.7 A2.8,1.4 120.5 0 1 460.1,334.9" fill="none" stroke="#141414" stroke-width="0.7" stroke-linejoin="round" stroke-linecap="round"/>
<path d="M458.6,340.5 A2.8,1.4 120.5 0 1 461.5,335.7" fill="none" stroke="#141414" stroke-width="0.7" stroke-linejoin="round" stroke-linecap="round"/>
<path d="M460.0,341.3 A2.8,1.4 120.5 0 1 462.8,336.5" fill="none" stroke="#141414" stroke-width="0.7" stroke-linejoin="round" stroke-linecap="round"/>
<path d="M461.3,342.1 A2.8,1.4 120.5 0 1 464.2,337.2" fill="none" stroke="#141414" stroke-width="0.7" stroke-linejoin="round" stroke-linecap="round"/>
<path d="M462.7,342.9 A2.8,1.4 120.5 0 1 465.5,338.0" fill="none" stroke="#141414" stroke-width="0.7" stroke-linejoin="round" stroke-linecap="round"/>
<path d="M464.0,343.7 A2.8,1.4 120.5 0 1 466.8,338.8" fill="none" stroke="#141414" stroke-width="0.7" stroke-linejoin="round" stroke-linecap="round"/>
<path d="M465.3,344.5 A2.8,1.4 120.5 0 1 468.2,339.6" fill="none" stroke="#141414" stroke-width="0.7" stroke-linejoin="round" stroke-linecap="round"/>
<path d="M466.7,345.2 A2.8,1.4 120.5 0 1 469.5,340.4" fill="none" stroke="#141414" stroke-width="0.7" stroke-linejoin="round" stroke-linecap="round"/>
<path d="M468.0,346.0 A2.8,1.4 120.5 0 1 470.9,341.2" fill="none" stroke="#141414" stroke-width="0.7" stroke-linejoin="round" stroke-linecap="round"/>
<path d="M469.4,346.8 A2.8,1.4 120.5 0 1 472.2,342.0" fill="none" stroke="#141414" stroke-width="0.7" stroke-linejoin="round" stroke-linecap="round"/>
<path d="M470.7,347.6 A2.8,1.4 120.5 0 1 473.6,342.8" fill="none" stroke="#141414" stroke-width="0.7" stroke-linejoin="round" stroke-linecap="round"/>
<line x1="456.5" y1="334.9" x2="474.0" y2="345.2" stroke="#141414" stroke-width="0.7"/>
<line x1="455.5" y1="336.5" x2="473.0" y2="346.8" stroke="#141414" stroke-width="0.7"/>
<ellipse cx="473.5" cy="346.0" rx="2.8" ry="1.4" transform="rotate(120.5 473.5 346.0)" fill="#fff" stroke="#141414" stroke-width="0.95"/>
<line x1="375.5" y1="266.0" x2="375.5" y2="282.0" stroke="#141414" stroke-width="0.95"/>
<text transform="translate(371.0,265.0) scale(0.9,1)" font-size="10">2</text>
<path d="M200.5,236 L205,235 L210.5,239 C212,241 213,243 215,243 C218,243.5 221,242 223,240 C226,237 228,233 228,230 L228,222 L227,221 L229,220.5 L235.5,224.5 L235.5,237 L228,242 C222,246 215,249 207.5,252 L201,250 Z" fill="#fff" stroke="#141414" stroke-width="0.95" stroke-linejoin="round" stroke-linecap="round"/>
<path d="M200.5,236 L207.5,238 L207.5,252" fill="none" stroke="#141414" stroke-width="0.8" stroke-linejoin="round" stroke-linecap="round"/>
<path d="M207.5,238 L210.5,239" fill="none" stroke="#141414" stroke-width="0.8" stroke-linejoin="round" stroke-linecap="round"/>
<path d="M212.5,239 C214,237 216,236 218,235 C220,233 222,229 223.5,225 L227,221" fill="none" stroke="#141414" stroke-width="0.8" stroke-linejoin="round" stroke-linecap="round"/>
<path d="M228,230 L235.5,224.5" fill="none" stroke="#141414" stroke-width="0.8" stroke-linejoin="round" stroke-linecap="round"/>
<ellipse cx="228.5" cy="227.5" rx="2.0" ry="1.3" transform="rotate(0.0 228.5 227.5)" fill="none" stroke="#141414" stroke-width="0.8"/>
<ellipse cx="228.5" cy="227.5" rx="1.0" ry="0.7" transform="rotate(0.0 228.5 227.5)" fill="none" stroke="#141414" stroke-width="0.6"/>
<line x1="228.0" y1="242.5" x2="239.0" y2="242.5" stroke="#141414" stroke-width="0.95"/>
<path d="M240.50,240.40 L242.10,239.00 L242.50,238.10 L242.50,246.00" fill="none" stroke="#1a1a1a" stroke-width="0.95" stroke-linejoin="miter"/>
<path d="M245.50,240.40 L247.10,239.00 L247.50,238.10 L247.50,246.00" fill="none" stroke="#1a1a1a" stroke-width="0.95" stroke-linejoin="miter"/>
<polygon points="269.8,250.6 276.3,254.6 277.7,252.4 271.2,248.4" fill="#fff" stroke="#141414" stroke-width="0.95" stroke-linejoin="round"/>
<line x1="271.4" y1="251.6" x2="273.4" y2="249.8" stroke="#141414" stroke-width="0.6"/>
<line x1="273.1" y1="252.6" x2="275.0" y2="250.8" stroke="#141414" stroke-width="0.6"/>
<line x1="274.7" y1="253.6" x2="276.7" y2="251.8" stroke="#141414" stroke-width="0.6"/>
<polygon points="266.7,249.8 267.3,247.5 269.1,246.0 270.3,246.7 272.3,248.0 271.7,250.2 269.9,251.8 267.9,250.6" fill="#fff" stroke="#141414" stroke-width="0.95" stroke-linejoin="round"/>
<polygon points="269.9,251.8 271.7,250.2 272.3,248.0 271.1,247.2 269.3,248.8 268.7,251.0" fill="#fff" stroke="#141414" stroke-width="0.95" stroke-linejoin="round"/>
<line x1="267.9" y1="250.6" x2="269.9" y2="251.8" stroke="#141414" stroke-width="0.76"/>
<line x1="269.7" y1="249.0" x2="271.7" y2="250.2" stroke="#141414" stroke-width="0.76"/>
<line x1="266.7" y1="249.8" x2="268.7" y2="251.0" stroke="#141414" stroke-width="0.76"/>
<ellipse cx="270.5" cy="249.5" rx="1.4" ry="0.8" transform="rotate(121.6 270.5 249.5)" fill="none" stroke="#141414" stroke-width="0.76"/>
<line x1="271.5" y1="253.0" x2="271.5" y2="263.7" stroke="#141414" stroke-width="0.7"/>
<text transform="translate(267.0,272.0) scale(0.9,1)" font-size="10">2</text>
<text transform="translate(272.0,272.0) scale(0.9,1)" font-size="10">7</text>
<rect x="312.2" y="287.0" width="4.6" height="13.3" fill="#fff" stroke="#141414" stroke-width="0.95"/>
<line x1="312.2" y1="290.0" x2="316.8" y2="290.7" stroke="#141414" stroke-width="0.6"/>
<line x1="312.2" y1="291.7" x2="316.8" y2="292.4" stroke="#141414" stroke-width="0.6"/>
<line x1="312.2" y1="293.4" x2="316.8" y2="294.1" stroke="#141414" stroke-width="0.6"/>
<line x1="312.2" y1="295.1" x2="316.8" y2="295.8" stroke="#141414" stroke-width="0.6"/>
<line x1="312.2" y1="296.8" x2="316.8" y2="297.5" stroke="#141414" stroke-width="0.6"/>
<line x1="312.2" y1="298.5" x2="316.8" y2="299.2" stroke="#141414" stroke-width="0.6"/>
<ellipse cx="314.5" cy="285.7" rx="4.4" ry="2.4" transform="rotate(0.0 314.5 285.7)" fill="#fff" stroke="#141414" stroke-width="0.95"/>
<path d="M310.5,280.7 L310.5,284.3 L318.5,284.3 L318.5,280.7 Z" fill="#fff" stroke="#141414" stroke-width="0.95"/>
<ellipse cx="314.5" cy="280.7" rx="4.0" ry="1.7" transform="rotate(0.0 314.5 280.7)" fill="#fff" stroke="#141414" stroke-width="0.95"/>
<line x1="313.5" y1="282.1" x2="313.5" y2="284.3" stroke="#141414" stroke-width="0.6"/>
<line x1="315.5" y1="282.1" x2="315.5" y2="284.3" stroke="#141414" stroke-width="0.6"/>
<line x1="314.5" y1="300.3" x2="314.5" y2="307.7" stroke="#141414" stroke-width="0.8"/>
<line x1="300.5" y1="288.5" x2="310.0" y2="288.5" stroke="#141414" stroke-width="0.8"/>
<path d="M291.50,286.40 L293.10,285.00 L293.50,284.10 L293.50,292.00" fill="none" stroke="#1a1a1a" stroke-width="0.95" stroke-linejoin="miter"/>
<text transform="translate(296.0,292.0) scale(0.9,1)" font-size="10">4</text>
<polygon points="116.8,232.0 143.8,247.0 148.2,239.0 121.2,224.0" fill="#fff" stroke="none"/>
<line x1="116.8" y1="232.0" x2="143.8" y2="247.0" stroke="#141414" stroke-width="0.95"/>
<line x1="121.2" y1="224.0" x2="148.2" y2="239.0" stroke="#141414" stroke-width="0.95"/>
<ellipse cx="146.0" cy="243.0" rx="4.6" ry="2.3" transform="rotate(119.1 146.0 243.0)" fill="#fff" stroke="#141414" stroke-width="0.95"/>
<ellipse cx="113.0" cy="222.0" rx="8.0" ry="5.5" transform="rotate(0.0 113.0 222.0)" fill="#fff" stroke="#141414" stroke-width="0.95"/>
<ellipse cx="113.0" cy="219.5" rx="5.0" ry="2.5" transform="rotate(0.0 113.0 219.5)" fill="none" stroke="#141414" stroke-width="0.95"/>
<path d="M105,222 C105,228 108,231 113,231 C118,231 121,228 121,222" fill="none" stroke="#141414" stroke-width="0.95" stroke-linejoin="round" stroke-linecap="round"/>
<polygon points="108.6,229.5 109.1,239.0 114.9,239.0 115.4,229.5" fill="#fff" stroke="none"/>
<line x1="108.6" y1="229.5" x2="109.1" y2="239.0" stroke="#141414" stroke-width="0.95"/>
<line x1="115.4" y1="229.5" x2="114.9" y2="239.0" stroke="#141414" stroke-width="0.95"/>
<path d="M109.1,239 A2.9,1.2 0 0 0 114.9,239" fill="none" stroke="#141414" stroke-width="0.8" stroke-linejoin="round" stroke-linecap="round"/>
<polygon points="109.7,239.5 109.7,246.0 114.3,246.0 114.3,239.5" fill="#fff" stroke="none"/>
<line x1="109.5" y1="239.5" x2="109.5" y2="246.0" stroke="#141414" stroke-width="0.95"/>
<line x1="114.5" y1="239.5" x2="114.5" y2="246.0" stroke="#141414" stroke-width="0.95"/>
<path d="M109.7,240.8 A2.3,0.9 180.0 0 1 114.3,240.8" fill="none" stroke="#141414" stroke-width="0.95" stroke-linejoin="round" stroke-linecap="round"/>
<path d="M109.7,242.1 A2.3,0.9 180.0 0 1 114.3,242.1" fill="none" stroke="#141414" stroke-width="0.95" stroke-linejoin="round" stroke-linecap="round"/>
<path d="M109.7,243.4 A2.3,0.9 180.0 0 1 114.3,243.4" fill="none" stroke="#141414" stroke-width="0.95" stroke-linejoin="round" stroke-linecap="round"/>
<path d="M109.7,244.7 A2.3,0.9 180.0 0 1 114.3,244.7" fill="none" stroke="#141414" stroke-width="0.95" stroke-linejoin="round" stroke-linecap="round"/>
<line x1="112.5" y1="239.5" x2="112.5" y2="246.0" stroke="#141414" stroke-width="0.95"/>
<polygon points="117.0,253.0 114.5,256.5 109.5,256.5 107.0,253.0 109.5,249.5 114.5,249.5" fill="#fff" stroke="#141414" stroke-width="1.05" stroke-linejoin="round"/>
<ellipse cx="112.0" cy="252.5" rx="4.2" ry="2.8" transform="rotate(0.0 112.0 252.5)" fill="none" stroke="#141414" stroke-width="0.7"/>
<ellipse cx="112.0" cy="252.5" rx="2.1" ry="1.5" transform="rotate(0.0 112.0 252.5)" fill="none" stroke="#141414" stroke-width="1.05"/>
<line x1="109.5" y1="255.2" x2="109.5" y2="256.8" stroke="#141414" stroke-width="0.7"/>
<line x1="114.5" y1="255.2" x2="114.5" y2="256.8" stroke="#141414" stroke-width="0.7"/>
<line x1="112.5" y1="258.5" x2="112.5" y2="269.5" stroke="#141414" stroke-width="0.8"/>
<text transform="translate(108.0,278.8) scale(0.9,1)" font-size="10">2</text>
<text transform="translate(113.0,278.8) scale(0.9,1)" font-size="10">8</text>
<line x1="131.5" y1="242.0" x2="131.5" y2="258.3" stroke="#141414" stroke-width="0.8"/>
<text transform="translate(129.0,267.3) scale(0.9,1)" font-size="9">4</text>
<ellipse cx="153.0" cy="248.0" rx="3.6" ry="4.2" transform="rotate(20.0 153.0 248.0)" fill="none" stroke="#141414" stroke-width="0.95"/>
<ellipse cx="153.0" cy="248.0" rx="1.8" ry="2.2" transform="rotate(20.0 153.0 248.0)" fill="none" stroke="#141414" stroke-width="0.7"/>
<line x1="150.5" y1="252.0" x2="150.5" y2="268.0" stroke="#141414" stroke-width="0.95"/>
<text transform="translate(147.0,278.0) scale(0.9,1)" font-size="10">9</text>
<polygon points="166.7,253.7 163.0,255.4 159.3,253.7 159.3,250.3 163.0,248.6 166.7,250.3" fill="#fff" stroke="#141414" stroke-width="1.05" stroke-linejoin="round"/>
<ellipse cx="163.0" cy="251.6" rx="3.7" ry="2.4" transform="rotate(0.0 163.0 251.6)" fill="none" stroke="#141414" stroke-width="0.7"/>
<ellipse cx="163.0" cy="251.6" rx="1.8" ry="1.3" transform="rotate(0.0 163.0 251.6)" fill="none" stroke="#141414" stroke-width="1.05"/>
<line x1="160.5" y1="253.9" x2="160.5" y2="255.2" stroke="#141414" stroke-width="0.7"/>
<line x1="165.5" y1="253.9" x2="165.5" y2="255.2" stroke="#141414" stroke-width="0.7"/>
<line x1="162.5" y1="257.0" x2="162.5" y2="275.0" stroke="#141414" stroke-width="0.95"/>
<ellipse cx="164.5" cy="264.0" rx="0.6" ry="0.6" transform="rotate(0.0 164.5 264.0)" fill="#141414" stroke="#141414" stroke-width="0.95"/>
<text transform="translate(159.0,286.0) scale(0.9,1)" font-size="10">6</text>
<ellipse cx="171.5" cy="258.5" rx="2.6" ry="2.6" transform="rotate(0.0 171.5 258.5)" fill="#fff" stroke="#141414" stroke-width="0.95"/>
<polygon points="171.2,263.3 171.6,263.5 172.0,263.7 172.4,264.0 172.7,264.5 172.8,265.1 172.9,265.9 173.0,266.7 173.1,267.5 173.3,268.0 173.6,268.4 174.0,268.7 174.3,269.1 174.5,269.7 174.6,270.4 174.8,271.0 175.1,271.4 175.6,271.5 176.1,271.4 176.7,271.3 177.1,271.5 177.4,271.9 177.6,272.5 177.7,273.2 178.0,273.7 178.4,273.8 178.9,273.8 179.5,273.8 179.9,274.0 180.1,274.4 180.3,275.1 180.4,275.8 180.7,276.3 181.1,276.4 181.7,276.3 182.3,276.2 182.7,276.3 183.0,276.7 183.2,277.4 183.4,278.0 183.7,278.3 184.2,278.4 184.8,278.2 185.4,278.0 185.9,278.1 186.2,278.5 186.4,279.1 186.5,279.7 186.9,280.1 187.3,280.1 187.9,280.0 188.6,279.8 189.0,279.8 189.3,280.2 189.5,280.8 189.7,281.5 190.0,281.9 190.5,281.9 191.1,281.7 191.7,281.6 192.2,281.6 192.5,282.0 192.7,282.6 192.8,283.3 193.1,283.6 193.6,283.7 194.2,283.5 194.8,283.4 195.3,283.4 195.6,283.8 195.8,284.4 196.0,285.1 196.3,285.5 196.8,285.5 197.4,285.3 198.0,285.2 198.5,285.2 198.8,285.6 198.9,286.3 199.1,286.9 199.4,287.3 199.9,287.4 200.5,287.2 201.1,287.0 201.6,287.0 201.9,287.4 202.1,288.1 202.2,288.7 202.5,289.1 203.0,289.2 203.6,289.0 204.2,288.8 204.7,288.9 205.0,289.3 205.2,289.9 205.3,290.5 205.6,290.9 206.1,291.0 206.7,290.8 207.4,290.6 207.8,290.7 208.1,291.1 208.3,291.7 208.5,292.4 208.8,292.8 209.3,292.8 209.9,292.6 210.5,292.4 211.0,292.5 211.3,292.9 211.5,293.5 211.6,294.2 211.9,294.6 212.4,294.6 213.0,294.4 213.6,294.2 214.1,294.2 214.4,294.6 214.6,295.3 214.8,295.9 215.1,296.3 215.6,296.4 216.2,296.1 216.8,295.9 217.3,296.0 217.6,296.4 217.8,297.0 217.9,297.7 218.2,298.0 229.8,276.6 229.3,276.5 228.6,276.7 228.0,277.0 227.5,276.9 227.2,276.5 227.0,275.9 226.9,275.3 226.6,274.9 226.1,274.8 225.4,275.1 224.8,275.3 224.3,275.3 224.0,274.9 223.8,274.2 223.6,273.6 223.3,273.2 222.8,273.2 222.2,273.4 221.6,273.6 221.1,273.6 220.8,273.2 220.6,272.6 220.4,272.0 220.1,271.6 219.6,271.6 219.0,271.8 218.3,272.0 217.8,272.0 217.5,271.6 217.4,271.0 217.2,270.4 216.9,270.0 216.4,270.0 215.7,270.2 215.1,270.4 214.6,270.4 214.3,270.0 214.1,269.4 213.9,268.8 213.6,268.4 213.1,268.4 212.5,268.6 211.9,268.8 211.4,268.8 211.0,268.4 210.9,267.8 210.7,267.2 210.4,266.8 209.9,266.8 209.2,267.0 208.6,267.2 208.1,267.2 207.8,266.8 207.6,266.2 207.4,265.6 207.1,265.2 206.6,265.2 206.0,265.4 205.4,265.6 204.9,265.6 204.5,265.2 204.4,264.6 204.2,264.0 203.9,263.7 203.4,263.6 202.7,263.8 202.1,264.0 201.6,264.0 201.3,263.6 201.1,263.0 200.9,262.4 200.6,262.0 200.1,262.0 199.5,262.2 198.9,262.4 198.4,262.3 198.1,262.0 197.9,261.4 197.7,260.8 197.4,260.4 196.9,260.4 196.3,260.5 195.7,260.7 195.2,260.7 194.9,260.3 194.7,259.7 194.5,259.1 194.2,258.7 193.7,258.7 193.1,258.8 192.5,259.0 192.0,259.0 191.6,258.7 191.4,258.2 191.2,257.6 190.8,257.4 190.3,257.4 189.6,257.7 189.0,257.9 188.4,258.0 188.1,257.7 187.8,257.3 187.5,256.8 187.1,256.6 186.6,256.6 186.0,256.8 185.3,257.0 184.8,257.0 184.5,256.8 184.2,256.3 184.0,255.8 183.6,255.5 183.2,255.4 182.5,255.6 181.9,255.9 181.3,256.0 180.8,256.0 180.3,255.9 179.9,255.8 179.3,256.0 178.6,256.3 177.8,256.7 177.1,257.1 176.5,257.3 176.0,257.3 175.6,257.1 175.2,256.9 174.8,256.7" fill="#fff" stroke="#141414" stroke-width="1.0" stroke-linejoin="round"/>
<path d="M171.3,263.2 A3.7,1.5 118.2 0 1 174.7,256.8" fill="none" stroke="#141414" stroke-width="1.0" stroke-linejoin="round" stroke-linecap="round"/>
<path d="M172.7,264.5 A4.1,1.7 118.2 0 1 176.5,257.3" fill="none" stroke="#141414" stroke-width="0.8" stroke-linejoin="round" stroke-linecap="round"/>
<path d="M173.1,267.4 A6.5,2.7 118.2 0 1 179.2,256.0" fill="none" stroke="#141414" stroke-width="1.0" stroke-linejoin="round" stroke-linecap="round"/>
<path d="M174.3,269.1 A7.4,3.1 118.2 0 1 181.3,256.0" fill="none" stroke="#141414" stroke-width="0.8" stroke-linejoin="round" stroke-linecap="round"/>
<path d="M175.2,271.3 A8.9,3.8 118.2 0 1 183.6,255.5" fill="none" stroke="#141414" stroke-width="1.0" stroke-linejoin="round" stroke-linecap="round"/>
<path d="M177.1,271.5 A8.2,3.4 118.2 0 1 184.8,257.0" fill="none" stroke="#141414" stroke-width="0.8" stroke-linejoin="round" stroke-linecap="round"/>
<path d="M178.0,273.6 A9.6,4.0 118.2 0 1 187.1,256.7" fill="none" stroke="#141414" stroke-width="1.0" stroke-linejoin="round" stroke-linecap="round"/>
<path d="M179.9,274.0 A9.1,3.8 118.2 0 1 188.4,258.0" fill="none" stroke="#141414" stroke-width="0.8" stroke-linejoin="round" stroke-linecap="round"/>
<path d="M180.7,276.2 A10.6,4.5 118.2 0 1 190.8,257.5" fill="none" stroke="#141414" stroke-width="1.0" stroke-linejoin="round" stroke-linecap="round"/>
<path d="M182.7,276.3 A9.8,4.1 118.2 0 1 192.0,259.0" fill="none" stroke="#141414" stroke-width="0.8" stroke-linejoin="round" stroke-linecap="round"/>
<path d="M183.7,278.3 A11.0,4.6 118.2 0 1 194.1,258.8" fill="none" stroke="#141414" stroke-width="1.0" stroke-linejoin="round" stroke-linecap="round"/>
<path d="M185.9,278.1 A9.9,4.1 118.2 0 1 195.2,260.7" fill="none" stroke="#141414" stroke-width="0.8" stroke-linejoin="round" stroke-linecap="round"/>
<path d="M186.9,280.0 A11.1,4.6 118.2 0 1 197.3,260.5" fill="none" stroke="#141414" stroke-width="1.0" stroke-linejoin="round" stroke-linecap="round"/>
<path d="M189.0,279.8 A9.9,4.2 118.2 0 1 198.4,262.3" fill="none" stroke="#141414" stroke-width="0.8" stroke-linejoin="round" stroke-linecap="round"/>
<path d="M190.1,281.8 A11.1,4.7 118.2 0 1 200.6,262.1" fill="none" stroke="#141414" stroke-width="1.0" stroke-linejoin="round" stroke-linecap="round"/>
<path d="M192.2,281.6 A10.0,4.2 118.2 0 1 201.6,264.0" fill="none" stroke="#141414" stroke-width="0.8" stroke-linejoin="round" stroke-linecap="round"/>
<path d="M193.2,283.6 A11.2,4.7 118.2 0 1 203.8,263.7" fill="none" stroke="#141414" stroke-width="1.0" stroke-linejoin="round" stroke-linecap="round"/>
<path d="M195.3,283.4 A10.1,4.2 118.2 0 1 204.9,265.6" fill="none" stroke="#141414" stroke-width="0.8" stroke-linejoin="round" stroke-linecap="round"/>
<path d="M196.3,285.4 A11.4,4.8 118.2 0 1 207.0,265.3" fill="none" stroke="#141414" stroke-width="1.0" stroke-linejoin="round" stroke-linecap="round"/>
<path d="M198.5,285.2 A10.2,4.3 118.2 0 1 208.1,267.2" fill="none" stroke="#141414" stroke-width="0.8" stroke-linejoin="round" stroke-linecap="round"/>
<path d="M199.5,287.2 A11.5,4.8 118.2 0 1 210.3,266.9" fill="none" stroke="#141414" stroke-width="1.0" stroke-linejoin="round" stroke-linecap="round"/>
<path d="M201.6,287.0 A10.4,4.3 118.2 0 1 211.4,268.8" fill="none" stroke="#141414" stroke-width="0.8" stroke-linejoin="round" stroke-linecap="round"/>
<path d="M202.6,289.0 A11.6,4.9 118.2 0 1 213.6,268.5" fill="none" stroke="#141414" stroke-width="1.0" stroke-linejoin="round" stroke-linecap="round"/>
<path d="M204.7,288.9 A10.5,4.4 118.2 0 1 214.6,270.4" fill="none" stroke="#141414" stroke-width="0.8" stroke-linejoin="round" stroke-linecap="round"/>
<path d="M205.7,290.9 A11.8,4.9 118.2 0 1 216.8,270.1" fill="none" stroke="#141414" stroke-width="1.0" stroke-linejoin="round" stroke-linecap="round"/>
<path d="M207.8,290.7 A10.6,4.4 118.2 0 1 217.8,272.0" fill="none" stroke="#141414" stroke-width="0.8" stroke-linejoin="round" stroke-linecap="round"/>
<path d="M208.8,292.7 A11.9,5.0 118.2 0 1 220.0,271.7" fill="none" stroke="#141414" stroke-width="1.0" stroke-linejoin="round" stroke-linecap="round"/>
<path d="M211.0,292.5 A10.7,4.5 118.2 0 1 221.1,273.6" fill="none" stroke="#141414" stroke-width="0.8" stroke-linejoin="round" stroke-linecap="round"/>
<path d="M212.0,294.5 A12.0,5.0 118.2 0 1 223.3,273.3" fill="none" stroke="#141414" stroke-width="1.0" stroke-linejoin="round" stroke-linecap="round"/>
<path d="M214.1,294.2 A10.8,4.5 118.2 0 1 224.3,275.3" fill="none" stroke="#141414" stroke-width="0.8" stroke-linejoin="round" stroke-linecap="round"/>
<path d="M215.1,296.2 A12.1,5.1 118.2 0 1 226.5,275.0" fill="none" stroke="#141414" stroke-width="1.0" stroke-linejoin="round" stroke-linecap="round"/>
<path d="M217.3,296.0 A10.8,4.5 118.2 0 1 227.5,276.9" fill="none" stroke="#141414" stroke-width="0.8" stroke-linejoin="round" stroke-linecap="round"/>
<path d="M218.3,297.9 A12.1,5.1 118.2 0 1 229.7,276.7" fill="none" stroke="#141414" stroke-width="1.0" stroke-linejoin="round" stroke-linecap="round"/>
<polyline points="174.9,257.6 175.3,257.8 175.8,257.9 176.3,257.9 176.9,257.9 177.5,257.8 178.2,257.7 178.8,257.6 179.5,257.5 180.2,257.4 180.8,257.3 181.4,257.2 182.0,257.2 182.6,257.2 183.1,257.2 183.5,257.4 184.0,257.6 184.4,257.8 184.8,258.0 185.2,258.1 185.7,258.3 186.1,258.5 186.6,258.6 187.0,258.7 187.5,258.9 187.9,259.0 188.4,259.1 188.9,259.2 189.3,259.4 189.8,259.5 190.3,259.6 190.7,259.8 191.2,259.9 191.6,260.0 192.1,260.2 192.5,260.4 193.0,260.5 193.4,260.7 193.8,260.9 194.2,261.1 194.6,261.3 195.0,261.6 195.4,261.8 195.8,262.0 196.2,262.2 196.6,262.4 197.0,262.6 197.4,262.8 197.8,263.0 198.2,263.2 198.6,263.4 199.0,263.7 199.4,263.9 199.8,264.1 200.2,264.3 200.6,264.5 201.0,264.7 201.4,264.9 201.8,265.1 202.2,265.3 202.6,265.5 203.0,265.7 203.4,265.9 203.9,266.1 204.3,266.3 204.7,266.5 205.1,266.7 205.5,266.9 205.9,267.1 206.3,267.3 206.7,267.6 207.1,267.8 207.5,268.0 207.9,268.2 208.3,268.4 208.7,268.6 209.1,268.8 209.5,269.0 209.9,269.2 210.4,269.4 210.8,269.6 211.2,269.8 211.6,270.0 212.0,270.2 212.4,270.4 212.8,270.6 213.2,270.8 213.6,271.0 214.0,271.2 214.4,271.4 214.8,271.6 215.2,271.8 215.7,272.0 216.1,272.2 216.5,272.4 216.9,272.6 217.3,272.8 217.7,273.0 218.1,273.2 218.5,273.4 218.9,273.6 219.3,273.8 219.7,274.0 220.1,274.2 220.5,274.4 220.9,274.6 221.3,274.8 221.7,275.0 222.2,275.3 222.6,275.5 223.0,275.7 223.4,275.9 223.8,276.1 224.2,276.3 224.6,276.5 225.0,276.7 225.4,276.9 225.8,277.1 226.2,277.3 226.6,277.5 227.0,277.7 227.4,278.0 227.8,278.2 228.2,278.4 228.6,278.6 229.0,278.8 229.4,279.0 229.8,279.2 230.2,279.4" fill="none" stroke="#141414" stroke-width="0.65" stroke-linejoin="round" stroke-dasharray="1.2 1.2"/>
<polyline points="174.8,258.1 175.2,258.3 175.7,258.4 176.3,258.5 176.8,258.5 177.5,258.5 178.1,258.5 178.7,258.5 179.4,258.4 180.0,258.4 180.7,258.4 181.3,258.3 181.9,258.4 182.4,258.4 182.9,258.5 183.4,258.7 183.8,258.9 184.2,259.1 184.6,259.3 185.0,259.5 185.5,259.6 185.9,259.8 186.4,260.0 186.8,260.1 187.3,260.3 187.8,260.4 188.2,260.5 188.7,260.7 189.2,260.8 189.6,261.0 190.1,261.1 190.5,261.3 191.0,261.4 191.4,261.6 191.9,261.8 192.3,261.9 192.8,262.1 193.2,262.3 193.6,262.5 194.0,262.7 194.4,262.9 194.8,263.2 195.2,263.4 195.6,263.6 196.0,263.8 196.4,264.0 196.8,264.2 197.2,264.4 197.6,264.6 198.0,264.8 198.4,265.0 198.8,265.3 199.2,265.5 199.6,265.7 200.0,265.9 200.4,266.1 200.8,266.3 201.2,266.5 201.6,266.7 202.0,266.9 202.4,267.1 202.8,267.3 203.2,267.5 203.6,267.7 204.0,268.0 204.5,268.2 204.9,268.4 205.3,268.6 205.7,268.8 206.1,269.0 206.5,269.2 206.9,269.4 207.3,269.6 207.7,269.8 208.1,270.0 208.5,270.2 208.9,270.4 209.3,270.6 209.7,270.8 210.1,271.0 210.6,271.2 211.0,271.4 211.4,271.6 211.8,271.8 212.2,272.0 212.6,272.3 213.0,272.5 213.4,272.7 213.8,272.9 214.2,273.1 214.6,273.3 215.0,273.5 215.4,273.7 215.8,273.9 216.2,274.1 216.7,274.3 217.1,274.5 217.5,274.7 217.9,274.9 218.3,275.1 218.7,275.3 219.1,275.5 219.5,275.7 219.9,275.9 220.3,276.2 220.7,276.4 221.1,276.6 221.5,276.8 221.9,277.0 222.3,277.2 222.7,277.4 223.1,277.6 223.5,277.8 223.9,278.0 224.4,278.2 224.8,278.4 225.2,278.6 225.6,278.9 226.0,279.1 226.4,279.3 226.8,279.5 227.2,279.7 227.6,279.9 228.0,280.1 228.4,280.3 228.8,280.5 229.2,280.7 229.6,281.0 230.0,281.2" fill="none" stroke="#141414" stroke-width="0.65" stroke-linejoin="round" stroke-dasharray="1.2 1.2"/>
<polyline points="174.7,258.6 175.1,258.8 175.6,259.0 176.1,259.1 176.7,259.2 177.3,259.2 177.9,259.3 178.5,259.3 179.2,259.3 179.8,259.3 180.4,259.4 181.0,259.4 181.6,259.5 182.1,259.6 182.6,259.7 183.1,259.9 183.5,260.1 183.9,260.3 184.3,260.5 184.7,260.7 185.2,260.9 185.6,261.0 186.1,261.2 186.5,261.4 187.0,261.6 187.4,261.7 187.9,261.9 188.3,262.0 188.8,262.2 189.3,262.4 189.7,262.5 190.2,262.7 190.6,262.9 191.1,263.1 191.5,263.2 192.0,263.4 192.4,263.6 192.8,263.8 193.2,264.0 193.6,264.2 194.0,264.4 194.4,264.6 194.8,264.9 195.2,265.1 195.6,265.3 196.0,265.5 196.4,265.7 196.8,265.9 197.2,266.1 197.6,266.3 198.0,266.6 198.4,266.8 198.8,267.0 199.2,267.2 199.6,267.4 200.0,267.6 200.4,267.8 200.8,268.0 201.2,268.2 201.6,268.4 202.0,268.6 202.4,268.9 202.9,269.1 203.3,269.3 203.7,269.5 204.1,269.7 204.5,269.9 204.9,270.1 205.3,270.3 205.7,270.5 206.1,270.7 206.5,270.9 206.9,271.1 207.3,271.3 207.7,271.6 208.1,271.8 208.5,272.0 208.9,272.2 209.3,272.4 209.7,272.6 210.2,272.8 210.6,273.0 211.0,273.2 211.4,273.4 211.8,273.6 212.2,273.8 212.6,274.0 213.0,274.2 213.4,274.4 213.8,274.7 214.2,274.9 214.6,275.1 215.0,275.3 215.4,275.5 215.8,275.7 216.3,275.9 216.7,276.1 217.1,276.3 217.5,276.5 217.9,276.7 218.3,276.9 218.7,277.1 219.1,277.3 219.5,277.6 219.9,277.8 220.3,278.0 220.7,278.2 221.1,278.4 221.5,278.6 221.9,278.8 222.3,279.0 222.7,279.2 223.1,279.4 223.5,279.6 223.9,279.9 224.3,280.1 224.7,280.3 225.1,280.5 225.5,280.7 225.9,280.9 226.3,281.1 226.8,281.3 227.2,281.5 227.6,281.8 228.0,282.0 228.4,282.2 228.7,282.4 229.1,282.6 229.5,282.8" fill="none" stroke="#141414" stroke-width="0.65" stroke-linejoin="round" stroke-dasharray="1.2 1.2"/>
<polyline points="174.5,259.1 175.0,259.3 175.4,259.5 175.9,259.6 176.5,259.8 177.1,259.9 177.7,260.0 178.3,260.1 178.9,260.2 179.5,260.2 180.1,260.3 180.7,260.4 181.2,260.6 181.8,260.7 182.2,260.9 182.7,261.1 183.1,261.3 183.5,261.5 183.9,261.7 184.3,261.9 184.8,262.1 185.2,262.3 185.7,262.4 186.1,262.6 186.5,262.8 187.0,263.0 187.5,263.2 187.9,263.4 188.4,263.5 188.8,263.7 189.3,263.9 189.7,264.1 190.2,264.3 190.6,264.5 191.0,264.6 191.5,264.8 191.9,265.0 192.3,265.2 192.7,265.5 193.1,265.7 193.5,265.9 193.9,266.1 194.3,266.3 194.7,266.5 195.1,266.7 195.5,266.9 195.9,267.2 196.3,267.4 196.7,267.6 197.1,267.8 197.5,268.0 197.9,268.2 198.3,268.4 198.7,268.6 199.1,268.8 199.5,269.1 199.9,269.3 200.3,269.5 200.7,269.7 201.1,269.9 201.6,270.1 202.0,270.3 202.4,270.5 202.8,270.7 203.2,270.9 203.6,271.2 204.0,271.4 204.4,271.6 204.8,271.8 205.2,272.0 205.6,272.2 206.0,272.4 206.4,272.6 206.8,272.8 207.2,273.0 207.6,273.3 208.0,273.5 208.4,273.7 208.8,273.9 209.2,274.1 209.7,274.3 210.1,274.5 210.5,274.7 210.9,274.9 211.3,275.1 211.7,275.3 212.1,275.6 212.5,275.8 212.9,276.0 213.3,276.2 213.7,276.4 214.1,276.6 214.5,276.8 214.9,277.0 215.3,277.2 215.7,277.4 216.1,277.6 216.5,277.9 217.0,278.1 217.4,278.3 217.8,278.5 218.2,278.7 218.6,278.9 219.0,279.1 219.4,279.3 219.8,279.5 220.2,279.7 220.6,280.0 221.0,280.2 221.4,280.4 221.8,280.6 222.2,280.8 222.6,281.0 223.0,281.2 223.4,281.4 223.8,281.6 224.2,281.8 224.6,282.1 225.0,282.3 225.4,282.5 225.8,282.7 226.2,282.9 226.6,283.1 227.0,283.3 227.4,283.5 227.8,283.8 228.2,284.0 228.6,284.2 229.0,284.4" fill="none" stroke="#141414" stroke-width="0.65" stroke-linejoin="round" stroke-dasharray="1.2 1.2"/>
<polyline points="174.3,259.6 174.8,259.8 175.2,260.0 175.7,260.2 176.3,260.3 176.8,260.5 177.4,260.7 178.0,260.8 178.5,261.0 179.1,261.1 179.7,261.3 180.3,261.5 180.8,261.6 181.3,261.8 181.8,262.0 182.2,262.2 182.6,262.4 183.0,262.6 183.5,262.8 183.9,263.0 184.3,263.2 184.7,263.4 185.2,263.6 185.6,263.8 186.1,264.0 186.5,264.2 187.0,264.4 187.4,264.6 187.9,264.8 188.3,265.0 188.7,265.2 189.2,265.4 189.6,265.6 190.1,265.8 190.5,266.0 190.9,266.2 191.3,266.4 191.8,266.6 192.2,266.9 192.6,267.1 193.0,267.3 193.4,267.5 193.8,267.7 194.2,267.9 194.6,268.1 195.0,268.3 195.4,268.6 195.8,268.8 196.2,269.0 196.6,269.2 197.0,269.4 197.4,269.6 197.8,269.8 198.2,270.0 198.6,270.3 199.0,270.5 199.4,270.7 199.8,270.9 200.2,271.1 200.6,271.3 201.0,271.5 201.4,271.7 201.8,272.0 202.2,272.2 202.6,272.4 203.0,272.6 203.4,272.8 203.8,273.0 204.2,273.2 204.6,273.4 205.0,273.6 205.4,273.9 205.8,274.1 206.2,274.3 206.6,274.5 207.0,274.7 207.5,274.9 207.9,275.1 208.3,275.3 208.7,275.5 209.1,275.8 209.5,276.0 209.9,276.2 210.3,276.4 210.7,276.6 211.1,276.8 211.5,277.0 211.9,277.2 212.3,277.5 212.7,277.7 213.1,277.9 213.5,278.1 213.9,278.3 214.3,278.5 214.7,278.7 215.1,278.9 215.5,279.1 215.9,279.4 216.4,279.6 216.8,279.8 217.2,280.0 217.6,280.2 218.0,280.4 218.4,280.6 218.8,280.8 219.2,281.0 219.6,281.3 220.0,281.5 220.4,281.7 220.8,281.9 221.2,282.1 221.6,282.3 222.0,282.5 222.4,282.7 222.8,283.0 223.2,283.2 223.6,283.4 224.0,283.6 224.4,283.8 224.8,284.0 225.2,284.2 225.6,284.4 226.0,284.7 226.4,284.9 226.8,285.1 227.2,285.3 227.6,285.5 228.0,285.7 228.4,285.9" fill="none" stroke="#141414" stroke-width="0.65" stroke-linejoin="round" stroke-dasharray="1.2 1.2"/>
<polyline points="174.1,260.0 174.6,260.3 175.0,260.5 175.5,260.7 176.0,260.9 176.5,261.1 177.1,261.3 177.6,261.6 178.2,261.8 178.7,262.0 179.3,262.2 179.8,262.4 180.3,262.6 180.8,262.9 181.3,263.1 181.7,263.3 182.1,263.5 182.5,263.7 182.9,263.9 183.4,264.2 183.8,264.4 184.2,264.6 184.6,264.8 185.1,265.0 185.5,265.2 186.0,265.4 186.4,265.7 186.8,265.9 187.3,266.1 187.7,266.3 188.2,266.5 188.6,266.7 189.0,266.9 189.5,267.2 189.9,267.4 190.3,267.6 190.7,267.8 191.1,268.0 191.5,268.2 191.9,268.4 192.3,268.7 192.7,268.9 193.1,269.1 193.5,269.3 193.9,269.5 194.3,269.7 194.7,269.9 195.1,270.1 195.5,270.4 195.9,270.6 196.3,270.8 196.7,271.0 197.1,271.2 197.5,271.4 197.9,271.6 198.3,271.9 198.7,272.1 199.1,272.3 199.6,272.5 200.0,272.7 200.4,272.9 200.8,273.1 201.2,273.3 201.6,273.6 202.0,273.8 202.4,274.0 202.8,274.2 203.2,274.4 203.6,274.6 204.0,274.8 204.4,275.1 204.8,275.3 205.2,275.5 205.6,275.7 206.0,275.9 206.4,276.1 206.8,276.3 207.2,276.5 207.6,276.8 208.0,277.0 208.4,277.2 208.8,277.4 209.2,277.6 209.6,277.8 210.0,278.0 210.4,278.3 210.8,278.5 211.2,278.7 211.7,278.9 212.1,279.1 212.5,279.3 212.9,279.5 213.3,279.7 213.7,280.0 214.1,280.2 214.5,280.4 214.9,280.6 215.3,280.8 215.7,281.0 216.1,281.2 216.5,281.5 216.9,281.7 217.3,281.9 217.7,282.1 218.1,282.3 218.5,282.5 218.9,282.7 219.3,283.0 219.7,283.2 220.1,283.4 220.5,283.6 220.9,283.8 221.3,284.0 221.7,284.2 222.1,284.4 222.5,284.7 222.9,284.9 223.3,285.1 223.7,285.3 224.1,285.5 224.5,285.7 224.9,285.9 225.3,286.2 225.7,286.4 226.1,286.6 226.5,286.8 226.9,287.0 227.3,287.2 227.7,287.4" fill="none" stroke="#141414" stroke-width="0.65" stroke-linejoin="round" stroke-dasharray="1.2 1.2"/>
<polyline points="173.9,260.5 174.3,260.7 174.8,260.9 175.2,261.2 175.7,261.5 176.2,261.7 176.7,262.0 177.3,262.3 177.8,262.6 178.3,262.8 178.8,263.1 179.3,263.4 179.8,263.7 180.3,263.9 180.8,264.1 181.2,264.4 181.6,264.6 182.0,264.8 182.4,265.0 182.8,265.3 183.2,265.5 183.6,265.7 184.1,265.9 184.5,266.2 184.9,266.4 185.4,266.6 185.8,266.8 186.2,267.1 186.7,267.3 187.1,267.5 187.5,267.8 187.9,268.0 188.4,268.2 188.8,268.5 189.2,268.7 189.6,268.9 190.0,269.1 190.5,269.3 190.9,269.6 191.3,269.8 191.7,270.0 192.1,270.2 192.5,270.4 192.9,270.6 193.3,270.8 193.7,271.1 194.1,271.3 194.5,271.5 194.9,271.7 195.3,271.9 195.7,272.1 196.1,272.3 196.5,272.6 196.9,272.8 197.3,273.0 197.7,273.2 198.1,273.4 198.5,273.6 198.9,273.8 199.3,274.1 199.7,274.3 200.1,274.5 200.5,274.7 200.9,274.9 201.3,275.1 201.7,275.3 202.1,275.6 202.5,275.8 202.9,276.0 203.3,276.2 203.7,276.4 204.1,276.6 204.5,276.9 204.9,277.1 205.3,277.3 205.7,277.5 206.1,277.7 206.5,277.9 206.9,278.2 207.3,278.4 207.7,278.6 208.1,278.8 208.5,279.0 208.9,279.2 209.3,279.4 209.7,279.7 210.1,279.9 210.5,280.1 210.9,280.3 211.3,280.5 211.7,280.7 212.1,281.0 212.5,281.2 212.9,281.4 213.4,281.6 213.8,281.8 214.2,282.0 214.6,282.2 215.0,282.5 215.4,282.7 215.8,282.9 216.2,283.1 216.6,283.3 217.0,283.5 217.4,283.8 217.8,284.0 218.2,284.2 218.6,284.4 219.0,284.6 219.4,284.8 219.8,285.0 220.2,285.3 220.6,285.5 221.0,285.7 221.4,285.9 221.8,286.1 222.2,286.3 222.6,286.5 223.0,286.8 223.4,287.0 223.8,287.2 224.2,287.4 224.6,287.6 225.0,287.8 225.4,288.0 225.8,288.3 226.2,288.5 226.6,288.7 227.0,288.9" fill="none" stroke="#141414" stroke-width="0.65" stroke-linejoin="round" stroke-dasharray="1.2 1.2"/>
<polyline points="173.7,260.9 174.1,261.2 174.5,261.4 175.0,261.7 175.4,262.0 175.9,262.3 176.4,262.6 176.9,263.0 177.4,263.3 177.8,263.7 178.3,264.0 178.8,264.3 179.3,264.6 179.7,264.9 180.2,265.2 180.6,265.4 181.0,265.7 181.4,265.9 181.8,266.1 182.2,266.3 182.6,266.6 183.0,266.8 183.4,267.0 183.9,267.3 184.3,267.5 184.7,267.8 185.1,268.0 185.6,268.3 186.0,268.5 186.4,268.8 186.8,269.0 187.2,269.2 187.7,269.5 188.1,269.7 188.5,270.0 188.9,270.2 189.3,270.4 189.7,270.7 190.1,270.9 190.5,271.1 190.9,271.3 191.3,271.5 191.7,271.7 192.1,271.9 192.5,272.2 192.9,272.4 193.3,272.6 193.7,272.8 194.1,273.0 194.5,273.2 194.9,273.4 195.3,273.7 195.7,273.9 196.1,274.1 196.5,274.3 196.9,274.5 197.3,274.7 197.7,275.0 198.1,275.2 198.5,275.4 198.9,275.6 199.3,275.8 199.7,276.0 200.1,276.2 200.5,276.5 200.9,276.7 201.3,276.9 201.7,277.1 202.1,277.3 202.5,277.6 202.9,277.8 203.3,278.0 203.7,278.2 204.1,278.4 204.5,278.6 204.9,278.9 205.3,279.1 205.7,279.3 206.1,279.5 206.5,279.7 206.9,279.9 207.3,280.2 207.7,280.4 208.2,280.6 208.6,280.8 209.0,281.0 209.4,281.3 209.8,281.5 210.2,281.7 210.6,281.9 211.0,282.1 211.4,282.3 211.8,282.6 212.2,282.8 212.6,283.0 213.0,283.2 213.4,283.4 213.8,283.6 214.2,283.9 214.6,284.1 215.0,284.3 215.4,284.5 215.8,284.7 216.2,284.9 216.6,285.2 217.0,285.4 217.4,285.6 217.8,285.8 218.2,286.0 218.6,286.2 219.0,286.5 219.4,286.7 219.8,286.9 220.2,287.1 220.6,287.3 221.0,287.5 221.4,287.8 221.8,288.0 222.2,288.2 222.6,288.4 223.0,288.6 223.4,288.8 223.8,289.0 224.2,289.3 224.6,289.5 225.0,289.7 225.4,289.9 225.8,290.1 226.2,290.3" fill="none" stroke="#141414" stroke-width="0.65" stroke-linejoin="round" stroke-dasharray="1.2 1.2"/>
<polyline points="173.4,261.3 173.8,261.6 174.2,261.9 174.6,262.2 175.1,262.5 175.5,262.9 176.0,263.3 176.4,263.7 176.9,264.1 177.3,264.5 177.8,264.9 178.2,265.2 178.7,265.6 179.1,265.9 179.5,266.2 179.9,266.5 180.3,266.7 180.7,266.9 181.1,267.1 181.6,267.4 182.0,267.6 182.4,267.9 182.8,268.1 183.2,268.4 183.6,268.6 184.0,268.9 184.4,269.2 184.8,269.4 185.3,269.7 185.7,269.9 186.1,270.2 186.5,270.5 186.9,270.7 187.3,271.0 187.7,271.2 188.1,271.5 188.5,271.7 188.9,271.9 189.3,272.1 189.7,272.4 190.1,272.6 190.5,272.8 190.9,273.0 191.3,273.2 191.7,273.4 192.1,273.6 192.5,273.9 192.9,274.1 193.3,274.3 193.7,274.5 194.1,274.7 194.5,274.9 194.9,275.2 195.3,275.4 195.7,275.6 196.1,275.8 196.5,276.0 196.9,276.2 197.3,276.5 197.7,276.7 198.1,276.9 198.5,277.1 198.9,277.3 199.3,277.5 199.7,277.8 200.1,278.0 200.5,278.2 200.9,278.4 201.3,278.6 201.7,278.9 202.1,279.1 202.5,279.3 202.9,279.5 203.3,279.7 203.7,280.0 204.1,280.2 204.5,280.4 204.9,280.6 205.3,280.8 205.7,281.1 206.1,281.3 206.5,281.5 206.9,281.7 207.3,281.9 207.7,282.2 208.1,282.4 208.5,282.6 208.9,282.8 209.3,283.0 209.7,283.3 210.1,283.5 210.5,283.7 210.9,283.9 211.3,284.1 211.7,284.4 212.1,284.6 212.5,284.8 212.9,285.0 213.3,285.2 213.7,285.4 214.1,285.7 214.5,285.9 214.9,286.1 215.3,286.3 215.7,286.5 216.1,286.8 216.5,287.0 216.9,287.2 217.3,287.4 217.7,287.6 218.1,287.8 218.5,288.1 218.9,288.3 219.3,288.5 219.7,288.7 220.1,288.9 220.5,289.1 220.9,289.4 221.3,289.6 221.7,289.8 222.1,290.0 222.5,290.2 222.9,290.4 223.3,290.7 223.7,290.9 224.1,291.1 224.5,291.3 224.9,291.5 225.3,291.7" fill="none" stroke="#141414" stroke-width="0.65" stroke-linejoin="round" stroke-dasharray="1.2 1.2"/>
<polyline points="173.1,261.8 173.5,262.0 173.9,262.3 174.3,262.7 174.7,263.0 175.1,263.5 175.6,263.9 176.0,264.3 176.4,264.8 176.8,265.3 177.2,265.7 177.6,266.1 178.0,266.5 178.4,266.9 178.8,267.2 179.2,267.5 179.6,267.7 180.0,267.9 180.4,268.2 180.8,268.4 181.2,268.6 181.6,268.9 182.0,269.2 182.5,269.4 182.9,269.7 183.3,270.0 183.7,270.3 184.1,270.5 184.5,270.8 184.9,271.1 185.3,271.4 185.7,271.7 186.1,271.9 186.5,272.2 186.9,272.4 187.3,272.7 187.7,272.9 188.1,273.2 188.5,273.4 188.9,273.6 189.3,273.8 189.7,274.0 190.1,274.2 190.5,274.5 190.9,274.7 191.3,274.9 191.7,275.1 192.1,275.3 192.5,275.5 192.9,275.8 193.3,276.0 193.7,276.2 194.1,276.4 194.5,276.6 194.9,276.8 195.3,277.1 195.7,277.3 196.0,277.5 196.4,277.7 196.8,277.9 197.2,278.2 197.6,278.4 198.0,278.6 198.4,278.8 198.8,279.0 199.2,279.3 199.6,279.5 200.0,279.7 200.4,279.9 200.8,280.1 201.2,280.4 201.6,280.6 202.0,280.8 202.4,281.0 202.8,281.2 203.2,281.5 203.6,281.7 204.0,281.9 204.4,282.1 204.8,282.3 205.2,282.6 205.6,282.8 206.0,283.0 206.4,283.2 206.8,283.5 207.2,283.7 207.6,283.9 208.0,284.1 208.4,284.3 208.8,284.6 209.2,284.8 209.6,285.0 210.0,285.2 210.4,285.5 210.8,285.7 211.2,285.9 211.6,286.1 212.0,286.3 212.4,286.6 212.8,286.8 213.2,287.0 213.6,287.2 214.0,287.4 214.4,287.7 214.8,287.9 215.2,288.1 215.6,288.3 216.0,288.5 216.4,288.8 216.8,289.0 217.2,289.2 217.6,289.4 218.0,289.6 218.4,289.9 218.8,290.1 219.2,290.3 219.6,290.5 220.0,290.7 220.4,290.9 220.8,291.2 221.2,291.4 221.6,291.6 222.0,291.8 222.4,292.0 222.8,292.2 223.2,292.4 223.6,292.7 224.0,292.9 224.4,293.1" fill="none" stroke="#141414" stroke-width="0.65" stroke-linejoin="round" stroke-dasharray="1.2 1.2"/>
<polyline points="172.8,262.2 173.2,262.4 173.6,262.7 174.0,263.1 174.3,263.5 174.7,264.0 175.1,264.5 175.5,265.0 175.8,265.5 176.2,266.0 176.6,266.5 177.0,267.0 177.3,267.4 177.7,267.8 178.1,268.2 178.5,268.4 178.9,268.7 179.3,268.9 179.7,269.1 180.1,269.4 180.5,269.6 180.9,269.9 181.3,270.2 181.7,270.5 182.0,270.8 182.4,271.0 182.8,271.3 183.2,271.6 183.6,271.9 184.0,272.2 184.4,272.5 184.8,272.8 185.2,273.1 185.6,273.4 186.0,273.6 186.4,273.9 186.7,274.1 187.1,274.4 187.5,274.6 187.9,274.8 188.3,275.0 188.7,275.2 189.1,275.4 189.5,275.7 189.9,275.9 190.3,276.1 190.7,276.3 191.1,276.5 191.5,276.7 191.9,277.0 192.3,277.2 192.7,277.4 193.1,277.6 193.5,277.8 193.9,278.1 194.3,278.3 194.7,278.5 195.1,278.7 195.5,278.9 195.9,279.2 196.3,279.4 196.7,279.6 197.1,279.8 197.5,280.0 197.9,280.3 198.3,280.5 198.7,280.7 199.1,280.9 199.5,281.1 199.9,281.4 200.3,281.6 200.7,281.8 201.1,282.0 201.5,282.3 201.9,282.5 202.3,282.7 202.7,282.9 203.1,283.2 203.5,283.4 203.9,283.6 204.3,283.8 204.6,284.0 205.0,284.3 205.4,284.5 205.8,284.7 206.2,284.9 206.6,285.2 207.0,285.4 207.4,285.6 207.8,285.8 208.2,286.1 208.6,286.3 209.0,286.5 209.4,286.7 209.8,287.0 210.2,287.2 210.6,287.4 211.0,287.6 211.4,287.8 211.8,288.1 212.2,288.3 212.6,288.5 213.0,288.7 213.4,289.0 213.8,289.2 214.2,289.4 214.6,289.6 215.0,289.8 215.4,290.1 215.8,290.3 216.2,290.5 216.6,290.7 217.0,290.9 217.4,291.2 217.8,291.4 218.2,291.6 218.6,291.8 219.0,292.0 219.4,292.2 219.8,292.5 220.2,292.7 220.6,292.9 221.0,293.1 221.4,293.3 221.8,293.5 222.1,293.8 222.5,294.0 222.9,294.2 223.3,294.4" fill="none" stroke="#141414" stroke-width="0.65" stroke-linejoin="round" stroke-dasharray="1.2 1.2"/>
<polyline points="172.5,262.5 172.8,262.8 173.2,263.1 173.6,263.5 173.9,264.0 174.3,264.5 174.6,265.1 174.9,265.6 175.2,266.2 175.6,266.7 175.9,267.3 176.2,267.8 176.6,268.3 176.9,268.7 177.3,269.1 177.7,269.4 178.1,269.6 178.4,269.8 178.8,270.1 179.2,270.3 179.6,270.6 180.0,270.9 180.4,271.2 180.8,271.5 181.1,271.8 181.5,272.1 181.9,272.4 182.3,272.7 182.7,273.0 183.0,273.3 183.4,273.6 183.8,273.9 184.2,274.2 184.6,274.5 184.9,274.7 185.3,275.0 185.7,275.3 186.1,275.5 186.5,275.7 186.9,275.9 187.3,276.2 187.7,276.4 188.1,276.6 188.5,276.8 188.9,277.0 189.3,277.2 189.7,277.5 190.1,277.7 190.5,277.9 190.9,278.1 191.3,278.3 191.7,278.5 192.1,278.8 192.5,279.0 192.9,279.2 193.3,279.4 193.7,279.6 194.1,279.9 194.5,280.1 194.9,280.3 195.2,280.5 195.6,280.8 196.0,281.0 196.4,281.2 196.8,281.4 197.2,281.6 197.6,281.9 198.0,282.1 198.4,282.3 198.8,282.5 199.2,282.8 199.6,283.0 200.0,283.2 200.4,283.4 200.8,283.7 201.2,283.9 201.6,284.1 202.0,284.3 202.4,284.6 202.8,284.8 203.2,285.0 203.6,285.2 204.0,285.5 204.4,285.7 204.8,285.9 205.1,286.1 205.5,286.4 205.9,286.6 206.3,286.8 206.7,287.0 207.1,287.3 207.5,287.5 207.9,287.7 208.3,287.9 208.7,288.2 209.1,288.4 209.5,288.6 209.9,288.8 210.3,289.1 210.7,289.3 211.1,289.5 211.5,289.7 211.9,290.0 212.3,290.2 212.7,290.4 213.1,290.6 213.5,290.9 213.9,291.1 214.3,291.3 214.7,291.5 215.1,291.7 215.5,292.0 215.8,292.2 216.2,292.4 216.6,292.6 217.0,292.8 217.4,293.1 217.8,293.3 218.2,293.5 218.6,293.7 219.0,293.9 219.4,294.2 219.8,294.4 220.2,294.6 220.6,294.8 221.0,295.0 221.4,295.2 221.8,295.4 222.2,295.7" fill="none" stroke="#141414" stroke-width="0.65" stroke-linejoin="round" stroke-dasharray="1.2 1.2"/>
<polyline points="172.1,262.9 172.4,263.2 172.8,263.5 173.1,263.9 173.4,264.4 173.7,265.0 174.0,265.6 174.3,266.2 174.5,266.8 174.8,267.4 175.1,268.0 175.3,268.6 175.6,269.1 176.0,269.5 176.3,269.9 176.7,270.2 177.1,270.4 177.5,270.7 177.8,270.9 178.2,271.2 178.6,271.5 179.0,271.8 179.4,272.1 179.7,272.4 180.1,272.7 180.5,273.0 180.8,273.3 181.2,273.6 181.5,274.0 181.9,274.3 182.3,274.6 182.6,274.9 183.0,275.2 183.4,275.5 183.8,275.8 184.1,276.1 184.5,276.3 184.9,276.6 185.3,276.8 185.7,277.0 186.1,277.2 186.5,277.4 186.9,277.6 187.3,277.9 187.7,278.1 188.1,278.3 188.5,278.5 188.9,278.7 189.3,278.9 189.7,279.2 190.1,279.4 190.5,279.6 190.9,279.8 191.3,280.0 191.6,280.3 192.0,280.5 192.4,280.7 192.8,280.9 193.2,281.2 193.6,281.4 194.0,281.6 194.4,281.8 194.8,282.1 195.2,282.3 195.6,282.5 196.0,282.7 196.4,282.9 196.8,283.2 197.2,283.4 197.6,283.6 198.0,283.9 198.4,284.1 198.8,284.3 199.2,284.5 199.5,284.8 199.9,285.0 200.3,285.2 200.7,285.4 201.1,285.7 201.5,285.9 201.9,286.1 202.3,286.3 202.7,286.6 203.1,286.8 203.5,287.0 203.9,287.3 204.3,287.5 204.7,287.7 205.1,287.9 205.5,288.2 205.8,288.4 206.2,288.6 206.6,288.8 207.0,289.1 207.4,289.3 207.8,289.5 208.2,289.7 208.6,290.0 209.0,290.2 209.4,290.4 209.8,290.6 210.2,290.9 210.6,291.1 211.0,291.3 211.4,291.5 211.8,291.8 212.2,292.0 212.6,292.2 212.9,292.4 213.3,292.7 213.7,292.9 214.1,293.1 214.5,293.3 214.9,293.6 215.3,293.8 215.7,294.0 216.1,294.2 216.5,294.4 216.9,294.7 217.3,294.9 217.7,295.1 218.1,295.3 218.5,295.5 218.9,295.7 219.3,296.0 219.7,296.2 220.1,296.4 220.5,296.6 220.9,296.8" fill="none" stroke="#141414" stroke-width="0.65" stroke-linejoin="round" stroke-dasharray="1.2 1.2"/>
<ellipse cx="224.0" cy="287.3" rx="11.5" ry="5.3" transform="rotate(118.2 224.0 287.3)" fill="#fff" stroke="#141414" stroke-width="1.0"/>
<ellipse cx="223.6" cy="287.1" rx="8.6" ry="3.9" transform="rotate(118.2 223.6 287.1)" fill="none" stroke="#141414" stroke-width="1.2"/>
<line x1="224.4" y1="281.4" x2="228.7" y2="283.7" stroke="#141414" stroke-width="0.6"/>
<line x1="223.1" y1="283.8" x2="227.4" y2="286.1" stroke="#141414" stroke-width="0.6"/>
<line x1="221.9" y1="286.2" x2="226.1" y2="288.4" stroke="#141414" stroke-width="0.6"/>
<line x1="220.6" y1="288.5" x2="224.9" y2="290.8" stroke="#141414" stroke-width="0.6"/>
<line x1="219.3" y1="290.9" x2="223.6" y2="293.2" stroke="#141414" stroke-width="0.6"/>
<line x1="197.5" y1="289.0" x2="197.5" y2="299.0" stroke="#141414" stroke-width="0.95"/>
<text transform="translate(194.0,307.0) scale(0.9,1)" font-size="10">5</text>
<ellipse cx="239.0" cy="297.0" rx="8.0" ry="11.5" transform="rotate(15.0 239.0 297.0)" fill="none" stroke="#141414" stroke-width="0.95"/>
<ellipse cx="239.0" cy="297.0" rx="6.8" ry="10.2" transform="rotate(15.0 239.0 297.0)" fill="none" stroke="#141414" stroke-width="0.95"/>
<line x1="234.5" y1="309.0" x2="234.5" y2="320.0" stroke="#141414" stroke-width="0.95"/>
<text transform="translate(232.0,328.0) scale(0.9,1)" font-size="10">8</text>
<polygon points="249.7,308.0 265.7,316.0 268.3,311.0 252.3,303.0" fill="#fff" stroke="none"/>
<line x1="249.7" y1="308.0" x2="265.7" y2="316.0" stroke="#141414" stroke-width="0.95"/>
<line x1="252.3" y1="303.0" x2="268.3" y2="311.0" stroke="#141414" stroke-width="0.95"/>
<path d="M251.3,308.8 A2.8,1.4 116.6 0 1 253.9,303.8" fill="none" stroke="#141414" stroke-width="0.95" stroke-linejoin="round" stroke-linecap="round"/>
<path d="M252.9,309.6 A2.8,1.4 116.6 0 1 255.5,304.6" fill="none" stroke="#141414" stroke-width="0.95" stroke-linejoin="round" stroke-linecap="round"/>
<path d="M254.5,310.4 A2.8,1.4 116.6 0 1 257.1,305.4" fill="none" stroke="#141414" stroke-width="0.95" stroke-linejoin="round" stroke-linecap="round"/>
<path d="M256.1,311.2 A2.8,1.4 116.6 0 1 258.7,306.2" fill="none" stroke="#141414" stroke-width="0.95" stroke-linejoin="round" stroke-linecap="round"/>
<path d="M257.7,312.0 A2.8,1.4 116.6 0 1 260.3,307.0" fill="none" stroke="#141414" stroke-width="0.95" stroke-linejoin="round" stroke-linecap="round"/>
<path d="M259.3,312.8 A2.8,1.4 116.6 0 1 261.9,307.8" fill="none" stroke="#141414" stroke-width="0.95" stroke-linejoin="round" stroke-linecap="round"/>
<path d="M260.9,313.6 A2.8,1.4 116.6 0 1 263.5,308.6" fill="none" stroke="#141414" stroke-width="0.95" stroke-linejoin="round" stroke-linecap="round"/>
<path d="M262.5,314.4 A2.8,1.4 116.6 0 1 265.1,309.4" fill="none" stroke="#141414" stroke-width="0.95" stroke-linejoin="round" stroke-linecap="round"/>
<path d="M264.1,315.2 A2.8,1.4 116.6 0 1 266.7,310.2" fill="none" stroke="#141414" stroke-width="0.95" stroke-linejoin="round" stroke-linecap="round"/>
<line x1="251.0" y1="305.5" x2="267.0" y2="313.5" stroke="#141414" stroke-width="0.95"/>
<ellipse cx="251.0" cy="305.5" rx="2.8" ry="1.4" transform="rotate(117.0 251.0 305.5)" fill="#fff" stroke="#141414" stroke-width="0.95"/>
<polygon points="274.6,320.4 290.6,329.9 293.4,325.1 277.4,315.6" fill="#fff" stroke="none"/>
<line x1="274.6" y1="320.4" x2="290.6" y2="329.9" stroke="#141414" stroke-width="0.95"/>
<line x1="277.4" y1="315.6" x2="293.4" y2="325.1" stroke="#141414" stroke-width="0.95"/>
<polygon points="264.6,315.4 265.3,312.1 267.8,309.7 269.4,310.6 278.4,315.6 277.7,318.9 275.2,321.3 273.6,320.4" fill="#fff" stroke="#141414" stroke-width="0.95" stroke-linejoin="round"/>
<polygon points="275.2,321.3 277.7,318.9 278.4,315.6 276.8,314.7 274.3,317.1 273.6,320.4" fill="#fff" stroke="#141414" stroke-width="0.95" stroke-linejoin="round"/>
<line x1="266.2" y1="316.3" x2="275.2" y2="321.3" stroke="#141414" stroke-width="0.76"/>
<line x1="268.7" y1="313.9" x2="277.7" y2="318.9" stroke="#141414" stroke-width="0.76"/>
<line x1="264.6" y1="315.4" x2="273.6" y2="320.4" stroke="#141414" stroke-width="0.76"/>
<ellipse cx="276.0" cy="318.0" rx="2.1" ry="1.0" transform="rotate(119.1 276.0 318.0)" fill="none" stroke="#141414" stroke-width="0.76"/>
<polygon points="289.4,329.6 298.4,335.1 301.6,329.9 292.6,324.4" fill="#fff" stroke="none"/>
<line x1="289.4" y1="329.6" x2="298.4" y2="335.1" stroke="#141414" stroke-width="0.95"/>
<line x1="292.6" y1="324.4" x2="301.6" y2="329.9" stroke="#141414" stroke-width="0.95"/>
<path d="M290.9,330.6 A3.1,1.6 121.4 0 1 294.1,325.3" fill="none" stroke="#141414" stroke-width="0.95" stroke-linejoin="round" stroke-linecap="round"/>
<path d="M292.4,331.5 A3.1,1.6 121.4 0 1 295.6,326.2" fill="none" stroke="#141414" stroke-width="0.95" stroke-linejoin="round" stroke-linecap="round"/>
<path d="M293.9,332.4 A3.1,1.6 121.4 0 1 297.1,327.1" fill="none" stroke="#141414" stroke-width="0.95" stroke-linejoin="round" stroke-linecap="round"/>
<path d="M295.4,333.3 A3.1,1.6 121.4 0 1 298.6,328.0" fill="none" stroke="#141414" stroke-width="0.95" stroke-linejoin="round" stroke-linecap="round"/>
<path d="M296.9,334.2 A3.1,1.6 121.4 0 1 300.1,328.9" fill="none" stroke="#141414" stroke-width="0.95" stroke-linejoin="round" stroke-linecap="round"/>
<polygon points="297.1,337.6 298.4,332.3 302.3,328.5 308.8,332.2 311.4,333.7 310.1,339.0 306.2,342.8 299.7,339.1" fill="#fff" stroke="#141414" stroke-width="0.95" stroke-linejoin="round"/>
<polygon points="306.2,342.8 310.1,339.0 311.4,333.7 308.8,332.2 304.9,336.0 303.6,341.3" fill="#fff" stroke="#141414" stroke-width="0.95" stroke-linejoin="round"/>
<line x1="299.7" y1="339.1" x2="306.2" y2="342.8" stroke="#141414" stroke-width="0.76"/>
<line x1="303.6" y1="335.3" x2="310.1" y2="339.0" stroke="#141414" stroke-width="0.76"/>
<line x1="297.1" y1="337.6" x2="303.6" y2="341.3" stroke="#141414" stroke-width="0.76"/>
<ellipse cx="307.5" cy="337.5" rx="3.3" ry="1.7" transform="rotate(119.6 307.5 337.5)" fill="none" stroke="#141414" stroke-width="0.76"/>
<polygon points="306.2,340.2 313.7,344.4 316.3,339.6 308.8,335.4" fill="#fff" stroke="none"/>
<line x1="306.2" y1="340.2" x2="313.7" y2="344.4" stroke="#141414" stroke-width="0.95"/>
<line x1="308.8" y1="335.4" x2="316.3" y2="339.6" stroke="#141414" stroke-width="0.95"/>
<path d="M307.7,341.0 A2.7,1.4 119.2 0 1 310.3,336.3" fill="none" stroke="#141414" stroke-width="0.95" stroke-linejoin="round" stroke-linecap="round"/>
<path d="M309.2,341.8 A2.7,1.4 119.2 0 1 311.8,337.1" fill="none" stroke="#141414" stroke-width="0.95" stroke-linejoin="round" stroke-linecap="round"/>
<path d="M310.7,342.7 A2.7,1.4 119.2 0 1 313.3,338.0" fill="none" stroke="#141414" stroke-width="0.95" stroke-linejoin="round" stroke-linecap="round"/>
<path d="M312.2,343.5 A2.7,1.4 119.2 0 1 314.8,338.8" fill="none" stroke="#141414" stroke-width="0.95" stroke-linejoin="round" stroke-linecap="round"/>
<ellipse cx="315.0" cy="342.0" rx="2.7" ry="1.4" transform="rotate(119.2 315.0 342.0)" fill="#fff" stroke="#141414" stroke-width="0.95"/>
<line x1="279.5" y1="328.0" x2="279.5" y2="345.5" stroke="#141414" stroke-width="0.95"/>
<text transform="translate(276.0,356.5) scale(0.9,1)" font-size="10">3</text>
<polygon points="149.3,335 296,421 343,445 330,468 285,441 144,354.3 141,348" fill="#fff" stroke="none"/>
<path d="M149.3,335 C146,335.5 143,338 142,342 C140.8,346 141,350 142,352.3 C142.5,353.5 143.2,354 144,354.3" fill="none" stroke="#141414" stroke-width="0.9" stroke-linejoin="round" stroke-linecap="round"/>
<line x1="149.3" y1="335.0" x2="237.0" y2="385.0" stroke="#141414" stroke-width="0.95"/>
<line x1="144.0" y1="354.3" x2="233.0" y2="405.5" stroke="#141414" stroke-width="0.95"/>
<line x1="151.3" y1="338.4" x2="237.0" y2="387.3" stroke="#141414" stroke-width="0.8"/>
<path d="M159.3,340.3 C154,343 151.5,350 152,358.5" fill="none" stroke="#141414" stroke-width="0.9" stroke-linejoin="round" stroke-linecap="round"/>
<path d="M160.6,341 C155.5,344 153,351 153.4,359.2" fill="none" stroke="#141414" stroke-width="0.7" stroke-linejoin="round" stroke-linecap="round"/>
<polygon points="179.6,353.4 179.6,348.0 173.0,348.0 173.0,353.4" fill="#fff" stroke="none"/>
<line x1="179.5" y1="353.4" x2="179.5" y2="348.0" stroke="#141414" stroke-width="0.95"/>
<line x1="173.5" y1="353.4" x2="173.5" y2="348.0" stroke="#141414" stroke-width="0.95"/>
<ellipse cx="176.3" cy="348.0" rx="3.3" ry="1.5" transform="rotate(0.0 176.3 348.0)" fill="#fff" stroke="#141414" stroke-width="0.95"/>
<path d="M173.0,353.4 A3.3,1.5 0 0 0 179.60000000000002,353.4" fill="none" stroke="#141414" stroke-width="0.9" stroke-linejoin="round" stroke-linecap="round"/>
<polygon points="230.8,383.2 230.8,377.8 224.2,377.8 224.2,383.2" fill="#fff" stroke="none"/>
<line x1="230.5" y1="383.2" x2="230.5" y2="377.8" stroke="#141414" stroke-width="0.95"/>
<line x1="224.5" y1="383.2" x2="224.5" y2="377.8" stroke="#141414" stroke-width="0.95"/>
<ellipse cx="227.5" cy="377.8" rx="3.3" ry="1.5" transform="rotate(0.0 227.5 377.8)" fill="#fff" stroke="#141414" stroke-width="0.95"/>
<path d="M224.2,383.2 A3.3,1.5 0 0 0 230.8,383.2" fill="none" stroke="#141414" stroke-width="0.9" stroke-linejoin="round" stroke-linecap="round"/>
<polygon points="241,389 292,418 287,434 234,406" fill="#fff" stroke="none"/>
<line x1="240.0" y1="389.5" x2="292.0" y2="418.5" stroke="#141414" stroke-width="0.95"/>
<line x1="234.4" y1="406.0" x2="286.0" y2="433.0" stroke="#141414" stroke-width="0.95"/>
<line x1="242.0" y1="393.0" x2="290.0" y2="421.0" stroke="#141414" stroke-width="0.7"/>
<line x1="238.0" y1="399.5" x2="284.0" y2="426.0" stroke="#141414" stroke-width="0.7"/>
<line x1="240.0" y1="396.0" x2="287.0" y2="423.5" stroke="#141414" stroke-width="0.6"/>
<line x1="236.5" y1="403.0" x2="284.0" y2="430.0" stroke="#141414" stroke-width="0.6"/>
<ellipse cx="237.8" cy="399.0" rx="9.5" ry="4.3" transform="rotate(120.0 237.8 399.0)" fill="#fff" stroke="#141414" stroke-width="0.95"/>
<ellipse cx="238.6" cy="398.6" rx="7.2" ry="3.2" transform="rotate(120.0 238.6 398.6)" fill="none" stroke="#141414" stroke-width="0.7"/>
<path d="M254.8,396.3 A9.5,4.3 120 0 1 245.2,412.7" fill="none" stroke="#141414" stroke-width="1.1" stroke-linejoin="round" stroke-linecap="round"/>
<path d="M255.8,396.9 A9.5,4.3 120 0 1 246.2,413.3" fill="none" stroke="#141414" stroke-width="0.6" stroke-linejoin="round" stroke-linecap="round"/>
<path d="M257.8,398.1 A9.5,4.3 120 0 1 248.2,414.5" fill="none" stroke="#141414" stroke-width="1.1" stroke-linejoin="round" stroke-linecap="round"/>
<path d="M258.8,398.7 A9.5,4.3 120 0 1 249.2,415.1" fill="none" stroke="#141414" stroke-width="0.6" stroke-linejoin="round" stroke-linecap="round"/>
<path d="M271.8,406.3 A9.5,4.3 120 0 1 262.2,422.7" fill="none" stroke="#141414" stroke-width="1.1" stroke-linejoin="round" stroke-linecap="round"/>
<path d="M272.8,406.9 A9.5,4.3 120 0 1 263.2,423.3" fill="none" stroke="#141414" stroke-width="0.6" stroke-linejoin="round" stroke-linecap="round"/>
<path d="M274.8,408.1 A9.5,4.3 120 0 1 265.2,424.5" fill="none" stroke="#141414" stroke-width="1.1" stroke-linejoin="round" stroke-linecap="round"/>
<path d="M275.8,408.7 A9.5,4.3 120 0 1 266.2,425.1" fill="none" stroke="#141414" stroke-width="0.6" stroke-linejoin="round" stroke-linecap="round"/>
<ellipse cx="252.0" cy="405.5" rx="2.3" ry="2.3" transform="rotate(0.0 252.0 405.5)" fill="none" stroke="#141414" stroke-width="0.7"/>
<ellipse cx="241.5" cy="397.0" rx="2.2" ry="2.2" transform="rotate(0.0 241.5 397.0)" fill="none" stroke="#141414" stroke-width="0.7"/>
<line x1="230.0" y1="382.0" x2="285.0" y2="412.0" stroke="#141414" stroke-width="0.8"/>
<line x1="232.5" y1="384.5" x2="284.0" y2="414.5" stroke="#141414" stroke-width="0.8"/>
<line x1="246.5" y1="401.0" x2="246.5" y2="410.0" stroke="#141414" stroke-width="0.7"/>
<path d="M289,414 L299.5,408 L301,402 L309,399 L322,392 L336,398 L335,404 L327,416 L323,425 L296,423 Z" fill="#fff" stroke="#141414" stroke-width="0.8" stroke-linejoin="round" stroke-linecap="round"/>
<path d="M321.5,393 L327,390 L336,397 L335.6,402 L331,410 L325.4,415 L319,414 Z" fill="#fff" stroke="#141414" stroke-width="0.95" stroke-linejoin="round" stroke-linecap="round"/>
<path d="M318,398 C324,399 327,404 325.4,414" fill="none" stroke="#141414" stroke-width="0.8" stroke-linejoin="round" stroke-linecap="round"/>
<polygon points="333.1,400.9 342.9,392.0 336.7,385.2 326.9,394.1" fill="#fff" stroke="none"/>
<line x1="333.1" y1="400.9" x2="342.9" y2="392.0" stroke="#141414" stroke-width="0.95"/>
<line x1="326.9" y1="394.1" x2="336.7" y2="385.2" stroke="#141414" stroke-width="0.95"/>
<ellipse cx="339.8" cy="388.6" rx="4.6" ry="2.3" transform="rotate(47.8 339.8 388.6)" fill="#fff" stroke="#141414" stroke-width="0.95"/>
<ellipse cx="339.8" cy="388.6" rx="2.6" ry="1.2" transform="rotate(47.8 339.8 388.6)" fill="none" stroke="#141414" stroke-width="1.0"/>
<ellipse cx="304.3" cy="404.6" rx="4.7" ry="4.7" transform="rotate(0.0 304.3 404.6)" fill="#fff" stroke="#141414" stroke-width="0.95"/>
<ellipse cx="304.9" cy="405.1" rx="3.0" ry="3.0" transform="rotate(0.0 304.9 405.1)" fill="none" stroke="#141414" stroke-width="0.9"/>
<ellipse cx="314.5" cy="405.8" rx="4.7" ry="4.7" transform="rotate(0.0 314.5 405.8)" fill="#fff" stroke="#141414" stroke-width="0.95"/>
<ellipse cx="315.1" cy="406.3" rx="3.0" ry="3.0" transform="rotate(0.0 315.1 406.3)" fill="none" stroke="#141414" stroke-width="0.9"/>
<ellipse cx="320.7" cy="419.8" rx="2.9" ry="2.9" transform="rotate(0.0 320.7 419.8)" fill="#fff" stroke="#141414" stroke-width="0.95"/>
<ellipse cx="320.7" cy="419.8" rx="1.5" ry="1.5" transform="rotate(0.0 320.7 419.8)" fill="none" stroke="#141414" stroke-width="0.8"/>
<ellipse cx="309.0" cy="416.0" rx="2.4" ry="2.4" transform="rotate(0.0 309.0 416.0)" fill="none" stroke="#141414" stroke-width="0.7"/>
<ellipse cx="302.0" cy="414.0" rx="2.0" ry="2.0" transform="rotate(0.0 302.0 414.0)" fill="none" stroke="#141414" stroke-width="0.7"/>
<path d="M296,409 L304,420 L314,426 M300,412 L294,420 M308,421 L312,413 M316,412 L318,422" fill="none" stroke="#141414" stroke-width="0.7" stroke-linejoin="round" stroke-linecap="round"/>
<path d="M291,415 L300,408 M286,418 L297,412" fill="none" stroke="#141414" stroke-width="0.7" stroke-linejoin="round" stroke-linecap="round"/>
<polygon points="296,421 343,445 346,462 326,462 292,442" fill="#fff" stroke="none"/>
<line x1="295.7" y1="422.6" x2="342.7" y2="445.4" stroke="#141414" stroke-width="0.95"/>
<line x1="294.0" y1="429.7" x2="331.7" y2="447.5" stroke="#141414" stroke-width="0.8"/>
<line x1="294.5" y1="431.5" x2="331.0" y2="449.5" stroke="#141414" stroke-width="0.6"/>
<line x1="288.0" y1="440.0" x2="325.4" y2="460.0" stroke="#141414" stroke-width="0.95"/>
<ellipse cx="339.5" cy="456.4" rx="12.5" ry="6.0" transform="rotate(118.0 339.5 456.4)" fill="#fff" stroke="#141414" stroke-width="0.95"/>
<ellipse cx="339.5" cy="456.4" rx="12.5" ry="6.0" transform="rotate(118.0 339.5 456.4)" fill="none" stroke="#141414" stroke-width="1.1"/>
<ellipse cx="340.2" cy="456.2" rx="9.8" ry="4.8" transform="rotate(118.0 340.2 456.2)" fill="none" stroke="#141414" stroke-width="0.9"/>
<line x1="341.6" y1="449.1" x2="345.9" y2="451.4" stroke="#141414" stroke-width="0.5"/>
<line x1="340.3" y1="451.6" x2="344.6" y2="453.9" stroke="#141414" stroke-width="0.5"/>
<line x1="339.0" y1="454.0" x2="343.3" y2="456.3" stroke="#141414" stroke-width="0.5"/>
<line x1="337.8" y1="456.4" x2="342.1" y2="458.7" stroke="#141414" stroke-width="0.5"/>
<line x1="336.5" y1="458.8" x2="340.8" y2="461.1" stroke="#141414" stroke-width="0.5"/>
<line x1="335.2" y1="461.3" x2="339.5" y2="463.6" stroke="#141414" stroke-width="0.5"/>
<path d="M301,445 L310,442 L322,449 L327,458 L327,465 L318,467.3 L305,462 L301,455 Z" fill="#fff" stroke="#141414" stroke-width="0.95" stroke-linejoin="round" stroke-linecap="round"/>
<path d="M301,455 L310,452 L327,461" fill="none" stroke="#141414" stroke-width="0.7" stroke-linejoin="round" stroke-linecap="round"/>
<line x1="310.5" y1="452.0" x2="310.5" y2="442.5" stroke="#141414" stroke-width="0.7"/>
<ellipse cx="315.2" cy="458.0" rx="2.6" ry="1.8" transform="rotate(0.0 315.2 458.0)" fill="none" stroke="#141414" stroke-width="0.8"/>
<ellipse cx="292.5" cy="442.2" rx="3.2" ry="3.2" transform="rotate(0.0 292.5 442.2)" fill="#fff" stroke="#141414" stroke-width="0.8"/>
<ellipse cx="283.5" cy="424.0" rx="7.3" ry="7.3" transform="rotate(0.0 283.5 424.0)" fill="#fff" stroke="#141414" stroke-width="0.95"/>
<ellipse cx="283.5" cy="424.0" rx="5.0" ry="5.0" transform="rotate(0.0 283.5 424.0)" fill="none" stroke="#141414" stroke-width="1.3"/>
<ellipse cx="283.5" cy="424.0" rx="2.3" ry="2.3" transform="rotate(0.0 283.5 424.0)" fill="none" stroke="#141414" stroke-width="0.9"/>
<ellipse cx="283.5" cy="424.0" rx="0.7" ry="0.7" transform="rotate(0.0 283.5 424.0)" fill="#141414" stroke="#141414" stroke-width="0.6"/>
<line x1="266.5" y1="391.0" x2="266.5" y2="402.0" stroke="#141414" stroke-width="0.95"/>
<path d="M263.60,383.40 L265.20,382.00 L265.60,381.10 L265.60,389.00" fill="none" stroke="#1a1a1a" stroke-width="0.95" stroke-linejoin="miter"/>
<polygon points="158.2,430.3 165.2,434.3 167.8,429.7 160.8,425.7" fill="#fff" stroke="none"/>
<line x1="158.2" y1="430.3" x2="165.2" y2="434.3" stroke="#141414" stroke-width="0.95"/>
<line x1="160.8" y1="425.7" x2="167.8" y2="429.7" stroke="#141414" stroke-width="0.95"/>
<path d="M159.6,431.1 A2.6,1.3 119.7 0 1 162.2,426.5" fill="none" stroke="#141414" stroke-width="0.95" stroke-linejoin="round" stroke-linecap="round"/>
<path d="M161.0,431.9 A2.6,1.3 119.7 0 1 163.6,427.3" fill="none" stroke="#141414" stroke-width="0.95" stroke-linejoin="round" stroke-linecap="round"/>
<path d="M162.4,432.7 A2.6,1.3 119.7 0 1 165.0,428.1" fill="none" stroke="#141414" stroke-width="0.95" stroke-linejoin="round" stroke-linecap="round"/>
<path d="M163.8,433.5 A2.6,1.3 119.7 0 1 166.4,428.9" fill="none" stroke="#141414" stroke-width="0.95" stroke-linejoin="round" stroke-linecap="round"/>
<ellipse cx="159.5" cy="428.0" rx="2.6" ry="1.3" transform="rotate(120.0 159.5 428.0)" fill="#fff" stroke="#141414" stroke-width="0.95"/>
<polygon points="172.5,439.6 179.5,443.6 182.5,438.4 175.5,434.4" fill="#fff" stroke="none"/>
<line x1="172.5" y1="439.6" x2="179.5" y2="443.6" stroke="#141414" stroke-width="0.95"/>
<line x1="175.5" y1="434.4" x2="182.5" y2="438.4" stroke="#141414" stroke-width="0.95"/>
<path d="M173.9,440.4 A3.0,1.5 119.7 0 1 176.9,435.2" fill="none" stroke="#141414" stroke-width="0.95" stroke-linejoin="round" stroke-linecap="round"/>
<path d="M175.3,441.2 A3.0,1.5 119.7 0 1 178.3,436.0" fill="none" stroke="#141414" stroke-width="0.95" stroke-linejoin="round" stroke-linecap="round"/>
<path d="M176.7,442.0 A3.0,1.5 119.7 0 1 179.7,436.8" fill="none" stroke="#141414" stroke-width="0.95" stroke-linejoin="round" stroke-linecap="round"/>
<path d="M178.1,442.8 A3.0,1.5 119.7 0 1 181.1,437.6" fill="none" stroke="#141414" stroke-width="0.95" stroke-linejoin="round" stroke-linecap="round"/>
<polygon points="162.9,436.5 164.3,430.9 168.3,427.0 175.3,431.0 178.1,432.5 176.7,438.1 172.7,442.0 165.7,438.0" fill="#fff" stroke="#141414" stroke-width="0.95" stroke-linejoin="round"/>
<polygon points="172.7,442.0 176.7,438.1 178.1,432.5 175.3,431.0 171.3,434.9 169.9,440.5" fill="#fff" stroke="#141414" stroke-width="0.95" stroke-linejoin="round"/>
<line x1="165.7" y1="438.0" x2="172.7" y2="442.0" stroke="#141414" stroke-width="0.76"/>
<line x1="169.7" y1="434.1" x2="176.7" y2="438.1" stroke="#141414" stroke-width="0.76"/>
<line x1="162.9" y1="436.5" x2="169.9" y2="440.5" stroke="#141414" stroke-width="0.76"/>
<ellipse cx="174.0" cy="436.5" rx="3.5" ry="1.7" transform="rotate(119.7 174.0 436.5)" fill="none" stroke="#141414" stroke-width="0.76"/>
<polygon points="179.7,443.2 194.7,452.2 197.3,447.8 182.3,438.8" fill="#fff" stroke="none"/>
<line x1="179.7" y1="443.2" x2="194.7" y2="452.2" stroke="#141414" stroke-width="0.95"/>
<line x1="182.3" y1="438.8" x2="197.3" y2="447.8" stroke="#141414" stroke-width="0.95"/>
<polygon points="193.7,452.2 194.4,449.1 196.8,446.9 204.8,451.4 206.3,452.4 205.6,455.5 203.2,457.8 195.2,453.1" fill="#fff" stroke="#141414" stroke-width="0.95" stroke-linejoin="round"/>
<polygon points="203.2,457.8 205.6,455.5 206.3,452.3 204.8,451.4 202.4,453.7 201.7,456.9" fill="#fff" stroke="#141414" stroke-width="0.95" stroke-linejoin="round"/>
<line x1="195.2" y1="453.2" x2="203.2" y2="457.8" stroke="#141414" stroke-width="0.76"/>
<line x1="197.6" y1="450.9" x2="205.6" y2="455.5" stroke="#141414" stroke-width="0.76"/>
<line x1="193.7" y1="452.3" x2="201.7" y2="456.9" stroke="#141414" stroke-width="0.76"/>
<ellipse cx="204.0" cy="454.6" rx="2.0" ry="1.0" transform="rotate(119.9 204.0 454.6)" fill="none" stroke="#141414" stroke-width="0.76"/>
<polygon points="202.5,457.4 220.5,468.4 223.5,463.6 205.5,452.6" fill="#fff" stroke="none"/>
<line x1="202.5" y1="457.4" x2="220.5" y2="468.4" stroke="#141414" stroke-width="0.95"/>
<line x1="205.5" y1="452.6" x2="223.5" y2="463.6" stroke="#141414" stroke-width="0.95"/>
<path d="M204.3,458.5 A2.8,1.4 121.4 0 1 207.3,453.7" fill="none" stroke="#141414" stroke-width="0.95" stroke-linejoin="round" stroke-linecap="round"/>
<path d="M206.1,459.6 A2.8,1.4 121.4 0 1 209.1,454.8" fill="none" stroke="#141414" stroke-width="0.95" stroke-linejoin="round" stroke-linecap="round"/>
<path d="M207.9,460.7 A2.8,1.4 121.4 0 1 210.9,455.9" fill="none" stroke="#141414" stroke-width="0.95" stroke-linejoin="round" stroke-linecap="round"/>
<path d="M209.7,461.8 A2.8,1.4 121.4 0 1 212.7,457.0" fill="none" stroke="#141414" stroke-width="0.95" stroke-linejoin="round" stroke-linecap="round"/>
<path d="M211.5,462.9 A2.8,1.4 121.4 0 1 214.5,458.1" fill="none" stroke="#141414" stroke-width="0.95" stroke-linejoin="round" stroke-linecap="round"/>
<path d="M213.3,464.0 A2.8,1.4 121.4 0 1 216.3,459.2" fill="none" stroke="#141414" stroke-width="0.95" stroke-linejoin="round" stroke-linecap="round"/>
<path d="M215.1,465.1 A2.8,1.4 121.4 0 1 218.1,460.3" fill="none" stroke="#141414" stroke-width="0.95" stroke-linejoin="round" stroke-linecap="round"/>
<path d="M216.9,466.2 A2.8,1.4 121.4 0 1 219.9,461.4" fill="none" stroke="#141414" stroke-width="0.95" stroke-linejoin="round" stroke-linecap="round"/>
<path d="M218.7,467.3 A2.8,1.4 121.4 0 1 221.7,462.5" fill="none" stroke="#141414" stroke-width="0.95" stroke-linejoin="round" stroke-linecap="round"/>
<ellipse cx="222.0" cy="466.0" rx="2.8" ry="1.4" transform="rotate(121.4 222.0 466.0)" fill="#fff" stroke="#141414" stroke-width="0.95"/>
<line x1="194.5" y1="425.0" x2="194.5" y2="445.0" stroke="#141414" stroke-width="0.95"/>
<text transform="translate(192.0,422.5) scale(0.9,1)" font-size="10">3</text>
<ellipse cx="234.5" cy="472.0" rx="9.0" ry="11.5" transform="rotate(30.0 234.5 472.0)" fill="none" stroke="#141414" stroke-width="0.95"/>
<ellipse cx="234.5" cy="472.0" rx="7.8" ry="10.3" transform="rotate(30.0 234.5 472.0)" fill="none" stroke="#141414" stroke-width="0.95"/>
<path d="M238,461 L242,461 L243,464" fill="none" stroke="#141414" stroke-width="0.8" stroke-linejoin="round" stroke-linecap="round"/>
<line x1="236.5" y1="450.7" x2="236.5" y2="460.0" stroke="#141414" stroke-width="0.95"/>
<text transform="translate(233.0,448.0) scale(0.9,1)" font-size="10">8</text>
<polygon points="242.7,493.6 243.2,493.6 243.8,493.4 244.4,493.2 244.9,493.2 245.2,493.6 245.4,494.2 245.6,494.8 245.9,495.2 246.4,495.2 247.0,495.0 247.6,494.7 248.1,494.8 248.4,495.1 248.6,495.7 248.8,496.3 249.1,496.7 249.6,496.7 250.2,496.5 250.8,496.3 251.3,496.3 251.6,496.7 251.8,497.3 252.0,497.9 252.3,498.2 252.8,498.3 253.4,498.0 254.0,497.8 254.5,497.8 254.8,498.2 255.0,498.8 255.2,499.4 255.5,499.8 256.0,499.8 256.6,499.6 257.2,499.4 257.7,499.4 258.1,499.8 258.2,500.4 258.4,500.9 258.8,501.3 259.3,501.3 259.9,501.1 260.5,500.8 261.0,500.8 261.3,501.2 261.5,501.7 261.8,502.3 262.1,502.6 262.6,502.6 263.2,502.4 263.8,502.1 264.3,502.1 264.7,502.4 264.9,503.0 265.1,503.5 265.5,503.8 266.0,503.8 266.6,503.6 267.2,503.4 267.7,503.3 268.1,503.7 268.3,504.2 268.5,504.7 268.9,505.0 269.4,505.0 270.0,504.8 270.6,504.5 271.1,504.5 271.4,504.8 271.7,505.4 271.9,505.9 272.3,506.2 272.8,506.2 273.4,506.0 274.0,505.8 274.5,505.8 274.8,506.1 275.1,506.6 275.3,507.1 275.7,507.4 276.1,507.4 276.7,507.2 277.3,507.0 277.8,507.1 278.1,507.4 278.4,507.9 278.6,508.4 279.0,508.7 279.5,508.7 280.0,508.6 280.6,508.4 281.1,508.5 281.4,508.8 281.6,509.3 281.9,509.9 282.2,510.2 282.7,510.2 283.3,510.1 283.8,509.9 284.3,509.9 284.7,510.2 285.0,510.6 285.3,511.0 285.7,511.2 286.2,511.2 286.8,510.9 287.4,510.7 287.9,510.7 288.3,510.9 288.7,511.2 289.0,511.6 289.4,511.8 289.9,511.8 290.4,511.7 291.0,511.6 291.5,511.6 291.8,511.9 292.1,512.3 292.4,512.7 292.8,512.8 293.4,512.7 294.0,512.5 294.7,512.2 295.2,512.1 295.7,512.1 296.1,512.3 296.5,512.5 296.9,512.8 301.1,504.2 300.7,504.1 300.3,503.9 299.9,503.7 299.6,503.4 299.3,502.8 299.2,502.2 299.0,501.5 298.8,501.0 298.4,500.7 297.9,500.7 297.4,500.7 297.0,500.6 296.6,500.3 296.4,499.8 296.2,499.2 295.9,498.8 295.5,498.6 295.0,498.6 294.5,498.5 294.1,498.3 293.8,497.9 293.6,497.3 293.5,496.7 293.2,496.2 292.8,496.0 292.3,496.1 291.8,496.1 291.3,495.9 291.0,495.5 290.8,495.0 290.6,494.4 290.3,494.1 289.8,494.0 289.3,494.1 288.7,494.2 288.2,494.2 287.9,493.8 287.7,493.3 287.5,492.7 287.1,492.4 286.7,492.3 286.1,492.4 285.6,492.5 285.1,492.4 284.8,492.0 284.6,491.5 284.4,490.9 284.1,490.5 283.6,490.4 283.1,490.5 282.5,490.6 282.1,490.5 281.8,490.1 281.6,489.5 281.4,488.9 281.1,488.5 280.6,488.4 280.1,488.5 279.5,488.6 279.1,488.5 278.8,488.1 278.6,487.5 278.4,486.9 278.1,486.5 277.7,486.4 277.1,486.5 276.6,486.7 276.1,486.6 275.8,486.2 275.6,485.5 275.4,484.9 275.2,484.5 274.7,484.4 274.1,484.5 273.6,484.7 273.1,484.6 272.8,484.2 272.6,483.6 272.4,482.9 272.2,482.5 271.7,482.4 271.1,482.6 270.5,482.8 270.1,482.7 269.8,482.3 269.6,481.7 269.4,481.0 269.1,480.6 268.6,480.6 268.0,480.8 267.4,481.0 267.0,480.9 266.6,480.6 266.5,479.9 266.3,479.3 266.0,478.9 265.5,478.9 264.9,479.1 264.3,479.4 263.8,479.3 263.5,478.9 263.3,478.3 263.1,477.7 262.8,477.3 262.3,477.3 261.7,477.5 261.1,477.7 260.6,477.7 260.3,477.3 260.1,476.7 259.9,476.0 259.6,475.7 259.2,475.6 258.6,475.8 257.9,476.1 257.5,476.0 257.2,475.6 257.0,475.0 256.8,474.4 256.5,474.0 256.0,474.0 255.4,474.2 254.8,474.4 254.3,474.4 254.0,474.0 253.8,473.4 253.6,472.8 253.3,472.4" fill="#fff" stroke="#141414" stroke-width="1.0" stroke-linejoin="round"/>
<path d="M242.7,493.5 A11.8,4.9 116.6 0 1 253.3,472.5" fill="none" stroke="#141414" stroke-width="1.0" stroke-linejoin="round" stroke-linecap="round"/>
<path d="M244.9,493.2 A10.5,4.4 116.6 0 1 254.3,474.4" fill="none" stroke="#141414" stroke-width="0.8" stroke-linejoin="round" stroke-linecap="round"/>
<path d="M245.9,495.1 A11.7,4.9 116.6 0 1 256.4,474.1" fill="none" stroke="#141414" stroke-width="1.0" stroke-linejoin="round" stroke-linecap="round"/>
<path d="M248.1,494.8 A10.5,4.4 116.6 0 1 257.5,476.0" fill="none" stroke="#141414" stroke-width="0.8" stroke-linejoin="round" stroke-linecap="round"/>
<path d="M249.2,496.6 A11.7,4.9 116.6 0 1 259.6,475.8" fill="none" stroke="#141414" stroke-width="1.0" stroke-linejoin="round" stroke-linecap="round"/>
<path d="M251.3,496.3 A10.4,4.4 116.6 0 1 260.6,477.7" fill="none" stroke="#141414" stroke-width="0.8" stroke-linejoin="round" stroke-linecap="round"/>
<path d="M252.4,498.1 A11.6,4.9 116.6 0 1 262.7,477.4" fill="none" stroke="#141414" stroke-width="1.0" stroke-linejoin="round" stroke-linecap="round"/>
<path d="M254.5,497.8 A10.3,4.3 116.6 0 1 263.8,479.3" fill="none" stroke="#141414" stroke-width="0.8" stroke-linejoin="round" stroke-linecap="round"/>
<path d="M255.6,499.7 A11.6,4.9 116.6 0 1 265.9,479.0" fill="none" stroke="#141414" stroke-width="1.0" stroke-linejoin="round" stroke-linecap="round"/>
<path d="M257.7,499.4 A10.3,4.3 116.6 0 1 267.0,480.9" fill="none" stroke="#141414" stroke-width="0.8" stroke-linejoin="round" stroke-linecap="round"/>
<path d="M258.8,501.2 A11.4,4.8 116.6 0 1 269.1,480.7" fill="none" stroke="#141414" stroke-width="1.0" stroke-linejoin="round" stroke-linecap="round"/>
<path d="M261.0,500.8 A10.1,4.3 116.6 0 1 270.1,482.7" fill="none" stroke="#141414" stroke-width="0.8" stroke-linejoin="round" stroke-linecap="round"/>
<path d="M262.1,502.5 A11.1,4.7 116.6 0 1 272.1,482.6" fill="none" stroke="#141414" stroke-width="1.0" stroke-linejoin="round" stroke-linecap="round"/>
<path d="M264.3,502.1 A9.8,4.1 116.6 0 1 273.1,484.6" fill="none" stroke="#141414" stroke-width="0.8" stroke-linejoin="round" stroke-linecap="round"/>
<path d="M265.5,503.7 A10.7,4.5 116.6 0 1 275.1,484.6" fill="none" stroke="#141414" stroke-width="1.0" stroke-linejoin="round" stroke-linecap="round"/>
<path d="M267.7,503.3 A9.4,3.9 116.6 0 1 276.1,486.6" fill="none" stroke="#141414" stroke-width="0.8" stroke-linejoin="round" stroke-linecap="round"/>
<path d="M268.9,504.9 A10.2,4.3 116.6 0 1 278.1,486.6" fill="none" stroke="#141414" stroke-width="1.0" stroke-linejoin="round" stroke-linecap="round"/>
<path d="M271.1,504.5 A8.9,3.8 116.6 0 1 279.1,488.5" fill="none" stroke="#141414" stroke-width="0.8" stroke-linejoin="round" stroke-linecap="round"/>
<path d="M272.3,506.1 A9.8,4.1 116.6 0 1 281.1,488.6" fill="none" stroke="#141414" stroke-width="1.0" stroke-linejoin="round" stroke-linecap="round"/>
<path d="M274.5,505.8 A8.5,3.6 116.6 0 1 282.1,490.5" fill="none" stroke="#141414" stroke-width="0.8" stroke-linejoin="round" stroke-linecap="round"/>
<path d="M275.7,507.3 A9.3,3.9 116.6 0 1 284.0,490.6" fill="none" stroke="#141414" stroke-width="1.0" stroke-linejoin="round" stroke-linecap="round"/>
<path d="M277.8,507.1 A8.2,3.4 116.6 0 1 285.1,492.4" fill="none" stroke="#141414" stroke-width="0.8" stroke-linejoin="round" stroke-linecap="round"/>
<path d="M279.0,508.6 A9.0,3.8 116.6 0 1 287.1,492.4" fill="none" stroke="#141414" stroke-width="1.0" stroke-linejoin="round" stroke-linecap="round"/>
<path d="M281.1,508.5 A8.0,3.4 116.6 0 1 288.2,494.2" fill="none" stroke="#141414" stroke-width="0.8" stroke-linejoin="round" stroke-linecap="round"/>
<path d="M282.3,510.1 A8.9,3.7 116.6 0 1 290.2,494.1" fill="none" stroke="#141414" stroke-width="1.0" stroke-linejoin="round" stroke-linecap="round"/>
<path d="M284.3,509.9 A7.8,3.3 116.6 0 1 291.3,495.9" fill="none" stroke="#141414" stroke-width="0.8" stroke-linejoin="round" stroke-linecap="round"/>
<path d="M285.7,511.1 A8.3,3.5 116.6 0 1 293.1,496.3" fill="none" stroke="#141414" stroke-width="1.0" stroke-linejoin="round" stroke-linecap="round"/>
<path d="M287.9,510.7 A6.9,2.9 116.6 0 1 294.1,498.3" fill="none" stroke="#141414" stroke-width="0.8" stroke-linejoin="round" stroke-linecap="round"/>
<path d="M289.4,511.7 A7.2,3.0 116.6 0 1 295.8,498.9" fill="none" stroke="#141414" stroke-width="1.0" stroke-linejoin="round" stroke-linecap="round"/>
<path d="M291.5,511.6 A6.1,2.6 116.6 0 1 297.0,500.6" fill="none" stroke="#141414" stroke-width="0.8" stroke-linejoin="round" stroke-linecap="round"/>
<path d="M292.9,512.8 A6.6,2.8 116.6 0 1 298.7,501.0" fill="none" stroke="#141414" stroke-width="1.0" stroke-linejoin="round" stroke-linecap="round"/>
<path d="M295.2,512.1 A4.9,2.0 116.6 0 1 299.6,503.4" fill="none" stroke="#141414" stroke-width="0.8" stroke-linejoin="round" stroke-linecap="round"/>
<path d="M296.9,512.7 A4.7,2.0 116.6 0 1 301.1,504.3" fill="none" stroke="#141414" stroke-width="1.0" stroke-linejoin="round" stroke-linecap="round"/>
<polyline points="253.8,475.2 254.2,475.4 254.6,475.6 255.0,475.8 255.4,476.0 255.8,476.2 256.2,476.4 256.6,476.6 257.0,476.8 257.4,477.0 257.8,477.2 258.2,477.4 258.6,477.6 259.0,477.8 259.3,478.0 259.7,478.2 260.1,478.4 260.5,478.6 260.9,478.8 261.3,479.0 261.7,479.3 262.1,479.5 262.5,479.7 262.9,479.9 263.3,480.1 263.7,480.3 264.1,480.5 264.5,480.7 264.9,480.9 265.3,481.1 265.7,481.3 266.1,481.5 266.5,481.7 266.9,481.9 267.2,482.1 267.6,482.3 268.0,482.5 268.4,482.7 268.8,482.9 269.2,483.1 269.6,483.4 270.0,483.6 270.4,483.8 270.7,484.0 271.1,484.2 271.5,484.5 271.9,484.7 272.3,484.9 272.6,485.1 273.0,485.4 273.4,485.6 273.8,485.8 274.1,486.1 274.5,486.3 274.9,486.5 275.2,486.8 275.6,487.0 276.0,487.3 276.3,487.5 276.7,487.7 277.1,488.0 277.5,488.2 277.8,488.5 278.2,488.7 278.6,488.9 278.9,489.2 279.3,489.4 279.7,489.7 280.0,489.9 280.4,490.1 280.8,490.4 281.1,490.6 281.5,490.8 281.9,491.1 282.2,491.3 282.6,491.6 283.0,491.8 283.4,492.0 283.7,492.3 284.1,492.5 284.5,492.7 284.9,493.0 285.2,493.2 285.6,493.4 286.0,493.6 286.4,493.9 286.8,494.1 287.1,494.3 287.5,494.5 287.9,494.7 288.3,494.9 288.7,495.2 289.1,495.4 289.5,495.6 289.9,495.8 290.3,496.0 290.7,496.2 291.1,496.4 291.4,496.6 291.8,496.9 292.2,497.1 292.5,497.4 292.9,497.6 293.2,497.9 293.5,498.2 293.9,498.5 294.2,498.8 294.5,499.1 294.8,499.4 295.2,499.7 295.5,500.0 295.8,500.2 296.2,500.5 296.5,500.8 296.9,501.1 297.2,501.3 297.6,501.5 298.0,501.8 298.4,502.0 298.7,502.2 299.1,502.5 299.3,502.9 299.6,503.3 299.8,503.7 300.1,504.1 300.4,504.5 300.6,504.8 301.0,505.1 301.3,505.4" fill="none" stroke="#141414" stroke-width="0.65" stroke-linejoin="round" stroke-dasharray="1.2 1.2"/>
<polyline points="253.6,476.9 254.0,477.1 254.4,477.3 254.8,477.5 255.2,477.7 255.6,477.9 256.0,478.1 256.4,478.3 256.8,478.5 257.2,478.7 257.6,478.9 258.0,479.1 258.4,479.3 258.8,479.5 259.2,479.7 259.6,479.9 260.0,480.1 260.4,480.3 260.8,480.5 261.1,480.7 261.5,480.9 261.9,481.1 262.3,481.3 262.7,481.5 263.1,481.7 263.5,482.0 263.9,482.2 264.3,482.4 264.7,482.6 265.1,482.8 265.5,483.0 265.9,483.2 266.3,483.4 266.7,483.6 267.1,483.8 267.5,484.0 267.9,484.2 268.3,484.4 268.6,484.6 269.0,484.8 269.4,485.0 269.8,485.2 270.2,485.4 270.6,485.7 271.0,485.9 271.3,486.1 271.7,486.3 272.1,486.5 272.5,486.8 272.8,487.0 273.2,487.2 273.6,487.4 274.0,487.7 274.3,487.9 274.7,488.1 275.1,488.3 275.5,488.6 275.8,488.8 276.2,489.0 276.6,489.3 276.9,489.5 277.3,489.7 277.7,490.0 278.0,490.2 278.4,490.4 278.8,490.6 279.1,490.9 279.5,491.1 279.9,491.3 280.3,491.6 280.6,491.8 281.0,492.0 281.4,492.3 281.7,492.5 282.1,492.7 282.5,492.9 282.9,493.2 283.2,493.4 283.6,493.6 284.0,493.9 284.4,494.1 284.7,494.3 285.1,494.5 285.5,494.7 285.9,495.0 286.2,495.2 286.6,495.4 287.0,495.6 287.4,495.8 287.8,496.0 288.2,496.2 288.6,496.5 288.9,496.7 289.3,496.9 289.7,497.1 290.1,497.3 290.5,497.5 290.9,497.7 291.3,497.9 291.7,498.1 292.0,498.4 292.4,498.6 292.7,498.9 293.1,499.1 293.4,499.4 293.7,499.7 294.1,499.9 294.4,500.2 294.7,500.5 295.1,500.8 295.4,501.0 295.7,501.3 296.1,501.6 296.4,501.8 296.8,502.1 297.1,502.3 297.5,502.5 297.9,502.8 298.3,503.0 298.6,503.2 299.0,503.5 299.2,503.8 299.5,504.2 299.8,504.5 300.0,504.9 300.3,505.2 300.6,505.5 300.9,505.8 301.3,506.0" fill="none" stroke="#141414" stroke-width="0.65" stroke-linejoin="round" stroke-dasharray="1.2 1.2"/>
<polyline points="253.3,478.5 253.7,478.7 254.1,478.9 254.5,479.1 254.9,479.3 255.3,479.5 255.7,479.7 256.1,479.9 256.5,480.1 256.8,480.3 257.2,480.5 257.6,480.7 258.0,480.9 258.4,481.1 258.8,481.3 259.2,481.5 259.6,481.7 260.0,481.9 260.4,482.1 260.8,482.3 261.2,482.5 261.6,482.7 262.0,482.9 262.4,483.1 262.8,483.3 263.2,483.5 263.6,483.7 263.9,483.9 264.3,484.1 264.7,484.3 265.1,484.5 265.5,484.7 265.9,484.9 266.3,485.1 266.7,485.3 267.1,485.5 267.5,485.7 267.9,486.0 268.3,486.2 268.7,486.4 269.1,486.6 269.5,486.8 269.8,487.0 270.2,487.2 270.6,487.4 271.0,487.6 271.4,487.9 271.7,488.1 272.1,488.3 272.5,488.5 272.9,488.7 273.3,488.9 273.6,489.2 274.0,489.4 274.4,489.6 274.8,489.8 275.1,490.0 275.5,490.3 275.9,490.5 276.2,490.7 276.6,490.9 277.0,491.2 277.4,491.4 277.7,491.6 278.1,491.8 278.5,492.0 278.8,492.3 279.2,492.5 279.6,492.7 280.0,492.9 280.3,493.2 280.7,493.4 281.1,493.6 281.4,493.8 281.8,494.0 282.2,494.3 282.6,494.5 282.9,494.7 283.3,494.9 283.7,495.1 284.1,495.4 284.4,495.6 284.8,495.8 285.2,496.0 285.6,496.2 286.0,496.4 286.3,496.6 286.7,496.9 287.1,497.1 287.5,497.3 287.9,497.5 288.3,497.7 288.7,497.9 289.1,498.1 289.5,498.3 289.9,498.5 290.3,498.7 290.6,498.9 291.0,499.1 291.4,499.3 291.8,499.6 292.1,499.8 292.5,500.0 292.8,500.3 293.2,500.5 293.5,500.8 293.8,501.0 294.2,501.3 294.5,501.6 294.8,501.8 295.2,502.1 295.5,502.3 295.9,502.6 296.2,502.8 296.6,503.0 296.9,503.3 297.3,503.5 297.7,503.7 298.1,503.9 298.4,504.1 298.8,504.4 299.1,504.7 299.3,505.0 299.6,505.3 299.8,505.6 300.1,505.9 300.4,506.2 300.7,506.5 301.1,506.7" fill="none" stroke="#141414" stroke-width="0.65" stroke-linejoin="round" stroke-dasharray="1.2 1.2"/>
<polyline points="252.8,480.0 253.2,480.2 253.6,480.4 254.0,480.6 254.4,480.8 254.8,481.0 255.2,481.2 255.6,481.4 256.0,481.6 256.4,481.8 256.8,482.0 257.2,482.2 257.6,482.4 258.0,482.6 258.4,482.8 258.7,483.0 259.1,483.3 259.5,483.5 259.9,483.7 260.3,483.9 260.7,484.1 261.1,484.3 261.5,484.5 261.9,484.7 262.3,484.9 262.7,485.1 263.1,485.3 263.5,485.5 263.9,485.7 264.3,485.9 264.7,486.1 265.1,486.3 265.5,486.5 265.9,486.7 266.3,486.9 266.7,487.1 267.1,487.3 267.4,487.5 267.8,487.7 268.2,487.9 268.6,488.1 269.0,488.3 269.4,488.5 269.8,488.7 270.2,488.9 270.5,489.1 270.9,489.3 271.3,489.5 271.7,489.8 272.1,490.0 272.4,490.2 272.8,490.4 273.2,490.6 273.6,490.8 273.9,491.0 274.3,491.2 274.7,491.5 275.1,491.7 275.4,491.9 275.8,492.1 276.2,492.3 276.6,492.5 276.9,492.7 277.3,493.0 277.7,493.2 278.1,493.4 278.4,493.6 278.8,493.8 279.2,494.0 279.6,494.2 279.9,494.5 280.3,494.7 280.7,494.9 281.1,495.1 281.4,495.3 281.8,495.5 282.2,495.7 282.6,496.0 282.9,496.2 283.3,496.4 283.7,496.6 284.1,496.8 284.5,497.0 284.8,497.2 285.2,497.4 285.6,497.6 286.0,497.8 286.4,498.0 286.8,498.3 287.1,498.5 287.5,498.7 287.9,498.9 288.3,499.1 288.7,499.3 289.1,499.5 289.5,499.7 289.9,499.9 290.3,500.1 290.7,500.3 291.0,500.5 291.4,500.7 291.8,500.9 292.1,501.2 292.5,501.4 292.8,501.6 293.2,501.9 293.5,502.1 293.8,502.3 294.2,502.6 294.5,502.8 294.9,503.0 295.2,503.3 295.6,503.5 295.9,503.7 296.3,503.9 296.6,504.2 297.0,504.4 297.4,504.6 297.8,504.8 298.2,505.0 298.5,505.3 298.8,505.5 299.1,505.8 299.4,506.1 299.6,506.3 299.9,506.6 300.2,506.9 300.6,507.1 300.9,507.3" fill="none" stroke="#141414" stroke-width="0.65" stroke-linejoin="round" stroke-dasharray="1.2 1.2"/>
<polyline points="252.3,481.5 252.7,481.7 253.0,481.9 253.4,482.1 253.8,482.3 254.2,482.5 254.6,482.7 255.0,482.9 255.4,483.1 255.8,483.3 256.2,483.5 256.6,483.7 257.0,483.9 257.4,484.1 257.8,484.3 258.2,484.5 258.6,484.7 259.0,484.9 259.4,485.2 259.8,485.4 260.2,485.6 260.6,485.8 261.0,486.0 261.4,486.2 261.8,486.4 262.1,486.6 262.5,486.8 262.9,487.0 263.3,487.2 263.7,487.4 264.1,487.6 264.5,487.8 264.9,487.9 265.3,488.1 265.7,488.3 266.1,488.5 266.5,488.8 266.9,489.0 267.3,489.2 267.7,489.4 268.1,489.6 268.5,489.8 268.8,490.0 269.2,490.2 269.6,490.4 270.0,490.6 270.4,490.8 270.8,491.0 271.2,491.2 271.5,491.4 271.9,491.6 272.3,491.8 272.7,492.0 273.1,492.2 273.4,492.4 273.8,492.6 274.2,492.8 274.6,493.0 274.9,493.2 275.3,493.5 275.7,493.7 276.1,493.9 276.5,494.1 276.8,494.3 277.2,494.5 277.6,494.7 278.0,494.9 278.3,495.1 278.7,495.3 279.1,495.5 279.5,495.7 279.8,495.9 280.2,496.1 280.6,496.3 281.0,496.6 281.4,496.8 281.7,497.0 282.1,497.2 282.5,497.4 282.9,497.6 283.3,497.8 283.6,498.0 284.0,498.2 284.4,498.4 284.8,498.6 285.2,498.8 285.6,499.0 285.9,499.2 286.3,499.4 286.7,499.6 287.1,499.8 287.5,500.0 287.9,500.2 288.3,500.4 288.7,500.6 289.1,500.8 289.5,501.0 289.9,501.2 290.3,501.4 290.6,501.6 291.0,501.8 291.4,502.1 291.7,502.3 292.1,502.5 292.4,502.7 292.8,502.9 293.1,503.1 293.5,503.3 293.8,503.6 294.2,503.8 294.5,504.0 294.9,504.2 295.2,504.4 295.6,504.6 296.0,504.8 296.3,505.1 296.7,505.3 297.1,505.5 297.5,505.7 297.9,505.9 298.2,506.1 298.5,506.3 298.8,506.6 299.1,506.8 299.4,507.0 299.7,507.3 300.0,507.5 300.3,507.7 300.7,507.9" fill="none" stroke="#141414" stroke-width="0.65" stroke-linejoin="round" stroke-dasharray="1.2 1.2"/>
<polyline points="251.6,483.0 252.0,483.2 252.4,483.4 252.8,483.6 253.2,483.8 253.6,484.0 254.0,484.2 254.4,484.4 254.8,484.6 255.2,484.8 255.6,485.0 256.0,485.2 256.4,485.4 256.8,485.6 257.2,485.8 257.6,486.0 258.0,486.2 258.4,486.4 258.8,486.6 259.2,486.8 259.6,487.0 260.0,487.2 260.3,487.4 260.7,487.6 261.1,487.8 261.5,488.0 261.9,488.2 262.3,488.4 262.7,488.6 263.1,488.8 263.5,489.0 263.9,489.2 264.3,489.4 264.7,489.6 265.1,489.8 265.5,490.0 265.9,490.2 266.3,490.4 266.7,490.6 267.1,490.8 267.5,491.0 267.9,491.2 268.2,491.4 268.6,491.6 269.0,491.8 269.4,492.0 269.8,492.2 270.2,492.4 270.6,492.6 270.9,492.8 271.3,493.0 271.7,493.2 272.1,493.4 272.5,493.6 272.9,493.8 273.2,494.0 273.6,494.2 274.0,494.4 274.4,494.6 274.8,494.8 275.1,495.0 275.5,495.2 275.9,495.4 276.3,495.6 276.7,495.8 277.0,496.0 277.4,496.2 277.8,496.4 278.2,496.6 278.6,496.8 278.9,497.0 279.3,497.2 279.7,497.4 280.1,497.6 280.5,497.8 280.8,498.0 281.2,498.2 281.6,498.4 282.0,498.6 282.4,498.8 282.8,499.0 283.1,499.2 283.5,499.4 283.9,499.6 284.3,499.8 284.7,500.0 285.1,500.2 285.5,500.4 285.9,500.6 286.2,500.8 286.6,500.9 287.0,501.1 287.4,501.3 287.8,501.5 288.2,501.7 288.6,501.9 289.0,502.1 289.4,502.3 289.8,502.5 290.2,502.7 290.5,502.9 290.9,503.1 291.3,503.3 291.6,503.5 292.0,503.7 292.4,503.9 292.7,504.1 293.1,504.3 293.4,504.5 293.8,504.7 294.1,504.9 294.5,505.1 294.8,505.3 295.2,505.5 295.6,505.7 296.0,505.9 296.3,506.1 296.7,506.3 297.1,506.5 297.5,506.7 297.8,506.9 298.2,507.1 298.5,507.3 298.8,507.5 299.1,507.7 299.4,507.9 299.7,508.1 300.1,508.3 300.5,508.5" fill="none" stroke="#141414" stroke-width="0.65" stroke-linejoin="round" stroke-dasharray="1.2 1.2"/>
<polyline points="250.9,484.5 251.3,484.7 251.7,484.9 252.1,485.1 252.5,485.3 252.9,485.5 253.3,485.7 253.7,485.9 254.1,486.1 254.5,486.3 254.9,486.5 255.3,486.7 255.7,486.9 256.1,487.1 256.5,487.3 256.9,487.4 257.3,487.6 257.7,487.8 258.1,488.0 258.5,488.2 258.9,488.4 259.3,488.6 259.7,488.8 260.1,489.0 260.5,489.2 260.9,489.4 261.3,489.6 261.7,489.8 262.1,490.0 262.4,490.2 262.8,490.4 263.2,490.6 263.6,490.8 264.0,491.0 264.4,491.2 264.8,491.4 265.2,491.6 265.6,491.8 266.0,492.0 266.4,492.2 266.8,492.4 267.2,492.6 267.6,492.8 268.0,493.0 268.4,493.2 268.8,493.4 269.1,493.6 269.5,493.8 269.9,494.0 270.3,494.2 270.7,494.3 271.1,494.5 271.5,494.7 271.8,494.9 272.2,495.1 272.6,495.3 273.0,495.5 273.4,495.7 273.8,495.9 274.1,496.1 274.5,496.3 274.9,496.5 275.3,496.6 275.7,496.8 276.1,497.0 276.4,497.2 276.8,497.4 277.2,497.6 277.6,497.8 278.0,498.0 278.4,498.2 278.7,498.4 279.1,498.6 279.5,498.8 279.9,498.9 280.3,499.1 280.7,499.3 281.1,499.5 281.4,499.7 281.8,499.9 282.2,500.1 282.6,500.3 283.0,500.5 283.4,500.7 283.8,500.9 284.2,501.1 284.5,501.3 284.9,501.5 285.3,501.7 285.7,501.9 286.1,502.1 286.5,502.3 286.9,502.4 287.3,502.6 287.7,502.8 288.1,503.0 288.5,503.2 288.9,503.4 289.3,503.6 289.7,503.8 290.0,504.0 290.4,504.2 290.8,504.4 291.1,504.6 291.5,504.8 291.9,504.9 292.2,505.1 292.6,505.3 293.0,505.5 293.3,505.7 293.7,505.8 294.1,506.0 294.4,506.2 294.8,506.4 295.2,506.6 295.6,506.8 295.9,507.0 296.3,507.2 296.7,507.4 297.1,507.6 297.5,507.7 297.8,507.9 298.1,508.1 298.4,508.2 298.8,508.4 299.1,508.5 299.4,508.7 299.8,508.9 300.2,509.1" fill="none" stroke="#141414" stroke-width="0.65" stroke-linejoin="round" stroke-dasharray="1.2 1.2"/>
<polyline points="250.2,485.9 250.6,486.1 251.0,486.3 251.4,486.5 251.8,486.7 252.2,486.9 252.6,487.1 253.0,487.3 253.4,487.5 253.8,487.7 254.2,487.9 254.6,488.1 255.0,488.3 255.4,488.5 255.8,488.7 256.2,488.9 256.6,489.1 257.0,489.2 257.3,489.4 257.7,489.6 258.1,489.8 258.5,490.0 258.9,490.2 259.3,490.4 259.7,490.6 260.1,490.8 260.5,491.0 260.9,491.2 261.3,491.4 261.7,491.6 262.1,491.8 262.5,492.0 262.9,492.2 263.3,492.4 263.7,492.6 264.1,492.8 264.5,493.0 264.9,493.2 265.3,493.4 265.7,493.6 266.1,493.8 266.5,494.0 266.9,494.2 267.3,494.4 267.6,494.5 268.0,494.7 268.4,494.9 268.8,495.1 269.2,495.3 269.6,495.5 270.0,495.7 270.4,495.9 270.8,496.0 271.2,496.2 271.5,496.4 271.9,496.6 272.3,496.8 272.7,497.0 273.1,497.2 273.5,497.3 273.9,497.5 274.3,497.7 274.6,497.9 275.0,498.1 275.4,498.3 275.8,498.4 276.2,498.6 276.6,498.8 277.0,499.0 277.3,499.2 277.7,499.4 278.1,499.6 278.5,499.7 278.9,499.9 279.3,500.1 279.7,500.3 280.1,500.5 280.5,500.7 280.8,500.9 281.2,501.0 281.6,501.2 282.0,501.4 282.4,501.6 282.8,501.8 283.2,502.0 283.6,502.2 284.0,502.4 284.4,502.6 284.8,502.8 285.1,502.9 285.5,503.1 285.9,503.3 286.3,503.5 286.7,503.7 287.1,503.9 287.5,504.1 287.9,504.3 288.3,504.5 288.7,504.7 289.1,504.9 289.5,505.1 289.9,505.2 290.2,505.4 290.6,505.6 291.0,505.8 291.4,505.9 291.7,506.1 292.1,506.2 292.5,506.4 292.8,506.6 293.2,506.7 293.6,506.9 294.0,507.1 294.3,507.3 294.7,507.4 295.1,507.6 295.5,507.8 295.9,508.0 296.3,508.2 296.7,508.4 297.0,508.5 297.4,508.7 297.7,508.8 298.1,508.9 298.4,509.0 298.8,509.2 299.1,509.3 299.5,509.5 299.9,509.7" fill="none" stroke="#141414" stroke-width="0.65" stroke-linejoin="round" stroke-dasharray="1.2 1.2"/>
<polyline points="249.4,487.3 249.8,487.5 250.2,487.7 250.6,487.9 251.0,488.1 251.4,488.3 251.8,488.5 252.2,488.7 252.6,488.9 253.0,489.1 253.4,489.2 253.8,489.4 254.2,489.6 254.6,489.8 255.0,490.0 255.4,490.2 255.8,490.4 256.2,490.6 256.5,490.8 256.9,491.0 257.3,491.2 257.7,491.4 258.1,491.6 258.5,491.8 258.9,492.0 259.3,492.2 259.7,492.4 260.1,492.6 260.5,492.8 260.9,493.0 261.3,493.2 261.7,493.4 262.1,493.6 262.5,493.8 262.9,494.0 263.3,494.2 263.7,494.4 264.1,494.6 264.5,494.7 264.9,494.9 265.3,495.1 265.7,495.3 266.1,495.5 266.5,495.7 266.9,495.9 267.3,496.1 267.7,496.2 268.0,496.4 268.4,496.6 268.8,496.8 269.2,497.0 269.6,497.2 270.0,497.3 270.4,497.5 270.8,497.7 271.2,497.9 271.6,498.1 272.0,498.2 272.4,498.4 272.8,498.6 273.1,498.8 273.5,498.9 273.9,499.1 274.3,499.3 274.7,499.5 275.1,499.6 275.5,499.8 275.9,500.0 276.3,500.2 276.7,500.4 277.1,500.5 277.5,500.7 277.8,500.9 278.2,501.1 278.6,501.2 279.0,501.4 279.4,501.6 279.8,501.8 280.2,502.0 280.6,502.1 281.0,502.3 281.4,502.5 281.8,502.7 282.2,502.9 282.6,503.1 282.9,503.3 283.3,503.4 283.7,503.6 284.1,503.8 284.5,504.0 284.9,504.2 285.3,504.4 285.7,504.6 286.1,504.8 286.5,505.0 286.9,505.2 287.3,505.4 287.7,505.6 288.1,505.7 288.5,505.9 288.9,506.1 289.3,506.3 289.7,506.4 290.0,506.6 290.4,506.7 290.8,506.9 291.2,507.0 291.6,507.2 291.9,507.3 292.3,507.5 292.7,507.6 293.1,507.8 293.5,507.9 293.9,508.1 294.2,508.3 294.6,508.4 295.0,508.6 295.4,508.8 295.8,509.0 296.2,509.2 296.6,509.3 297.0,509.4 297.3,509.5 297.7,509.6 298.0,509.7 298.4,509.8 298.8,509.9 299.2,510.0 299.6,510.2" fill="none" stroke="#141414" stroke-width="0.65" stroke-linejoin="round" stroke-dasharray="1.2 1.2"/>
<polyline points="248.5,488.6 248.9,488.8 249.3,489.0 249.7,489.2 250.1,489.4 250.5,489.6 250.9,489.8 251.3,490.0 251.7,490.2 252.1,490.4 252.5,490.6 252.9,490.8 253.3,491.0 253.7,491.2 254.1,491.4 254.5,491.6 254.9,491.8 255.3,492.0 255.7,492.2 256.1,492.3 256.5,492.5 256.9,492.7 257.3,492.9 257.7,493.1 258.1,493.3 258.5,493.5 258.9,493.7 259.3,493.9 259.7,494.1 260.1,494.3 260.5,494.5 260.9,494.7 261.3,494.9 261.7,495.1 262.1,495.3 262.4,495.5 262.8,495.7 263.2,495.9 263.6,496.1 264.0,496.3 264.4,496.4 264.8,496.6 265.2,496.8 265.6,497.0 266.0,497.2 266.4,497.4 266.8,497.5 267.2,497.7 267.6,497.9 268.0,498.1 268.4,498.2 268.8,498.4 269.2,498.6 269.6,498.8 270.0,498.9 270.4,499.1 270.8,499.3 271.2,499.5 271.6,499.6 272.0,499.8 272.4,500.0 272.8,500.1 273.2,500.3 273.6,500.5 273.9,500.6 274.3,500.8 274.7,501.0 275.1,501.2 275.5,501.3 275.9,501.5 276.3,501.7 276.7,501.8 277.1,502.0 277.5,502.2 277.9,502.4 278.3,502.5 278.7,502.7 279.1,502.9 279.5,503.0 279.9,503.2 280.3,503.4 280.7,503.6 281.1,503.8 281.5,503.9 281.9,504.1 282.3,504.3 282.7,504.5 283.1,504.7 283.5,504.9 283.9,505.0 284.3,505.2 284.7,505.4 285.0,505.6 285.4,505.8 285.8,506.0 286.2,506.2 286.6,506.4 287.0,506.6 287.4,506.8 287.8,506.9 288.2,507.1 288.6,507.3 289.0,507.4 289.4,507.5 289.8,507.7 290.2,507.8 290.6,507.9 291.0,508.1 291.4,508.2 291.8,508.3 292.2,508.5 292.5,508.6 292.9,508.8 293.3,508.9 293.7,509.1 294.1,509.2 294.5,509.4 294.9,509.6 295.3,509.8 295.7,509.9 296.1,510.0 296.5,510.1 296.9,510.2 297.3,510.2 297.6,510.3 298.0,510.4 298.4,510.5 298.8,510.6 299.2,510.8" fill="none" stroke="#141414" stroke-width="0.65" stroke-linejoin="round" stroke-dasharray="1.2 1.2"/>
<polyline points="247.6,489.9 248.0,490.1 248.4,490.3 248.8,490.5 249.1,490.7 249.5,490.9 249.9,491.1 250.3,491.3 250.7,491.5 251.1,491.7 251.5,491.9 251.9,492.1 252.3,492.3 252.7,492.5 253.1,492.7 253.5,492.9 253.9,493.1 254.3,493.3 254.7,493.4 255.1,493.6 255.5,493.8 255.9,494.0 256.3,494.2 256.7,494.4 257.1,494.6 257.5,494.8 257.9,495.0 258.3,495.2 258.7,495.4 259.1,495.6 259.5,495.8 259.9,496.0 260.3,496.2 260.7,496.4 261.1,496.6 261.5,496.8 261.9,497.0 262.3,497.2 262.7,497.3 263.1,497.5 263.5,497.7 263.9,497.9 264.3,498.1 264.7,498.3 265.1,498.4 265.5,498.6 265.9,498.8 266.3,499.0 266.7,499.1 267.1,499.3 267.5,499.5 267.9,499.6 268.3,499.8 268.7,500.0 269.1,500.1 269.5,500.3 269.9,500.5 270.3,500.6 270.7,500.8 271.1,501.0 271.5,501.1 271.9,501.3 272.3,501.5 272.7,501.6 273.1,501.8 273.5,501.9 273.9,502.1 274.3,502.3 274.7,502.4 275.1,502.6 275.5,502.8 275.9,502.9 276.3,503.1 276.7,503.3 277.1,503.4 277.5,503.6 277.9,503.8 278.3,503.9 278.7,504.1 279.1,504.3 279.5,504.4 279.9,504.6 280.3,504.8 280.7,505.0 281.1,505.1 281.5,505.3 281.9,505.5 282.3,505.7 282.7,505.9 283.1,506.0 283.5,506.2 283.9,506.4 284.3,506.6 284.7,506.8 285.1,507.0 285.5,507.2 285.9,507.4 286.3,507.6 286.7,507.8 287.1,507.9 287.5,508.1 287.9,508.2 288.3,508.4 288.7,508.5 289.1,508.6 289.5,508.7 289.9,508.8 290.3,508.9 290.7,509.1 291.1,509.2 291.5,509.3 291.9,509.4 292.4,509.6 292.8,509.7 293.2,509.8 293.6,510.0 294.0,510.2 294.4,510.3 294.8,510.5 295.2,510.7 295.6,510.8 296.0,510.8 296.4,510.9 296.8,510.9 297.2,510.9 297.6,510.9 298.0,511.0 298.4,511.1 298.8,511.3" fill="none" stroke="#141414" stroke-width="0.65" stroke-linejoin="round" stroke-dasharray="1.2 1.2"/>
<polyline points="246.5,491.2 246.9,491.4 247.3,491.6 247.7,491.8 248.1,492.0 248.5,492.2 248.9,492.4 249.3,492.6 249.7,492.8 250.1,493.0 250.5,493.1 250.9,493.3 251.3,493.5 251.7,493.7 252.1,493.9 252.5,494.1 252.9,494.3 253.3,494.5 253.7,494.7 254.1,494.9 254.5,495.1 254.9,495.3 255.3,495.5 255.7,495.7 256.1,495.8 256.5,496.0 256.9,496.2 257.3,496.4 257.7,496.6 258.1,496.8 258.5,497.0 258.9,497.2 259.3,497.4 259.7,497.6 260.1,497.8 260.5,498.0 260.9,498.2 261.3,498.4 261.7,498.6 262.1,498.7 262.5,498.9 262.9,499.1 263.3,499.3 263.7,499.5 264.1,499.6 264.5,499.8 264.9,500.0 265.3,500.1 265.7,500.3 266.1,500.5 266.5,500.6 266.9,500.8 267.3,501.0 267.7,501.1 268.1,501.3 268.5,501.5 268.9,501.6 269.3,501.8 269.7,501.9 270.1,502.1 270.6,502.2 271.0,502.4 271.4,502.6 271.8,502.7 272.2,502.9 272.6,503.0 273.0,503.2 273.4,503.3 273.8,503.5 274.2,503.7 274.6,503.8 275.0,504.0 275.4,504.1 275.8,504.3 276.2,504.5 276.6,504.6 277.1,504.8 277.5,504.9 277.9,505.1 278.3,505.3 278.7,505.4 279.1,505.6 279.5,505.8 279.9,505.9 280.3,506.1 280.7,506.3 281.1,506.5 281.5,506.6 281.9,506.8 282.3,507.0 282.7,507.2 283.1,507.4 283.5,507.6 283.9,507.8 284.3,507.9 284.7,508.1 285.1,508.3 285.5,508.5 285.9,508.7 286.3,508.9 286.7,509.0 287.1,509.1 287.5,509.3 288.0,509.4 288.4,509.5 288.8,509.6 289.2,509.7 289.6,509.8 290.0,509.9 290.5,510.0 290.9,510.1 291.3,510.2 291.7,510.3 292.1,510.4 292.5,510.6 292.9,510.7 293.3,510.9 293.7,511.1 294.1,511.3 294.5,511.4 295.0,511.5 295.4,511.5 295.8,511.5 296.3,511.5 296.7,511.5 297.1,511.5 297.6,511.5 298.0,511.6 298.4,511.8" fill="none" stroke="#141414" stroke-width="0.65" stroke-linejoin="round" stroke-dasharray="1.2 1.2"/>
<polyline points="245.2,492.3 245.6,492.5 246.0,492.7 246.4,492.9 246.8,493.1 247.2,493.3 247.6,493.5 248.0,493.7 248.4,493.9 248.8,494.1 249.2,494.3 249.6,494.5 250.0,494.7 250.4,494.9 250.8,495.1 251.2,495.3 251.6,495.4 252.0,495.6 252.4,495.8 252.8,496.0 253.2,496.2 253.6,496.4 254.0,496.6 254.4,496.8 254.8,497.0 255.2,497.2 255.6,497.4 256.0,497.6 256.4,497.8 256.8,498.0 257.2,498.2 257.6,498.4 258.0,498.6 258.4,498.8 258.8,498.9 259.2,499.1 259.6,499.3 260.0,499.5 260.4,499.7 260.8,499.9 261.2,500.1 261.6,500.2 262.0,500.4 262.5,500.6 262.9,500.8 263.3,500.9 263.7,501.1 264.1,501.3 264.5,501.4 264.9,501.6 265.3,501.7 265.7,501.9 266.1,502.1 266.5,502.2 267.0,502.4 267.4,502.5 267.8,502.7 268.2,502.8 268.6,503.0 269.0,503.1 269.4,503.3 269.8,503.4 270.3,503.6 270.7,503.7 271.1,503.9 271.5,504.0 271.9,504.2 272.3,504.3 272.7,504.5 273.1,504.6 273.6,504.8 274.0,504.9 274.4,505.1 274.8,505.2 275.2,505.4 275.6,505.6 276.0,505.7 276.4,505.9 276.9,506.0 277.3,506.2 277.7,506.4 278.1,506.5 278.5,506.7 278.9,506.9 279.3,507.0 279.7,507.2 280.1,507.4 280.5,507.5 280.9,507.7 281.3,507.9 281.7,508.1 282.1,508.3 282.5,508.4 282.9,508.6 283.3,508.8 283.7,509.0 284.1,509.2 284.5,509.4 285.0,509.6 285.4,509.7 285.8,509.9 286.2,510.0 286.6,510.1 287.1,510.2 287.5,510.3 287.9,510.4 288.3,510.5 288.8,510.6 289.2,510.6 289.6,510.7 290.1,510.8 290.5,510.9 290.9,511.0 291.4,511.1 291.8,511.3 292.2,511.4 292.6,511.6 293.0,511.7 293.4,511.9 293.8,512.1 294.3,512.1 294.7,512.1 295.2,512.1 295.7,512.1 296.1,512.0 296.6,512.0 297.0,512.0 297.5,512.1 297.9,512.3" fill="none" stroke="#141414" stroke-width="0.65" stroke-linejoin="round" stroke-dasharray="1.2 1.2"/>
<ellipse cx="248.0" cy="483.0" rx="11.2" ry="5.2" transform="rotate(116.6 248.0 483.0)" fill="none" stroke="#141414" stroke-width="0.9"/>
<ellipse cx="248.0" cy="483.0" rx="8.5" ry="3.5" transform="rotate(116.6 248.0 483.0)" fill="none" stroke="#141414" stroke-width="0.8"/>
<polygon points="294.4,511.9 301.4,515.9 304.6,510.1 297.6,506.1" fill="#fff" stroke="none"/>
<line x1="294.4" y1="511.9" x2="301.4" y2="515.9" stroke="#141414" stroke-width="0.95"/>
<line x1="297.6" y1="506.1" x2="304.6" y2="510.1" stroke="#141414" stroke-width="0.95"/>
<ellipse cx="303.0" cy="513.0" rx="3.3" ry="1.6" transform="rotate(119.7 303.0 513.0)" fill="#fff" stroke="#141414" stroke-width="0.95"/>
<line x1="274.5" y1="472.0" x2="274.5" y2="480.0" stroke="#141414" stroke-width="0.95"/>
<text transform="translate(272.0,471.0) scale(0.9,1)" font-size="10">5</text>
<polygon points="312.2,517.7 308.5,519.4 304.8,517.7 304.8,514.3 308.5,512.6 312.2,514.3" fill="#fff" stroke="#141414" stroke-width="1.05" stroke-linejoin="round"/>
<ellipse cx="308.5" cy="515.6" rx="3.7" ry="2.4" transform="rotate(0.0 308.5 515.6)" fill="none" stroke="#141414" stroke-width="0.7"/>
<ellipse cx="308.5" cy="515.6" rx="1.8" ry="1.3" transform="rotate(0.0 308.5 515.6)" fill="none" stroke="#141414" stroke-width="1.05"/>
<line x1="306.5" y1="517.9" x2="306.5" y2="519.2" stroke="#141414" stroke-width="0.7"/>
<line x1="310.5" y1="517.9" x2="310.5" y2="519.2" stroke="#141414" stroke-width="0.7"/>
<line x1="308.5" y1="493.0" x2="308.5" y2="509.0" stroke="#141414" stroke-width="0.95"/>
<text transform="translate(307.0,492.0) scale(0.9,1)" font-size="10">6</text>
<ellipse cx="318.0" cy="522.0" rx="3.8" ry="4.3" transform="rotate(20.0 318.0 522.0)" fill="none" stroke="#141414" stroke-width="0.95"/>
<ellipse cx="318.0" cy="522.0" rx="1.9" ry="2.2" transform="rotate(20.0 318.0 522.0)" fill="none" stroke="#141414" stroke-width="0.7"/>
<line x1="319.5" y1="499.0" x2="319.5" y2="515.0" stroke="#141414" stroke-width="0.95"/>
<text transform="translate(317.0,497.0) scale(0.9,1)" font-size="10">9</text>
<polygon points="322.8,531.0 349.8,546.0 354.2,538.0 327.2,523.0" fill="#fff" stroke="none"/>
<line x1="322.8" y1="531.0" x2="349.8" y2="546.0" stroke="#141414" stroke-width="0.95"/>
<line x1="327.2" y1="523.0" x2="354.2" y2="538.0" stroke="#141414" stroke-width="0.95"/>
<ellipse cx="325.0" cy="527.0" rx="4.6" ry="2.3" transform="rotate(119.0 325.0 527.0)" fill="#fff" stroke="#141414" stroke-width="0.95"/>
<ellipse cx="359.5" cy="542.5" rx="8.5" ry="5.5" transform="rotate(0.0 359.5 542.5)" fill="#fff" stroke="#141414" stroke-width="0.95"/>
<path d="M351,543 C351,549 354,552 359.5,552 C365,552 368,549 368,543" fill="none" stroke="#141414" stroke-width="0.95" stroke-linejoin="round" stroke-linecap="round"/>
<polygon points="356.1,550.5 356.6,559.0 362.4,559.0 362.9,550.5" fill="#fff" stroke="none"/>
<line x1="356.1" y1="550.5" x2="356.6" y2="559.0" stroke="#141414" stroke-width="0.95"/>
<line x1="362.9" y1="550.5" x2="362.4" y2="559.0" stroke="#141414" stroke-width="0.95"/>
<path d="M356.6,559 A2.9,1.2 0 0 0 362.4,559" fill="none" stroke="#141414" stroke-width="0.8" stroke-linejoin="round" stroke-linecap="round"/>
<polygon points="357.2,559.5 357.2,566.5 361.8,566.5 361.8,559.5" fill="#fff" stroke="none"/>
<line x1="357.5" y1="559.5" x2="357.5" y2="566.5" stroke="#141414" stroke-width="0.95"/>
<line x1="361.5" y1="559.5" x2="361.5" y2="566.5" stroke="#141414" stroke-width="0.95"/>
<path d="M357.2,560.9 A2.3,0.9 180.0 0 1 361.8,560.9" fill="none" stroke="#141414" stroke-width="0.95" stroke-linejoin="round" stroke-linecap="round"/>
<path d="M357.2,562.3 A2.3,0.9 180.0 0 1 361.8,562.3" fill="none" stroke="#141414" stroke-width="0.95" stroke-linejoin="round" stroke-linecap="round"/>
<path d="M357.2,563.7 A2.3,0.9 180.0 0 1 361.8,563.7" fill="none" stroke="#141414" stroke-width="0.95" stroke-linejoin="round" stroke-linecap="round"/>
<path d="M357.2,565.1 A2.3,0.9 180.0 0 1 361.8,565.1" fill="none" stroke="#141414" stroke-width="0.95" stroke-linejoin="round" stroke-linecap="round"/>
<line x1="359.5" y1="559.5" x2="359.5" y2="566.5" stroke="#141414" stroke-width="0.95"/>
<polygon points="364.0,573.0 361.5,576.5 356.5,576.5 354.0,573.0 356.5,569.5 361.5,569.5" fill="#fff" stroke="#141414" stroke-width="1.05" stroke-linejoin="round"/>
<ellipse cx="359.0" cy="572.5" rx="4.2" ry="2.8" transform="rotate(0.0 359.0 572.5)" fill="none" stroke="#141414" stroke-width="0.7"/>
<ellipse cx="359.0" cy="572.5" rx="2.1" ry="1.5" transform="rotate(0.0 359.0 572.5)" fill="none" stroke="#141414" stroke-width="1.05"/>
<line x1="356.5" y1="575.2" x2="356.5" y2="576.8" stroke="#141414" stroke-width="0.7"/>
<line x1="361.5" y1="575.2" x2="361.5" y2="576.8" stroke="#141414" stroke-width="0.7"/>
<line x1="340.5" y1="512.0" x2="340.5" y2="528.0" stroke="#141414" stroke-width="0.95"/>
<text transform="translate(337.5,509.6) scale(0.9,1)" font-size="9">4</text>
<line x1="365.0" y1="573.5" x2="373.5" y2="573.5" stroke="#141414" stroke-width="0.8"/>
<text transform="translate(374.8,577.5) scale(0.9,1)" font-size="10">2</text>
<text transform="translate(379.8,577.5) scale(0.9,1)" font-size="10">8</text>
<path d="M133,506 C136,510 140,514 143,516 L179,535 L173,548 L146,535 C138,531 133,528 131,524 C130,520 130,515 128,510 Z" fill="#fff" stroke="#141414" stroke-width="0.95" stroke-linejoin="round" stroke-linecap="round"/>
<path d="M173,535 L184,538 L178,550 L173,548" fill="#fff" stroke="#141414" stroke-width="0.95" stroke-linejoin="round" stroke-linecap="round"/>
<line x1="176.0" y1="537.0" x2="172.0" y2="546.0" stroke="#141414" stroke-width="0.6"/>
<polygon points="124.7,508.1 128.7,511.6 133.3,506.4 129.3,502.9" fill="#fff" stroke="none"/>
<line x1="124.7" y1="508.1" x2="128.7" y2="511.6" stroke="#141414" stroke-width="0.95"/>
<line x1="129.3" y1="502.9" x2="133.3" y2="506.4" stroke="#141414" stroke-width="0.95"/>
<path d="M126.0,509.3 A3.5,1.8 131.2 0 1 130.6,504.0" fill="none" stroke="#141414" stroke-width="0.95" stroke-linejoin="round" stroke-linecap="round"/>
<path d="M127.4,510.5 A3.5,1.8 131.2 0 1 132.0,505.2" fill="none" stroke="#141414" stroke-width="0.95" stroke-linejoin="round" stroke-linecap="round"/>
<ellipse cx="131.0" cy="509.0" rx="3.5" ry="1.8" transform="rotate(131.2 131.0 509.0)" fill="#fff" stroke="#141414" stroke-width="0.95"/>
<text x="141" y="522" font-size="4.2" transform="rotate(27 141 522)" fill="#333">AOV 063 000 04</text>
<line x1="153.5" y1="537.0" x2="153.5" y2="548.0" stroke="#141414" stroke-width="0.95"/>
<text transform="translate(148.0,557.0) scale(0.9,1)" font-size="10">2</text>
<text transform="translate(153.0,557.0) scale(0.9,1)" font-size="10">9</text>
<line x1="208.5" y1="141.0" x2="208.5" y2="238.0" stroke="#141414" stroke-width="0.9" stroke-dasharray="18 2.2 2.2 2.2"/>
<polyline points="333.0,190.0 336.0,193.0 385.0,223.0 385.0,228.0" fill="none" stroke="#141414" stroke-width="0.9" stroke-linejoin="round" stroke-dasharray="18 2.2 2.2 2.2"/>
<polyline points="131.0,339.0 131.0,279.0 320.0,389.0 320.0,344.0 314.0,341.0" fill="none" stroke="#141414" stroke-width="0.9" stroke-linejoin="round" stroke-dasharray="18 2.2 2.2 2.2"/>
<polyline points="131.0,335.0 141.0,341.0" fill="none" stroke="#141414" stroke-width="0.9" stroke-linejoin="round" stroke-dasharray="18 2.2 2.2 2.2"/>
<polyline points="315.0,307.7 336.0,295.5" fill="none" stroke="#141414" stroke-width="0.9" stroke-linejoin="round" stroke-dasharray="5 2"/>
<polyline points="161.5,431.0 153.5,426.5 153.5,384.0 351.0,497.0 351.0,463.0" fill="none" stroke="#141414" stroke-width="0.9" stroke-linejoin="round" stroke-dasharray="18 2.2 2.2 2.2"/>
</svg>
</body></html>
